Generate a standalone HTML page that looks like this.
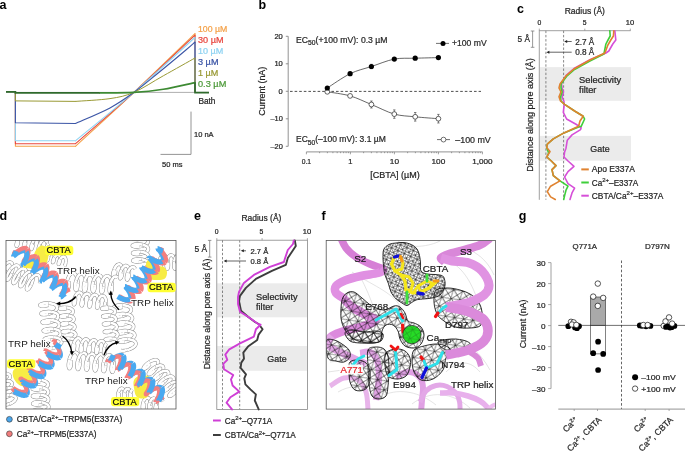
<!DOCTYPE html>
<html><head><meta charset="utf-8"><style>
html,body{margin:0;padding:0;background:#fff;overflow:hidden}
svg{display:block}
text{font-family:"Liberation Sans",sans-serif}
svg{-webkit-font-smoothing:antialiased;will-change:transform}
</style></head><body>
<svg width="685" height="451" viewBox="0 0 685 451">
<rect width="685" height="451" fill="#fff"/>
<clipPath id="cd"><rect x="6" y="240.4" width="170" height="168.6"/></clipPath>
<g clip-path="url(#cd)">
<path d="M18.2,240.5 L18.1,242.4 L17.8,244.2 L17.4,245.5 L16.9,246.1 L16.5,246.2 L16.3,245.6 L16.3,244.4 L16.6,242.8 L17.2,241.0 L18.0,239.1" fill="none" stroke="#858585" stroke-width="3.50" stroke-linecap="butt" stroke-linejoin="round"/>
<path d="M18.2,240.5 L18.1,242.4 L17.8,244.2 L17.4,245.5 L16.9,246.1 L16.5,246.2 L16.3,245.6 L16.3,244.4 L16.6,242.8 L17.2,241.0 L18.0,239.1" fill="none" stroke="#fff" stroke-width="2.60" stroke-linecap="butt" stroke-linejoin="round"/>
<path d="M18.0,239.1 L19.0,237.4 L20.2,236.1 L21.4,235.4 L22.6,235.2 L23.7,235.8 L24.6,236.9 L25.2,238.5 L25.5,240.4 L25.6,242.5" fill="none" stroke="#858585" stroke-width="3.50" stroke-linecap="butt" stroke-linejoin="round"/>
<path d="M18.0,239.1 L19.0,237.4 L20.2,236.1 L21.4,235.4 L22.6,235.2 L23.7,235.8 L24.6,236.9 L25.2,238.5 L25.5,240.4 L25.6,242.5" fill="none" stroke="#fff" stroke-width="2.60" stroke-linecap="butt" stroke-linejoin="round"/>
<path d="M25.6,242.5 L25.4,244.4 L25.0,246.1 L24.6,247.2 L24.1,247.7 L23.8,247.6 L23.6,246.9 L23.7,245.6 L24.1,243.9 L24.7,242.0 L25.6,240.2" fill="none" stroke="#858585" stroke-width="3.50" stroke-linecap="butt" stroke-linejoin="round"/>
<path d="M25.6,242.5 L25.4,244.4 L25.0,246.1 L24.6,247.2 L24.1,247.7 L23.8,247.6 L23.6,246.9 L23.7,245.6 L24.1,243.9 L24.7,242.0 L25.6,240.2" fill="none" stroke="#fff" stroke-width="2.60" stroke-linecap="butt" stroke-linejoin="round"/>
<path d="M25.6,240.2 L26.7,238.6 L27.9,237.4 L29.1,236.8 L30.3,236.8 L31.3,237.5 L32.1,238.8 L32.6,240.5 L32.9,242.5 L32.9,244.5" fill="none" stroke="#858585" stroke-width="3.50" stroke-linecap="butt" stroke-linejoin="round"/>
<path d="M25.6,240.2 L26.7,238.6 L27.9,237.4 L29.1,236.8 L30.3,236.8 L31.3,237.5 L32.1,238.8 L32.6,240.5 L32.9,242.5 L32.9,244.5" fill="none" stroke="#fff" stroke-width="2.60" stroke-linecap="butt" stroke-linejoin="round"/>
<path d="M32.9,244.5 L32.7,246.4 L32.3,247.9 L31.8,248.9 L31.4,249.3 L31.1,249.0 L31.0,248.1 L31.1,246.7 L31.5,245.0 L32.2,243.1" fill="none" stroke="#858585" stroke-width="3.50" stroke-linecap="butt" stroke-linejoin="round"/>
<path d="M32.9,244.5 L32.7,246.4 L32.3,247.9 L31.8,248.9 L31.4,249.3 L31.1,249.0 L31.0,248.1 L31.1,246.7 L31.5,245.0 L32.2,243.1" fill="none" stroke="#fff" stroke-width="2.60" stroke-linecap="butt" stroke-linejoin="round"/>
<path d="M32.2,243.1 L33.2,241.3 L34.3,239.8 L35.5,238.7 L36.8,238.3 L37.9,238.4 L38.9,239.3 L39.6,240.7 L40.1,242.5 L40.3,244.5 L40.2,246.5" fill="none" stroke="#858585" stroke-width="3.50" stroke-linecap="butt" stroke-linejoin="round"/>
<path d="M32.2,243.1 L33.2,241.3 L34.3,239.8 L35.5,238.7 L36.8,238.3 L37.9,238.4 L38.9,239.3 L39.6,240.7 L40.1,242.5 L40.3,244.5 L40.2,246.5" fill="none" stroke="#fff" stroke-width="2.60" stroke-linecap="butt" stroke-linejoin="round"/>
<path d="M40.2,246.5 L39.9,248.3 L39.5,249.7 L39.0,250.6 L38.6,250.8 L38.4,250.3 L38.3,249.3 L38.5,247.8 L39.0,246.0 L39.8,244.1" fill="none" stroke="#858585" stroke-width="3.50" stroke-linecap="butt" stroke-linejoin="round"/>
<path d="M40.2,246.5 L39.9,248.3 L39.5,249.7 L39.0,250.6 L38.6,250.8 L38.4,250.3 L38.3,249.3 L38.5,247.8 L39.0,246.0 L39.8,244.1" fill="none" stroke="#fff" stroke-width="2.60" stroke-linecap="butt" stroke-linejoin="round"/>
<path d="M39.8,244.1 L40.8,242.4 L41.9,241.0 L43.2,240.1 L44.4,239.8 L45.5,240.1 L46.4,241.1 L47.1,242.6 L47.5,244.5 L47.6,246.5 L47.5,248.5" fill="none" stroke="#858585" stroke-width="3.50" stroke-linecap="butt" stroke-linejoin="round"/>
<path d="M39.8,244.1 L40.8,242.4 L41.9,241.0 L43.2,240.1 L44.4,239.8 L45.5,240.1 L46.4,241.1 L47.1,242.6 L47.5,244.5 L47.6,246.5 L47.5,248.5" fill="none" stroke="#fff" stroke-width="2.60" stroke-linecap="butt" stroke-linejoin="round"/>
<path d="M47.5,248.5 L47.2,250.2 L46.7,251.5 L46.3,252.2 L45.9,252.2 L45.7,251.7 L45.7,250.5 L46.0,248.9 L46.5,247.1 L47.4,245.2" fill="none" stroke="#858585" stroke-width="3.50" stroke-linecap="butt" stroke-linejoin="round"/>
<path d="M47.5,248.5 L47.2,250.2 L46.7,251.5 L46.3,252.2 L45.9,252.2 L45.7,251.7 L45.7,250.5 L46.0,248.9 L46.5,247.1 L47.4,245.2" fill="none" stroke="#fff" stroke-width="2.60" stroke-linecap="butt" stroke-linejoin="round"/>
<path d="M47.4,245.2 L48.4,243.5" fill="none" stroke="#858585" stroke-width="3.50" stroke-linecap="butt" stroke-linejoin="round"/>
<path d="M47.4,245.2 L48.4,243.5" fill="none" stroke="#fff" stroke-width="2.60" stroke-linecap="butt" stroke-linejoin="round"/>
<path d="M5.1,269.5 L4.0,272.2 L2.8,274.5 L1.5,276.2 L0.4,276.9 L-0.3,276.8 L-0.6,275.8 L-0.4,274.0 L0.4,271.7 L1.7,269.1 L3.4,266.6" fill="none" stroke="#858585" stroke-width="3.50" stroke-linecap="butt" stroke-linejoin="round"/>
<path d="M5.1,269.5 L4.0,272.2 L2.8,274.5 L1.5,276.2 L0.4,276.9 L-0.3,276.8 L-0.6,275.8 L-0.4,274.0 L0.4,271.7 L1.7,269.1 L3.4,266.6" fill="none" stroke="#fff" stroke-width="2.60" stroke-linecap="butt" stroke-linejoin="round"/>
<path d="M3.4,266.6 L5.3,264.4 L7.3,262.8 L9.2,262.1 L10.8,262.2 L12.0,263.3 L12.7,265.1 L12.9,267.6 L12.5,270.5 L11.6,273.4" fill="none" stroke="#858585" stroke-width="3.50" stroke-linecap="butt" stroke-linejoin="round"/>
<path d="M3.4,266.6 L5.3,264.4 L7.3,262.8 L9.2,262.1 L10.8,262.2 L12.0,263.3 L12.7,265.1 L12.9,267.6 L12.5,270.5 L11.6,273.4" fill="none" stroke="#fff" stroke-width="2.60" stroke-linecap="butt" stroke-linejoin="round"/>
<path d="M11.6,273.4 L10.5,276.0 L9.2,278.2 L8.0,279.6 L7.0,280.2 L6.3,279.8 L6.2,278.6 L6.6,276.6 L7.5,274.2 L8.9,271.7 L10.6,269.2" fill="none" stroke="#858585" stroke-width="3.50" stroke-linecap="butt" stroke-linejoin="round"/>
<path d="M11.6,273.4 L10.5,276.0 L9.2,278.2 L8.0,279.6 L7.0,280.2 L6.3,279.8 L6.2,278.6 L6.6,276.6 L7.5,274.2 L8.9,271.7 L10.6,269.2" fill="none" stroke="#fff" stroke-width="2.60" stroke-linecap="butt" stroke-linejoin="round"/>
<path d="M10.6,269.2 L12.6,267.1 L14.6,265.8 L16.4,265.2 L18.0,265.6 L19.0,266.8 L19.6,268.9 L19.6,271.5 L19.1,274.4 L18.2,277.3" fill="none" stroke="#858585" stroke-width="3.50" stroke-linecap="butt" stroke-linejoin="round"/>
<path d="M10.6,269.2 L12.6,267.1 L14.6,265.8 L16.4,265.2 L18.0,265.6 L19.0,266.8 L19.6,268.9 L19.6,271.5 L19.1,274.4 L18.2,277.3" fill="none" stroke="#fff" stroke-width="2.60" stroke-linecap="butt" stroke-linejoin="round"/>
<path d="M18.2,277.3 L17.0,279.8 L15.7,281.8 L14.5,283.1 L13.6,283.4 L13.0,282.8 L13.0,281.3 L13.5,279.3 L14.6,276.8 L16.1,274.2" fill="none" stroke="#858585" stroke-width="3.50" stroke-linecap="butt" stroke-linejoin="round"/>
<path d="M18.2,277.3 L17.0,279.8 L15.7,281.8 L14.5,283.1 L13.6,283.4 L13.0,282.8 L13.0,281.3 L13.5,279.3 L14.6,276.8 L16.1,274.2" fill="none" stroke="#fff" stroke-width="2.60" stroke-linecap="butt" stroke-linejoin="round"/>
<path d="M16.1,274.2 L17.9,271.8 L19.9,269.9 L21.9,268.7 L23.6,268.4 L25.1,269.0 L26.0,270.5 L26.4,272.7 L26.3,275.4 L25.7,278.3 L24.7,281.1" fill="none" stroke="#858585" stroke-width="3.50" stroke-linecap="butt" stroke-linejoin="round"/>
<path d="M16.1,274.2 L17.9,271.8 L19.9,269.9 L21.9,268.7 L23.6,268.4 L25.1,269.0 L26.0,270.5 L26.4,272.7 L26.3,275.4 L25.7,278.3 L24.7,281.1" fill="none" stroke="#fff" stroke-width="2.60" stroke-linecap="butt" stroke-linejoin="round"/>
<path d="M24.7,281.1 L23.4,283.6 L22.2,285.4 L21.0,286.4 L20.2,286.5 L19.8,285.7 L19.9,284.1 L20.5,281.9 L21.7,279.3 L23.3,276.8" fill="none" stroke="#858585" stroke-width="3.50" stroke-linecap="butt" stroke-linejoin="round"/>
<path d="M24.7,281.1 L23.4,283.6 L22.2,285.4 L21.0,286.4 L20.2,286.5 L19.8,285.7 L19.9,284.1 L20.5,281.9 L21.7,279.3 L23.3,276.8" fill="none" stroke="#fff" stroke-width="2.60" stroke-linecap="butt" stroke-linejoin="round"/>
<path d="M23.3,276.8 L25.2,274.5 L27.2,272.7 L29.1,271.8 L30.8,271.7 L32.1,272.5 L33.0,274.2 L33.2,276.5 L33.0,279.3 L32.2,282.2 L31.2,285.0" fill="none" stroke="#858585" stroke-width="3.50" stroke-linecap="butt" stroke-linejoin="round"/>
<path d="M23.3,276.8 L25.2,274.5 L27.2,272.7 L29.1,271.8 L30.8,271.7 L32.1,272.5 L33.0,274.2 L33.2,276.5 L33.0,279.3 L32.2,282.2 L31.2,285.0" fill="none" stroke="#fff" stroke-width="2.60" stroke-linecap="butt" stroke-linejoin="round"/>
<path d="M31.2,285.0 L29.9,287.3 L28.7,288.9 L27.6,289.7 L26.8,289.6 L26.5,288.5 L26.8,286.8 L27.6,284.5 L28.9,281.9 L30.5,279.4" fill="none" stroke="#858585" stroke-width="3.50" stroke-linecap="butt" stroke-linejoin="round"/>
<path d="M31.2,285.0 L29.9,287.3 L28.7,288.9 L27.6,289.7 L26.8,289.6 L26.5,288.5 L26.8,286.8 L27.6,284.5 L28.9,281.9 L30.5,279.4" fill="none" stroke="#fff" stroke-width="2.60" stroke-linecap="butt" stroke-linejoin="round"/>
<path d="M30.5,279.4 L32.5,277.2 L34.5,275.6 L36.4,274.8 L38.0,275.0 L39.2,276.0 L39.9,277.9 L40.0,280.4 L39.6,283.2" fill="none" stroke="#858585" stroke-width="3.50" stroke-linecap="butt" stroke-linejoin="round"/>
<path d="M30.5,279.4 L32.5,277.2 L34.5,275.6 L36.4,274.8 L38.0,275.0 L39.2,276.0 L39.9,277.9 L40.0,280.4 L39.6,283.2" fill="none" stroke="#fff" stroke-width="2.60" stroke-linecap="butt" stroke-linejoin="round"/>
<path d="M48.6,256.5 L48.3,258.3 L47.8,259.8 L47.4,260.6 L47.0,260.7 L46.9,260.1 L47.2,258.8 L47.8,257.2 L48.7,255.6" fill="none" stroke="#858585" stroke-width="3.50" stroke-linecap="butt" stroke-linejoin="round"/>
<path d="M48.6,256.5 L48.3,258.3 L47.8,259.8 L47.4,260.6 L47.0,260.7 L46.9,260.1 L47.2,258.8 L47.8,257.2 L48.7,255.6" fill="none" stroke="#fff" stroke-width="2.60" stroke-linecap="butt" stroke-linejoin="round"/>
<path d="M48.7,255.6 L49.9,254.1 L51.2,253.2 L52.4,253.0 L53.4,253.5 L54.1,254.7 L54.4,256.4 L54.4,258.3" fill="none" stroke="#858585" stroke-width="3.50" stroke-linecap="butt" stroke-linejoin="round"/>
<path d="M48.7,255.6 L49.9,254.1 L51.2,253.2 L52.4,253.0 L53.4,253.5 L54.1,254.7 L54.4,256.4 L54.4,258.3" fill="none" stroke="#fff" stroke-width="2.60" stroke-linecap="butt" stroke-linejoin="round"/>
<path d="M54.4,258.3 L54.0,260.1 L53.6,261.6 L53.1,262.4 L52.7,262.5 L52.6,261.9 L52.9,260.6 L53.5,259.0 L54.5,257.4" fill="none" stroke="#858585" stroke-width="3.50" stroke-linecap="butt" stroke-linejoin="round"/>
<path d="M54.4,258.3 L54.0,260.1 L53.6,261.6 L53.1,262.4 L52.7,262.5 L52.6,261.9 L52.9,260.6 L53.5,259.0 L54.5,257.4" fill="none" stroke="#fff" stroke-width="2.60" stroke-linecap="butt" stroke-linejoin="round"/>
<path d="M54.5,257.4 L55.6,256.0 L56.9,255.0 L58.1,254.8 L59.1,255.3 L59.8,256.5 L60.1,258.2 L60.1,260.1" fill="none" stroke="#858585" stroke-width="3.50" stroke-linecap="butt" stroke-linejoin="round"/>
<path d="M54.5,257.4 L55.6,256.0 L56.9,255.0 L58.1,254.8 L59.1,255.3 L59.8,256.5 L60.1,258.2 L60.1,260.1" fill="none" stroke="#fff" stroke-width="2.60" stroke-linecap="butt" stroke-linejoin="round"/>
<path d="M60.1,260.1 L59.8,261.9 L59.3,263.4 L58.8,264.2 L58.5,264.3 L58.4,263.7 L58.6,262.4 L59.2,260.8 L60.2,259.2" fill="none" stroke="#858585" stroke-width="3.50" stroke-linecap="butt" stroke-linejoin="round"/>
<path d="M60.1,260.1 L59.8,261.9 L59.3,263.4 L58.8,264.2 L58.5,264.3 L58.4,263.7 L58.6,262.4 L59.2,260.8 L60.2,259.2" fill="none" stroke="#fff" stroke-width="2.60" stroke-linecap="butt" stroke-linejoin="round"/>
<path d="M60.2,259.2 L61.4,257.8 L62.6,256.8 L63.8,256.6 L64.8,257.1 L65.5,258.3 L65.8,260.0 L65.8,261.9" fill="none" stroke="#858585" stroke-width="3.50" stroke-linecap="butt" stroke-linejoin="round"/>
<path d="M60.2,259.2 L61.4,257.8 L62.6,256.8 L63.8,256.6 L64.8,257.1 L65.5,258.3 L65.8,260.0 L65.8,261.9" fill="none" stroke="#fff" stroke-width="2.60" stroke-linecap="butt" stroke-linejoin="round"/>
<path d="M65.8,261.9 L65.5,263.8 L65.0,265.2 L64.5,266.0 L64.2,266.1" fill="none" stroke="#858585" stroke-width="3.50" stroke-linecap="butt" stroke-linejoin="round"/>
<path d="M65.8,261.9 L65.5,263.8 L65.0,265.2 L64.5,266.0 L64.2,266.1" fill="none" stroke="#fff" stroke-width="2.60" stroke-linecap="butt" stroke-linejoin="round"/>
<path d="M140.1,239.0 L137.5,239.4 L135.1,239.3 L133.3,239.1 L132.3,238.6 L132.1,237.9 L132.8,237.3 L134.3,236.9 L136.5,236.6 L139.0,236.6 L141.7,237.0" fill="none" stroke="#858585" stroke-width="3.50" stroke-linecap="butt" stroke-linejoin="round"/>
<path d="M140.1,239.0 L137.5,239.4 L135.1,239.3 L133.3,239.1 L132.3,238.6 L132.1,237.9 L132.8,237.3 L134.3,236.9 L136.5,236.6 L139.0,236.6 L141.7,237.0" fill="none" stroke="#fff" stroke-width="2.60" stroke-linecap="butt" stroke-linejoin="round"/>
<path d="M141.7,237.0 L144.2,237.7 L146.3,238.7 L147.6,239.9 L148.2,241.3 L147.8,242.7 L146.6,244.0 L144.7,245.2 L142.3,246.1 L139.7,246.6" fill="none" stroke="#858585" stroke-width="3.50" stroke-linecap="butt" stroke-linejoin="round"/>
<path d="M141.7,237.0 L144.2,237.7 L146.3,238.7 L147.6,239.9 L148.2,241.3 L147.8,242.7 L146.6,244.0 L144.7,245.2 L142.3,246.1 L139.7,246.6" fill="none" stroke="#fff" stroke-width="2.60" stroke-linecap="butt" stroke-linejoin="round"/>
<path d="M139.7,246.6 L137.1,246.9 L134.9,246.8 L133.3,246.4 L132.4,245.9 L132.4,245.3 L133.4,244.7 L135.0,244.3 L137.3,244.1 L139.9,244.2 L142.6,244.6" fill="none" stroke="#858585" stroke-width="3.50" stroke-linecap="butt" stroke-linejoin="round"/>
<path d="M139.7,246.6 L137.1,246.9 L134.9,246.8 L133.3,246.4 L132.4,245.9 L132.4,245.3 L133.4,244.7 L135.0,244.3 L137.3,244.1 L139.9,244.2 L142.6,244.6" fill="none" stroke="#fff" stroke-width="2.60" stroke-linecap="butt" stroke-linejoin="round"/>
<path d="M142.6,244.6 L145.0,245.4 L146.9,246.4 L148.1,247.7 L148.4,249.1 L147.9,250.5 L146.5,251.8 L144.4,252.9 L141.9,253.7 L139.3,254.2" fill="none" stroke="#858585" stroke-width="3.50" stroke-linecap="butt" stroke-linejoin="round"/>
<path d="M142.6,244.6 L145.0,245.4 L146.9,246.4 L148.1,247.7 L148.4,249.1 L147.9,250.5 L146.5,251.8 L144.4,252.9 L141.9,253.7 L139.3,254.2" fill="none" stroke="#fff" stroke-width="2.60" stroke-linecap="butt" stroke-linejoin="round"/>
<path d="M139.3,254.2 L136.8,254.4 L134.7,254.2 L133.2,253.8 L132.6,253.2 L132.8,252.6 L134.0,252.1 L135.8,251.7 L138.2,251.6 L140.9,251.7" fill="none" stroke="#858585" stroke-width="3.50" stroke-linecap="butt" stroke-linejoin="round"/>
<path d="M139.3,254.2 L136.8,254.4 L134.7,254.2 L133.2,253.8 L132.6,253.2 L132.8,252.6 L134.0,252.1 L135.8,251.7 L138.2,251.6 L140.9,251.7" fill="none" stroke="#fff" stroke-width="2.60" stroke-linecap="butt" stroke-linejoin="round"/>
<path d="M140.9,251.7 L143.5,252.3 L145.8,253.1 L147.5,254.2 L148.5,255.6 L148.6,257.0 L147.8,258.4 L146.3,259.6 L144.1,260.7 L141.5,261.4 L138.9,261.8" fill="none" stroke="#858585" stroke-width="3.50" stroke-linecap="butt" stroke-linejoin="round"/>
<path d="M140.9,251.7 L143.5,252.3 L145.8,253.1 L147.5,254.2 L148.5,255.6 L148.6,257.0 L147.8,258.4 L146.3,259.6 L144.1,260.7 L141.5,261.4 L138.9,261.8" fill="none" stroke="#fff" stroke-width="2.60" stroke-linecap="butt" stroke-linejoin="round"/>
<path d="M138.9,261.8 L136.4,261.9 L134.5,261.6 L133.2,261.2 L132.8,260.6 L133.3,260.0 L134.6,259.5 L136.6,259.1 L139.1,259.1 L141.8,259.3" fill="none" stroke="#858585" stroke-width="3.50" stroke-linecap="butt" stroke-linejoin="round"/>
<path d="M138.9,261.8 L136.4,261.9 L134.5,261.6 L133.2,261.2 L132.8,260.6 L133.3,260.0 L134.6,259.5 L136.6,259.1 L139.1,259.1 L141.8,259.3" fill="none" stroke="#fff" stroke-width="2.60" stroke-linecap="butt" stroke-linejoin="round"/>
<path d="M141.8,259.3 L144.4,259.9 L146.5,260.9 L148.1,262.0 L148.9,263.4 L148.8,264.8 L147.8,266.2 L146.0,267.4 L143.7,268.4 L141.1,269.0" fill="none" stroke="#858585" stroke-width="3.50" stroke-linecap="butt" stroke-linejoin="round"/>
<path d="M141.8,259.3 L144.4,259.9 L146.5,260.9 L148.1,262.0 L148.9,263.4 L148.8,264.8 L147.8,266.2 L146.0,267.4 L143.7,268.4 L141.1,269.0" fill="none" stroke="#fff" stroke-width="2.60" stroke-linecap="butt" stroke-linejoin="round"/>
<path d="M160.7,262.0 L160.9,264.3 L160.9,266.3 L160.6,267.9 L160.2,268.8 L159.7,269.0 L159.3,268.3 L158.9,267.0 L158.8,265.1 L159.0,262.9 L159.4,260.5" fill="none" stroke="#858585" stroke-width="3.50" stroke-linecap="butt" stroke-linejoin="round"/>
<path d="M160.7,262.0 L160.9,264.3 L160.9,266.3 L160.6,267.9 L160.2,268.8 L159.7,269.0 L159.3,268.3 L158.9,267.0 L158.8,265.1 L159.0,262.9 L159.4,260.5" fill="none" stroke="#fff" stroke-width="2.60" stroke-linecap="butt" stroke-linejoin="round"/>
<path d="M159.4,260.5 L160.1,258.4 L161.1,256.6 L162.3,255.4 L163.5,255.0 L164.8,255.3 L166.0,256.4 L167.0,258.1 L167.8,260.3 L168.3,262.6" fill="none" stroke="#858585" stroke-width="3.50" stroke-linecap="butt" stroke-linejoin="round"/>
<path d="M159.4,260.5 L160.1,258.4 L161.1,256.6 L162.3,255.4 L163.5,255.0 L164.8,255.3 L166.0,256.4 L167.0,258.1 L167.8,260.3 L168.3,262.6" fill="none" stroke="#fff" stroke-width="2.60" stroke-linecap="butt" stroke-linejoin="round"/>
<path d="M168.3,262.6 L168.4,264.8 L168.3,266.8 L168.0,268.2 L167.6,268.9 L167.1,268.9 L166.7,268.1 L166.4,266.6 L166.3,264.6 L166.5,262.3 L167.1,260.0" fill="none" stroke="#858585" stroke-width="3.50" stroke-linecap="butt" stroke-linejoin="round"/>
<path d="M168.3,262.6 L168.4,264.8 L168.3,266.8 L168.0,268.2 L167.6,268.9 L167.1,268.9 L166.7,268.1 L166.4,266.6 L166.3,264.6 L166.5,262.3 L167.1,260.0" fill="none" stroke="#fff" stroke-width="2.60" stroke-linecap="butt" stroke-linejoin="round"/>
<path d="M167.1,260.0 L167.8,257.9 L168.9,256.3 L170.1,255.3 L171.4,255.0 L172.6,255.5 L173.8,256.8 L174.7,258.6 L175.4,260.8 L175.8,263.2" fill="none" stroke="#858585" stroke-width="3.50" stroke-linecap="butt" stroke-linejoin="round"/>
<path d="M167.1,260.0 L167.8,257.9 L168.9,256.3 L170.1,255.3 L171.4,255.0 L172.6,255.5 L173.8,256.8 L174.7,258.6 L175.4,260.8 L175.8,263.2" fill="none" stroke="#fff" stroke-width="2.60" stroke-linecap="butt" stroke-linejoin="round"/>
<path d="M175.8,263.2 L175.9,265.4 L175.8,267.2 L175.4,268.5 L175.0,269.0 L174.5,268.7 L174.1,267.7 L173.8,266.1 L173.9,264.0 L174.1,261.7" fill="none" stroke="#858585" stroke-width="3.50" stroke-linecap="butt" stroke-linejoin="round"/>
<path d="M175.8,263.2 L175.9,265.4 L175.8,267.2 L175.4,268.5 L175.0,269.0 L174.5,268.7 L174.1,267.7 L173.8,266.1 L173.9,264.0 L174.1,261.7" fill="none" stroke="#fff" stroke-width="2.60" stroke-linecap="butt" stroke-linejoin="round"/>
<path d="M174.1,261.7 L174.7,259.4 L175.6,257.4 L176.7,255.9 L177.9,255.1 L179.2,255.1 L180.4,255.8 L181.5,257.2 L182.4,259.2" fill="none" stroke="#858585" stroke-width="3.50" stroke-linecap="butt" stroke-linejoin="round"/>
<path d="M174.1,261.7 L174.7,259.4 L175.6,257.4 L176.7,255.9 L177.9,255.1 L179.2,255.1 L180.4,255.8 L181.5,257.2 L182.4,259.2" fill="none" stroke="#fff" stroke-width="2.60" stroke-linecap="butt" stroke-linejoin="round"/>
<path d="M115.6,270.5 L115.4,273.0 L114.8,275.1 L114.2,276.5 L113.6,277.2 L113.0,277.0 L112.8,275.9 L112.8,274.2 L113.3,272.0 L114.1,269.6" fill="none" stroke="#858585" stroke-width="3.50" stroke-linecap="butt" stroke-linejoin="round"/>
<path d="M115.6,270.5 L115.4,273.0 L114.8,275.1 L114.2,276.5 L113.6,277.2 L113.0,277.0 L112.8,275.9 L112.8,274.2 L113.3,272.0 L114.1,269.6" fill="none" stroke="#fff" stroke-width="2.60" stroke-linecap="butt" stroke-linejoin="round"/>
<path d="M114.1,269.6 L115.2,267.3 L116.5,265.5 L117.9,264.4 L119.4,264.1 L120.6,264.7 L121.6,266.1 L122.2,268.2 L122.5,270.6 L122.4,273.2" fill="none" stroke="#858585" stroke-width="3.50" stroke-linecap="butt" stroke-linejoin="round"/>
<path d="M114.1,269.6 L115.2,267.3 L116.5,265.5 L117.9,264.4 L119.4,264.1 L120.6,264.7 L121.6,266.1 L122.2,268.2 L122.5,270.6 L122.4,273.2" fill="none" stroke="#fff" stroke-width="2.60" stroke-linecap="butt" stroke-linejoin="round"/>
<path d="M122.4,273.2 L122.0,275.5 L121.4,277.3 L120.7,278.3 L120.1,278.6 L119.7,277.9 L119.6,276.5 L119.9,274.5 L120.5,272.1 L121.4,269.8" fill="none" stroke="#858585" stroke-width="3.50" stroke-linecap="butt" stroke-linejoin="round"/>
<path d="M122.4,273.2 L122.0,275.5 L121.4,277.3 L120.7,278.3 L120.1,278.6 L119.7,277.9 L119.6,276.5 L119.9,274.5 L120.5,272.1 L121.4,269.8" fill="none" stroke="#fff" stroke-width="2.60" stroke-linecap="butt" stroke-linejoin="round"/>
<path d="M121.4,269.8 L122.7,267.7 L124.1,266.3 L125.5,265.5 L126.9,265.7 L128.0,266.7 L128.8,268.5 L129.3,270.7 L129.3,273.3" fill="none" stroke="#858585" stroke-width="3.50" stroke-linecap="butt" stroke-linejoin="round"/>
<path d="M121.4,269.8 L122.7,267.7 L124.1,266.3 L125.5,265.5 L126.9,265.7 L128.0,266.7 L128.8,268.5 L129.3,270.7 L129.3,273.3" fill="none" stroke="#fff" stroke-width="2.60" stroke-linecap="butt" stroke-linejoin="round"/>
<path d="M129.3,273.3 L129.1,275.7 L128.6,277.8 L127.9,279.3 L127.3,279.9 L126.8,279.7 L126.5,278.7 L126.6,276.9 L127.0,274.7 L127.8,272.3" fill="none" stroke="#858585" stroke-width="3.50" stroke-linecap="butt" stroke-linejoin="round"/>
<path d="M129.3,273.3 L129.1,275.7 L128.6,277.8 L127.9,279.3 L127.3,279.9 L126.8,279.7 L126.5,278.7 L126.6,276.9 L127.0,274.7 L127.8,272.3" fill="none" stroke="#fff" stroke-width="2.60" stroke-linecap="butt" stroke-linejoin="round"/>
<path d="M127.8,272.3 L128.9,270.1 L130.2,268.3 L131.7,267.2 L133.1,266.9 L134.3,267.5 L135.3,268.9" fill="none" stroke="#858585" stroke-width="3.50" stroke-linecap="butt" stroke-linejoin="round"/>
<path d="M127.8,272.3 L128.9,270.1 L130.2,268.3 L131.7,267.2 L133.1,266.9 L134.3,267.5 L135.3,268.9" fill="none" stroke="#fff" stroke-width="2.60" stroke-linecap="butt" stroke-linejoin="round"/>
<path d="M3.6,374.2 L1.7,375.0 L0.0,375.4 L-1.3,375.6 L-2.1,375.5 L-2.3,375.2 L-1.9,374.7 L-0.8,374.2 L0.7,373.8 L2.6,373.5 L4.7,373.4" fill="none" stroke="#858585" stroke-width="3.50" stroke-linecap="butt" stroke-linejoin="round"/>
<path d="M3.6,374.2 L1.7,375.0 L0.0,375.4 L-1.3,375.6 L-2.1,375.5 L-2.3,375.2 L-1.9,374.7 L-0.8,374.2 L0.7,373.8 L2.6,373.5 L4.7,373.4" fill="none" stroke="#fff" stroke-width="2.60" stroke-linecap="butt" stroke-linejoin="round"/>
<path d="M4.7,373.4 L6.6,373.6 L8.3,374.1 L9.5,374.9 L10.2,375.9 L10.2,377.1 L9.6,378.3 L8.4,379.6 L6.8,380.7 L5.0,381.7" fill="none" stroke="#858585" stroke-width="3.50" stroke-linecap="butt" stroke-linejoin="round"/>
<path d="M4.7,373.4 L6.6,373.6 L8.3,374.1 L9.5,374.9 L10.2,375.9 L10.2,377.1 L9.6,378.3 L8.4,379.6 L6.8,380.7 L5.0,381.7" fill="none" stroke="#fff" stroke-width="2.60" stroke-linecap="butt" stroke-linejoin="round"/>
<path d="M5.0,381.7 L3.2,382.4 L1.5,382.8 L0.3,382.9 L-0.4,382.7 L-0.4,382.4 L0.2,381.9 L1.4,381.4 L3.0,381.0 L5.0,380.7 L7.0,380.7" fill="none" stroke="#858585" stroke-width="3.50" stroke-linecap="butt" stroke-linejoin="round"/>
<path d="M5.0,381.7 L3.2,382.4 L1.5,382.8 L0.3,382.9 L-0.4,382.7 L-0.4,382.4 L0.2,381.9 L1.4,381.4 L3.0,381.0 L5.0,380.7 L7.0,380.7" fill="none" stroke="#fff" stroke-width="2.60" stroke-linecap="butt" stroke-linejoin="round"/>
<path d="M7.0,380.7 L9.0,381.0 L10.5,381.5 L11.6,382.4 L12.1,383.4 L12.0,384.6 L11.2,385.9 L9.9,387.2 L8.2,388.3 L6.4,389.1" fill="none" stroke="#858585" stroke-width="3.50" stroke-linecap="butt" stroke-linejoin="round"/>
<path d="M7.0,380.7 L9.0,381.0 L10.5,381.5 L11.6,382.4 L12.1,383.4 L12.0,384.6 L11.2,385.9 L9.9,387.2 L8.2,388.3 L6.4,389.1" fill="none" stroke="#fff" stroke-width="2.60" stroke-linecap="butt" stroke-linejoin="round"/>
<path d="M6.4,389.1 L4.6,389.8 L3.1,390.1 L2.0,390.1 L1.4,389.9 L1.5,389.5 L2.3,389.0 L3.6,388.5 L5.4,388.1 L7.4,387.9" fill="none" stroke="#858585" stroke-width="3.50" stroke-linecap="butt" stroke-linejoin="round"/>
<path d="M6.4,389.1 L4.6,389.8 L3.1,390.1 L2.0,390.1 L1.4,389.9 L1.5,389.5 L2.3,389.0 L3.6,388.5 L5.4,388.1 L7.4,387.9" fill="none" stroke="#fff" stroke-width="2.60" stroke-linecap="butt" stroke-linejoin="round"/>
<path d="M7.4,387.9 L9.4,388.0 L11.3,388.3 L12.7,389.0 L13.7,389.9 L14.0,391.0 L13.7,392.2 L12.8,393.5 L11.4,394.7 L9.7,395.8 L7.8,396.6" fill="none" stroke="#858585" stroke-width="3.50" stroke-linecap="butt" stroke-linejoin="round"/>
<path d="M7.4,387.9 L9.4,388.0 L11.3,388.3 L12.7,389.0 L13.7,389.9 L14.0,391.0 L13.7,392.2 L12.8,393.5 L11.4,394.7 L9.7,395.8 L7.8,396.6" fill="none" stroke="#fff" stroke-width="2.60" stroke-linecap="butt" stroke-linejoin="round"/>
<path d="M7.8,396.6 L6.1,397.1 L4.6,397.4 L3.6,397.3 L3.3,397.1 L3.6,396.6 L4.5,396.1 L5.9,395.7 L7.7,395.3 L9.8,395.2" fill="none" stroke="#858585" stroke-width="3.50" stroke-linecap="butt" stroke-linejoin="round"/>
<path d="M7.8,396.6 L6.1,397.1 L4.6,397.4 L3.6,397.3 L3.3,397.1 L3.6,396.6 L4.5,396.1 L5.9,395.7 L7.7,395.3 L9.8,395.2" fill="none" stroke="#fff" stroke-width="2.60" stroke-linecap="butt" stroke-linejoin="round"/>
<path d="M9.8,395.2 L11.8,395.3 L13.5,395.7 L14.9,396.4 L15.7,397.4 L15.9,398.5 L15.4,399.8 L14.4,401.1 L12.8,402.3 L11.1,403.3 L9.2,404.0" fill="none" stroke="#858585" stroke-width="3.50" stroke-linecap="butt" stroke-linejoin="round"/>
<path d="M9.8,395.2 L11.8,395.3 L13.5,395.7 L14.9,396.4 L15.7,397.4 L15.9,398.5 L15.4,399.8 L14.4,401.1 L12.8,402.3 L11.1,403.3 L9.2,404.0" fill="none" stroke="#fff" stroke-width="2.60" stroke-linecap="butt" stroke-linejoin="round"/>
<path d="M9.2,404.0 L7.5,404.5 L6.2,404.7 L5.4,404.6 L5.2,404.2" fill="none" stroke="#858585" stroke-width="3.50" stroke-linecap="butt" stroke-linejoin="round"/>
<path d="M9.2,404.0 L7.5,404.5 L6.2,404.7 L5.4,404.6 L5.2,404.2" fill="none" stroke="#fff" stroke-width="2.60" stroke-linecap="butt" stroke-linejoin="round"/>
<path d="M40.1,382.0 L37.5,382.3 L35.1,382.3 L33.3,382.0 L32.3,381.5 L32.1,380.9 L32.8,380.3 L34.3,379.8 L36.5,379.6 L39.0,379.6 L41.7,380.0" fill="none" stroke="#858585" stroke-width="3.50" stroke-linecap="butt" stroke-linejoin="round"/>
<path d="M40.1,382.0 L37.5,382.3 L35.1,382.3 L33.3,382.0 L32.3,381.5 L32.1,380.9 L32.8,380.3 L34.3,379.8 L36.5,379.6 L39.0,379.6 L41.7,380.0" fill="none" stroke="#fff" stroke-width="2.60" stroke-linecap="butt" stroke-linejoin="round"/>
<path d="M41.7,380.0 L44.2,380.7 L46.2,381.7 L47.6,382.9 L48.2,384.3 L47.8,385.7 L46.6,387.0 L44.7,388.2 L42.3,389.1 L39.6,389.6" fill="none" stroke="#858585" stroke-width="3.50" stroke-linecap="butt" stroke-linejoin="round"/>
<path d="M41.7,380.0 L44.2,380.7 L46.2,381.7 L47.6,382.9 L48.2,384.3 L47.8,385.7 L46.6,387.0 L44.7,388.2 L42.3,389.1 L39.6,389.6" fill="none" stroke="#fff" stroke-width="2.60" stroke-linecap="butt" stroke-linejoin="round"/>
<path d="M39.6,389.6 L37.1,389.9 L34.8,389.8 L33.2,389.4 L32.4,388.9 L32.4,388.3 L33.3,387.7 L35.0,387.2 L37.3,387.1 L39.9,387.2 L42.6,387.6" fill="none" stroke="#858585" stroke-width="3.50" stroke-linecap="butt" stroke-linejoin="round"/>
<path d="M39.6,389.6 L37.1,389.9 L34.8,389.8 L33.2,389.4 L32.4,388.9 L32.4,388.3 L33.3,387.7 L35.0,387.2 L37.3,387.1 L39.9,387.2 L42.6,387.6" fill="none" stroke="#fff" stroke-width="2.60" stroke-linecap="butt" stroke-linejoin="round"/>
<path d="M42.6,387.6 L45.0,388.4 L46.9,389.5 L48.1,390.8 L48.4,392.2 L47.8,393.6 L46.4,394.9 L44.4,395.9 L41.9,396.8 L39.2,397.2" fill="none" stroke="#858585" stroke-width="3.50" stroke-linecap="butt" stroke-linejoin="round"/>
<path d="M42.6,387.6 L45.0,388.4 L46.9,389.5 L48.1,390.8 L48.4,392.2 L47.8,393.6 L46.4,394.9 L44.4,395.9 L41.9,396.8 L39.2,397.2" fill="none" stroke="#fff" stroke-width="2.60" stroke-linecap="butt" stroke-linejoin="round"/>
<path d="M39.2,397.2 L36.7,397.4 L34.6,397.2 L33.1,396.8 L32.5,396.2 L32.8,395.6 L33.9,395.1 L35.8,394.7 L38.1,394.6 L40.8,394.7" fill="none" stroke="#858585" stroke-width="3.50" stroke-linecap="butt" stroke-linejoin="round"/>
<path d="M39.2,397.2 L36.7,397.4 L34.6,397.2 L33.1,396.8 L32.5,396.2 L32.8,395.6 L33.9,395.1 L35.8,394.7 L38.1,394.6 L40.8,394.7" fill="none" stroke="#fff" stroke-width="2.60" stroke-linecap="butt" stroke-linejoin="round"/>
<path d="M40.8,394.7 L43.4,395.3 L45.7,396.1 L47.5,397.3 L48.4,398.6 L48.5,400.0 L47.8,401.4 L46.2,402.6 L44.0,403.7 L41.4,404.4 L38.8,404.8" fill="none" stroke="#858585" stroke-width="3.50" stroke-linecap="butt" stroke-linejoin="round"/>
<path d="M40.8,394.7 L43.4,395.3 L45.7,396.1 L47.5,397.3 L48.4,398.6 L48.5,400.0 L47.8,401.4 L46.2,402.6 L44.0,403.7 L41.4,404.4 L38.8,404.8" fill="none" stroke="#fff" stroke-width="2.60" stroke-linecap="butt" stroke-linejoin="round"/>
<path d="M38.8,404.8 L36.3,404.9 L34.4,404.6 L33.1,404.2 L32.7,403.6 L33.2,403.0 L34.5,402.4 L36.5,402.1 L39.0,402.1 L41.7,402.3" fill="none" stroke="#858585" stroke-width="3.50" stroke-linecap="butt" stroke-linejoin="round"/>
<path d="M38.8,404.8 L36.3,404.9 L34.4,404.6 L33.1,404.2 L32.7,403.6 L33.2,403.0 L34.5,402.4 L36.5,402.1 L39.0,402.1 L41.7,402.3" fill="none" stroke="#fff" stroke-width="2.60" stroke-linecap="butt" stroke-linejoin="round"/>
<path d="M41.7,402.3 L44.3,403.0 L46.5,403.9 L48.0,405.1 L48.8,406.4 L48.6,407.9 L47.6,409.2 L45.9,410.4 L43.6,411.4 L41.0,412.0 L38.3,412.3" fill="none" stroke="#858585" stroke-width="3.50" stroke-linecap="butt" stroke-linejoin="round"/>
<path d="M41.7,402.3 L44.3,403.0 L46.5,403.9 L48.0,405.1 L48.8,406.4 L48.6,407.9 L47.6,409.2 L45.9,410.4 L43.6,411.4 L41.0,412.0 L38.3,412.3" fill="none" stroke="#fff" stroke-width="2.60" stroke-linecap="butt" stroke-linejoin="round"/>
<path d="M38.3,412.3 L36.0,412.3 L34.2,412.0 L33.2,411.5 L33.0,410.9 L33.7,410.3 L35.2,409.8 L37.3,409.6 L39.9,409.6 L42.6,410.0" fill="none" stroke="#858585" stroke-width="3.50" stroke-linecap="butt" stroke-linejoin="round"/>
<path d="M38.3,412.3 L36.0,412.3 L34.2,412.0 L33.2,411.5 L33.0,410.9 L33.7,410.3 L35.2,409.8 L37.3,409.6 L39.9,409.6 L42.6,410.0" fill="none" stroke="#fff" stroke-width="2.60" stroke-linecap="butt" stroke-linejoin="round"/>
<path d="M150.1,364.2 L148.3,366.2 L146.6,367.7 L145.0,368.7 L143.9,369.0 L143.3,368.7 L143.5,367.8 L144.3,366.4 L145.7,364.8 L147.7,363.1 L149.9,361.6" fill="none" stroke="#858585" stroke-width="3.50" stroke-linecap="butt" stroke-linejoin="round"/>
<path d="M150.1,364.2 L148.3,366.2 L146.6,367.7 L145.0,368.7 L143.9,369.0 L143.3,368.7 L143.5,367.8 L144.3,366.4 L145.7,364.8 L147.7,363.1 L149.9,361.6" fill="none" stroke="#fff" stroke-width="2.60" stroke-linecap="butt" stroke-linejoin="round"/>
<path d="M149.9,361.6 L152.3,360.5 L154.5,359.9 L156.3,359.9 L157.6,360.6 L158.3,361.9 L158.3,363.7 L157.6,365.8 L156.4,368.0 L154.8,370.2" fill="none" stroke="#858585" stroke-width="3.50" stroke-linecap="butt" stroke-linejoin="round"/>
<path d="M149.9,361.6 L152.3,360.5 L154.5,359.9 L156.3,359.9 L157.6,360.6 L158.3,361.9 L158.3,363.7 L157.6,365.8 L156.4,368.0 L154.8,370.2" fill="none" stroke="#fff" stroke-width="2.60" stroke-linecap="butt" stroke-linejoin="round"/>
<path d="M154.8,370.2 L153.0,372.1 L151.3,373.5 L149.8,374.3 L148.8,374.4 L148.4,374.0 L148.7,372.9 L149.7,371.5 L151.3,369.8 L153.3,368.2 L155.6,366.8" fill="none" stroke="#858585" stroke-width="3.50" stroke-linecap="butt" stroke-linejoin="round"/>
<path d="M154.8,370.2 L153.0,372.1 L151.3,373.5 L149.8,374.3 L148.8,374.4 L148.4,374.0 L148.7,372.9 L149.7,371.5 L151.3,369.8 L153.3,368.2 L155.6,366.8" fill="none" stroke="#fff" stroke-width="2.60" stroke-linecap="butt" stroke-linejoin="round"/>
<path d="M155.6,366.8 L158.0,365.7 L160.1,365.3 L161.8,365.5 L163.0,366.3 L163.5,367.7 L163.3,369.6 L162.5,371.8 L161.1,374.1 L159.5,376.2" fill="none" stroke="#858585" stroke-width="3.50" stroke-linecap="butt" stroke-linejoin="round"/>
<path d="M155.6,366.8 L158.0,365.7 L160.1,365.3 L161.8,365.5 L163.0,366.3 L163.5,367.7 L163.3,369.6 L162.5,371.8 L161.1,374.1 L159.5,376.2" fill="none" stroke="#fff" stroke-width="2.60" stroke-linecap="butt" stroke-linejoin="round"/>
<path d="M159.5,376.2 L157.7,378.0 L156.0,379.2 L154.6,379.9 L153.8,379.9 L153.6,379.2 L154.1,378.1 L155.2,376.6 L156.9,374.9 L159.0,373.3" fill="none" stroke="#858585" stroke-width="3.50" stroke-linecap="butt" stroke-linejoin="round"/>
<path d="M159.5,376.2 L157.7,378.0 L156.0,379.2 L154.6,379.9 L153.8,379.9 L153.6,379.2 L154.1,378.1 L155.2,376.6 L156.9,374.9 L159.0,373.3" fill="none" stroke="#fff" stroke-width="2.60" stroke-linecap="butt" stroke-linejoin="round"/>
<path d="M159.0,373.3 L161.3,371.9 L163.6,371.0 L165.7,370.7 L167.3,371.1 L168.3,372.1 L168.6,373.6 L168.3,375.6 L167.3,377.9 L165.9,380.1 L164.2,382.1" fill="none" stroke="#858585" stroke-width="3.50" stroke-linecap="butt" stroke-linejoin="round"/>
<path d="M159.0,373.3 L161.3,371.9 L163.6,371.0 L165.7,370.7 L167.3,371.1 L168.3,372.1 L168.6,373.6 L168.3,375.6 L167.3,377.9 L165.9,380.1 L164.2,382.1" fill="none" stroke="#fff" stroke-width="2.60" stroke-linecap="butt" stroke-linejoin="round"/>
<path d="M164.2,382.1 L162.4,383.8 L160.7,384.9 L159.5,385.4 L158.8,385.2 L158.8,384.4 L159.4,383.2 L160.7,381.6 L162.5,379.9 L164.7,378.4" fill="none" stroke="#858585" stroke-width="3.50" stroke-linecap="butt" stroke-linejoin="round"/>
<path d="M164.2,382.1 L162.4,383.8 L160.7,384.9 L159.5,385.4 L158.8,385.2 L158.8,384.4 L159.4,383.2 L160.7,381.6 L162.5,379.9 L164.7,378.4" fill="none" stroke="#fff" stroke-width="2.60" stroke-linecap="butt" stroke-linejoin="round"/>
<path d="M164.7,378.4 L167.1,377.1 L169.3,376.4 L171.3,376.2 L172.7,376.8 L173.6,377.9 L173.7,379.6 L173.2,381.6 L172.1,383.9 L170.6,386.1 L168.8,388.1" fill="none" stroke="#858585" stroke-width="3.50" stroke-linecap="butt" stroke-linejoin="round"/>
<path d="M164.7,378.4 L167.1,377.1 L169.3,376.4 L171.3,376.2 L172.7,376.8 L173.6,377.9 L173.7,379.6 L173.2,381.6 L172.1,383.9 L170.6,386.1 L168.8,388.1" fill="none" stroke="#fff" stroke-width="2.60" stroke-linecap="butt" stroke-linejoin="round"/>
<path d="M168.8,388.1 L167.1,389.6 L165.5,390.6 L164.4,390.9 L163.9,390.6 L164.0,389.6 L164.8,388.3 L166.2,386.7 L168.2,385.0 L170.4,383.5" fill="none" stroke="#858585" stroke-width="3.50" stroke-linecap="butt" stroke-linejoin="round"/>
<path d="M168.8,388.1 L167.1,389.6 L165.5,390.6 L164.4,390.9 L163.9,390.6 L164.0,389.6 L164.8,388.3 L166.2,386.7 L168.2,385.0 L170.4,383.5" fill="none" stroke="#fff" stroke-width="2.60" stroke-linecap="butt" stroke-linejoin="round"/>
<path d="M170.4,383.5 L172.8,382.4 L175.0,381.8 L176.8,381.8 L178.1,382.5 L178.8,383.7 L178.8,385.5 L178.1,387.7 L176.9,389.9 L175.3,392.1" fill="none" stroke="#858585" stroke-width="3.50" stroke-linecap="butt" stroke-linejoin="round"/>
<path d="M170.4,383.5 L172.8,382.4 L175.0,381.8 L176.8,381.8 L178.1,382.5 L178.8,383.7 L178.8,385.5 L178.1,387.7 L176.9,389.9 L175.3,392.1" fill="none" stroke="#fff" stroke-width="2.60" stroke-linecap="butt" stroke-linejoin="round"/>
<path d="M175.3,392.1 L173.5,394.0 L171.8,395.4 L170.3,396.2 L169.3,396.3 L169.0,395.8 L169.3,394.8 L170.2,393.4 L171.8,391.7 L173.9,390.1 L176.1,388.6" fill="none" stroke="#858585" stroke-width="3.50" stroke-linecap="butt" stroke-linejoin="round"/>
<path d="M175.3,392.1 L173.5,394.0 L171.8,395.4 L170.3,396.2 L169.3,396.3 L169.0,395.8 L169.3,394.8 L170.2,393.4 L171.8,391.7 L173.9,390.1 L176.1,388.6" fill="none" stroke="#fff" stroke-width="2.60" stroke-linecap="butt" stroke-linejoin="round"/>
<path d="M176.1,388.6 L178.5,387.6 L180.6,387.2 L182.3,387.4 L183.5,388.2 L184.0,389.6" fill="none" stroke="#858585" stroke-width="3.50" stroke-linecap="butt" stroke-linejoin="round"/>
<path d="M176.1,388.6 L178.5,387.6 L180.6,387.2 L182.3,387.4 L183.5,388.2 L184.0,389.6" fill="none" stroke="#fff" stroke-width="2.60" stroke-linecap="butt" stroke-linejoin="round"/>
<path d="M118.9,393.1 L119.0,395.2 L118.8,396.8 L118.5,397.9 L118.1,398.1 L117.8,397.4 L117.7,396.0 L117.9,394.1 L118.4,392.0" fill="none" stroke="#858585" stroke-width="3.50" stroke-linecap="butt" stroke-linejoin="round"/>
<path d="M118.9,393.1 L119.0,395.2 L118.8,396.8 L118.5,397.9 L118.1,398.1 L117.8,397.4 L117.7,396.0 L117.9,394.1 L118.4,392.0" fill="none" stroke="#fff" stroke-width="2.60" stroke-linecap="butt" stroke-linejoin="round"/>
<path d="M118.4,392.0 L119.2,390.2 L120.3,388.9 L121.5,388.3 L122.7,388.6 L123.7,389.7 L124.4,391.4 L124.9,393.5" fill="none" stroke="#858585" stroke-width="3.50" stroke-linecap="butt" stroke-linejoin="round"/>
<path d="M118.4,392.0 L119.2,390.2 L120.3,388.9 L121.5,388.3 L122.7,388.6 L123.7,389.7 L124.4,391.4 L124.9,393.5" fill="none" stroke="#fff" stroke-width="2.60" stroke-linecap="butt" stroke-linejoin="round"/>
<path d="M124.9,393.5 L125.0,395.5 L124.8,397.2 L124.5,398.2 L124.1,398.4 L123.8,397.8 L123.7,396.4 L123.9,394.5 L124.4,392.4" fill="none" stroke="#858585" stroke-width="3.50" stroke-linecap="butt" stroke-linejoin="round"/>
<path d="M124.9,393.5 L125.0,395.5 L124.8,397.2 L124.5,398.2 L124.1,398.4 L123.8,397.8 L123.7,396.4 L123.9,394.5 L124.4,392.4" fill="none" stroke="#fff" stroke-width="2.60" stroke-linecap="butt" stroke-linejoin="round"/>
<path d="M124.4,392.4 L125.2,390.6 L126.3,389.2 L127.5,388.7 L128.7,389.0 L129.7,390.1 L130.4,391.8 L130.9,393.9" fill="none" stroke="#858585" stroke-width="3.50" stroke-linecap="butt" stroke-linejoin="round"/>
<path d="M124.4,392.4 L125.2,390.6 L126.3,389.2 L127.5,388.7 L128.7,389.0 L129.7,390.1 L130.4,391.8 L130.9,393.9" fill="none" stroke="#fff" stroke-width="2.60" stroke-linecap="butt" stroke-linejoin="round"/>
<path d="M130.9,393.9 L131.0,395.9 L130.8,397.6 L130.5,398.6 L130.1,398.8 L129.8,398.1 L129.7,396.7 L129.9,394.8 L130.4,392.8" fill="none" stroke="#858585" stroke-width="3.50" stroke-linecap="butt" stroke-linejoin="round"/>
<path d="M130.9,393.9 L131.0,395.9 L130.8,397.6 L130.5,398.6 L130.1,398.8 L129.8,398.1 L129.7,396.7 L129.9,394.8 L130.4,392.8" fill="none" stroke="#fff" stroke-width="2.60" stroke-linecap="butt" stroke-linejoin="round"/>
<path d="M130.4,392.8 L131.2,390.9 L132.3,389.6" fill="none" stroke="#858585" stroke-width="3.50" stroke-linecap="butt" stroke-linejoin="round"/>
<path d="M130.4,392.8 L131.2,390.9 L132.3,389.6" fill="none" stroke="#fff" stroke-width="2.60" stroke-linecap="butt" stroke-linejoin="round"/>
<path d="M144.3,403.2 L144.3,405.5 L144.0,407.4 L143.5,408.7 L143.0,409.1 L142.6,408.7 L142.4,407.5 L142.5,405.6 L142.9,403.4 L143.6,401.2" fill="none" stroke="#858585" stroke-width="3.50" stroke-linecap="butt" stroke-linejoin="round"/>
<path d="M144.3,403.2 L144.3,405.5 L144.0,407.4 L143.5,408.7 L143.0,409.1 L142.6,408.7 L142.4,407.5 L142.5,405.6 L142.9,403.4 L143.6,401.2" fill="none" stroke="#fff" stroke-width="2.60" stroke-linecap="butt" stroke-linejoin="round"/>
<path d="M143.6,401.2 L144.7,399.3 L145.9,398.0 L147.2,397.5 L148.5,397.9 L149.5,399.2 L150.3,401.1 L150.7,403.3 L150.8,405.6" fill="none" stroke="#858585" stroke-width="3.50" stroke-linecap="butt" stroke-linejoin="round"/>
<path d="M143.6,401.2 L144.7,399.3 L145.9,398.0 L147.2,397.5 L148.5,397.9 L149.5,399.2 L150.3,401.1 L150.7,403.3 L150.8,405.6" fill="none" stroke="#fff" stroke-width="2.60" stroke-linecap="butt" stroke-linejoin="round"/>
<path d="M150.8,405.6 L150.5,407.7 L150.1,409.1 L149.6,409.8 L149.2,409.6 L148.9,408.5 L148.9,406.8 L149.2,404.6 L149.9,402.4" fill="none" stroke="#858585" stroke-width="3.50" stroke-linecap="butt" stroke-linejoin="round"/>
<path d="M150.8,405.6 L150.5,407.7 L150.1,409.1 L149.6,409.8 L149.2,409.6 L148.9,408.5 L148.9,406.8 L149.2,404.6 L149.9,402.4" fill="none" stroke="#fff" stroke-width="2.60" stroke-linecap="butt" stroke-linejoin="round"/>
<path d="M149.9,402.4 L150.9,400.4 L152.1,398.9 L153.4,398.3 L154.6,398.4 L155.7,399.5 L156.6,401.2 L157.1,403.4 L157.2,405.8" fill="none" stroke="#858585" stroke-width="3.50" stroke-linecap="butt" stroke-linejoin="round"/>
<path d="M149.9,402.4 L150.9,400.4 L152.1,398.9 L153.4,398.3 L154.6,398.4 L155.7,399.5 L156.6,401.2 L157.1,403.4 L157.2,405.8" fill="none" stroke="#fff" stroke-width="2.60" stroke-linecap="butt" stroke-linejoin="round"/>
<path d="M157.2,405.8 L157.1,407.9 L156.7,409.5 L156.2,410.4 L155.7,410.4 L155.4,409.5 L155.3,407.9 L155.6,405.9 L156.2,403.6" fill="none" stroke="#858585" stroke-width="3.50" stroke-linecap="butt" stroke-linejoin="round"/>
<path d="M157.2,405.8 L157.1,407.9 L156.7,409.5 L156.2,410.4 L155.7,410.4 L155.4,409.5 L155.3,407.9 L155.6,405.9 L156.2,403.6" fill="none" stroke="#fff" stroke-width="2.60" stroke-linecap="butt" stroke-linejoin="round"/>
<path d="M156.2,403.6 L157.1,401.5 L158.2,399.9 L159.5,399.0 L160.8,399.0 L161.9,399.8 L162.9,401.4" fill="none" stroke="#858585" stroke-width="3.50" stroke-linecap="butt" stroke-linejoin="round"/>
<path d="M156.2,403.6 L157.1,401.5 L158.2,399.9 L159.5,399.0 L160.8,399.0 L161.9,399.8 L162.9,401.4" fill="none" stroke="#fff" stroke-width="2.60" stroke-linecap="butt" stroke-linejoin="round"/>
<path d="M69.2,281.3 L69.3,283.7 L69.1,286.0 L68.7,287.8 L68.2,289.0 L67.7,289.6 L67.1,289.5 L66.7,288.6 L66.5,287.2 L66.4,285.2 L66.7,282.9 L67.2,280.5" fill="none" stroke="#858585" stroke-width="3.50" stroke-linecap="butt" stroke-linejoin="round"/>
<path d="M69.2,281.3 L69.3,283.7 L69.1,286.0 L68.7,287.8 L68.2,289.0 L67.7,289.6 L67.1,289.5 L66.7,288.6 L66.5,287.2 L66.4,285.2 L66.7,282.9 L67.2,280.5" fill="none" stroke="#fff" stroke-width="2.60" stroke-linecap="butt" stroke-linejoin="round"/>
<path d="M67.2,280.5 L68.0,278.1 L69.0,276.0 L70.3,274.4 L71.6,273.4 L72.9,273.0 L74.2,273.4 L75.4,274.5 L76.4,276.1 L77.2,278.3 L77.7,280.7 L77.9,283.2" fill="none" stroke="#858585" stroke-width="3.50" stroke-linecap="butt" stroke-linejoin="round"/>
<path d="M67.2,280.5 L68.0,278.1 L69.0,276.0 L70.3,274.4 L71.6,273.4 L72.9,273.0 L74.2,273.4 L75.4,274.5 L76.4,276.1 L77.2,278.3 L77.7,280.7 L77.9,283.2" fill="none" stroke="#fff" stroke-width="2.60" stroke-linecap="butt" stroke-linejoin="round"/>
<path d="M77.9,283.2 L77.8,285.6 L77.5,287.6 L77.1,289.2 L76.5,290.1 L76.0,290.3 L75.5,289.8 L75.1,288.7 L75.0,286.9 L75.1,284.8 L75.5,282.4 L76.2,280.0" fill="none" stroke="#858585" stroke-width="3.50" stroke-linecap="butt" stroke-linejoin="round"/>
<path d="M77.9,283.2 L77.8,285.6 L77.5,287.6 L77.1,289.2 L76.5,290.1 L76.0,290.3 L75.5,289.8 L75.1,288.7 L75.0,286.9 L75.1,284.8 L75.5,282.4 L76.2,280.0" fill="none" stroke="#fff" stroke-width="2.60" stroke-linecap="butt" stroke-linejoin="round"/>
<path d="M76.2,280.0 L77.1,277.7 L78.2,275.8 L79.5,274.5 L80.8,273.8 L82.2,273.8 L83.4,274.5 L84.5,275.9 L85.4,277.8 L86.0,280.1 L86.4,282.6" fill="none" stroke="#858585" stroke-width="3.50" stroke-linecap="butt" stroke-linejoin="round"/>
<path d="M76.2,280.0 L77.1,277.7 L78.2,275.8 L79.5,274.5 L80.8,273.8 L82.2,273.8 L83.4,274.5 L84.5,275.9 L85.4,277.8 L86.0,280.1 L86.4,282.6" fill="none" stroke="#fff" stroke-width="2.60" stroke-linecap="butt" stroke-linejoin="round"/>
<path d="M86.4,282.6 L86.4,285.1 L86.3,287.3 L85.9,289.1 L85.4,290.4 L84.8,291.0 L84.3,290.8 L83.9,290.0 L83.6,288.5 L83.6,286.6 L83.8,284.3 L84.4,281.8" fill="none" stroke="#858585" stroke-width="3.50" stroke-linecap="butt" stroke-linejoin="round"/>
<path d="M86.4,282.6 L86.4,285.1 L86.3,287.3 L85.9,289.1 L85.4,290.4 L84.8,291.0 L84.3,290.8 L83.9,290.0 L83.6,288.5 L83.6,286.6 L83.8,284.3 L84.4,281.8" fill="none" stroke="#fff" stroke-width="2.60" stroke-linecap="butt" stroke-linejoin="round"/>
<path d="M84.4,281.8 L85.2,279.5 L86.2,277.4 L87.4,275.8 L88.7,274.7 L90.1,274.4 L91.4,274.8 L92.6,275.8 L93.6,277.5 L94.3,279.6 L94.8,282.1 L95.0,284.6" fill="none" stroke="#858585" stroke-width="3.50" stroke-linecap="butt" stroke-linejoin="round"/>
<path d="M84.4,281.8 L85.2,279.5 L86.2,277.4 L87.4,275.8 L88.7,274.7 L90.1,274.4 L91.4,274.8 L92.6,275.8 L93.6,277.5 L94.3,279.6 L94.8,282.1 L95.0,284.6" fill="none" stroke="#fff" stroke-width="2.60" stroke-linecap="butt" stroke-linejoin="round"/>
<path d="M95.0,284.6 L94.9,286.9 L94.7,289.0 L94.2,290.5 L93.7,291.5 L93.1,291.7 L92.6,291.2 L92.3,290.0 L92.1,288.3 L92.3,286.1 L92.6,283.8 L93.3,281.3" fill="none" stroke="#858585" stroke-width="3.50" stroke-linecap="butt" stroke-linejoin="round"/>
<path d="M95.0,284.6 L94.9,286.9 L94.7,289.0 L94.2,290.5 L93.7,291.5 L93.1,291.7 L92.6,291.2 L92.3,290.0 L92.1,288.3 L92.3,286.1 L92.6,283.8 L93.3,281.3" fill="none" stroke="#fff" stroke-width="2.60" stroke-linecap="butt" stroke-linejoin="round"/>
<path d="M93.3,281.3 L94.2,279.1 L95.4,277.2 L96.6,275.9 L98.0,275.2 L99.3,275.2 L100.6,275.9 L101.7,277.3 L102.6,279.2 L103.2,281.5 L103.5,284.0 L103.6,286.5" fill="none" stroke="#858585" stroke-width="3.50" stroke-linecap="butt" stroke-linejoin="round"/>
<path d="M93.3,281.3 L94.2,279.1 L95.4,277.2 L96.6,275.9 L98.0,275.2 L99.3,275.2 L100.6,275.9 L101.7,277.3 L102.6,279.2 L103.2,281.5 L103.5,284.0 L103.6,286.5" fill="none" stroke="#fff" stroke-width="2.60" stroke-linecap="butt" stroke-linejoin="round"/>
<path d="M103.6,286.5 L103.4,288.7 L103.0,290.5 L102.5,291.8 L102.0,292.4 L101.4,292.2 L101.0,291.4 L100.8,289.9 L100.7,288.0 L101.0,285.7 L101.5,283.2" fill="none" stroke="#858585" stroke-width="3.50" stroke-linecap="butt" stroke-linejoin="round"/>
<path d="M103.6,286.5 L103.4,288.7 L103.0,290.5 L102.5,291.8 L102.0,292.4 L101.4,292.2 L101.0,291.4 L100.8,289.9 L100.7,288.0 L101.0,285.7 L101.5,283.2" fill="none" stroke="#fff" stroke-width="2.60" stroke-linecap="butt" stroke-linejoin="round"/>
<path d="M101.5,283.2 L102.3,280.9 L103.3,278.8 L104.6,277.1 L105.9,276.1 L107.2,275.8 L108.5,276.2 L109.7,277.2 L110.7,278.9 L111.5,281.0 L111.9,283.4 L112.1,285.9" fill="none" stroke="#858585" stroke-width="3.50" stroke-linecap="butt" stroke-linejoin="round"/>
<path d="M101.5,283.2 L102.3,280.9 L103.3,278.8 L104.6,277.1 L105.9,276.1 L107.2,275.8 L108.5,276.2 L109.7,277.2 L110.7,278.9 L111.5,281.0 L111.9,283.4 L112.1,285.9" fill="none" stroke="#fff" stroke-width="2.60" stroke-linecap="butt" stroke-linejoin="round"/>
<path d="M112.1,285.9 L112.1,288.3 L111.8,290.4 L111.4,291.9 L110.8,292.8 L110.3,293.1 L109.8,292.6 L109.4,291.4 L109.3,289.7 L109.4,287.5 L109.8,285.1 L110.5,282.7" fill="none" stroke="#858585" stroke-width="3.50" stroke-linecap="butt" stroke-linejoin="round"/>
<path d="M112.1,285.9 L112.1,288.3 L111.8,290.4 L111.4,291.9 L110.8,292.8 L110.3,293.1 L109.8,292.6 L109.4,291.4 L109.3,289.7 L109.4,287.5 L109.8,285.1 L110.5,282.7" fill="none" stroke="#fff" stroke-width="2.60" stroke-linecap="butt" stroke-linejoin="round"/>
<path d="M110.5,282.7 L111.4,280.5 L112.5,278.6 L113.8,277.2 L115.1,276.5 L116.5,276.6 L117.7,277.3" fill="none" stroke="#858585" stroke-width="3.50" stroke-linecap="butt" stroke-linejoin="round"/>
<path d="M110.5,282.7 L111.4,280.5 L112.5,278.6 L113.8,277.2 L115.1,276.5 L116.5,276.6 L117.7,277.3" fill="none" stroke="#fff" stroke-width="2.60" stroke-linecap="butt" stroke-linejoin="round"/>
<path d="M48.4,305.2 L46.0,305.8 L43.8,306.1 L41.9,306.1 L40.6,305.9 L39.9,305.4 L39.9,304.9 L40.7,304.3 L42.1,303.7 L44.0,303.3 L46.3,303.1 L48.8,303.1" fill="none" stroke="#858585" stroke-width="3.50" stroke-linecap="butt" stroke-linejoin="round"/>
<path d="M48.4,305.2 L46.0,305.8 L43.8,306.1 L41.9,306.1 L40.6,305.9 L39.9,305.4 L39.9,304.9 L40.7,304.3 L42.1,303.7 L44.0,303.3 L46.3,303.1 L48.8,303.1" fill="none" stroke="#fff" stroke-width="2.60" stroke-linecap="butt" stroke-linejoin="round"/>
<path d="M48.8,303.1 L51.2,303.4 L53.5,303.9 L55.3,304.8 L56.6,305.9 L57.2,307.1 L57.1,308.5 L56.3,309.9 L54.9,311.2 L53.0,312.4 L50.7,313.3 L48.3,314.1" fill="none" stroke="#858585" stroke-width="3.50" stroke-linecap="butt" stroke-linejoin="round"/>
<path d="M48.8,303.1 L51.2,303.4 L53.5,303.9 L55.3,304.8 L56.6,305.9 L57.2,307.1 L57.1,308.5 L56.3,309.9 L54.9,311.2 L53.0,312.4 L50.7,313.3 L48.3,314.1" fill="none" stroke="#fff" stroke-width="2.60" stroke-linecap="butt" stroke-linejoin="round"/>
<path d="M48.3,314.1 L46.0,314.5 L43.9,314.6 L42.3,314.5 L41.3,314.2 L41.0,313.7 L41.3,313.1 L42.4,312.5 L44.1,312.0 L46.2,311.7 L48.6,311.6 L51.1,311.7" fill="none" stroke="#858585" stroke-width="3.50" stroke-linecap="butt" stroke-linejoin="round"/>
<path d="M48.3,314.1 L46.0,314.5 L43.9,314.6 L42.3,314.5 L41.3,314.2 L41.0,313.7 L41.3,313.1 L42.4,312.5 L44.1,312.0 L46.2,311.7 L48.6,311.6 L51.1,311.7" fill="none" stroke="#fff" stroke-width="2.60" stroke-linecap="butt" stroke-linejoin="round"/>
<path d="M51.1,311.7 L53.5,312.2 L55.6,312.9 L57.2,313.8 L58.1,315.0 L58.4,316.3 L57.9,317.7 L56.8,319.1 L55.1,320.3 L53.0,321.4 L50.6,322.3" fill="none" stroke="#858585" stroke-width="3.50" stroke-linecap="butt" stroke-linejoin="round"/>
<path d="M51.1,311.7 L53.5,312.2 L55.6,312.9 L57.2,313.8 L58.1,315.0 L58.4,316.3 L57.9,317.7 L56.8,319.1 L55.1,320.3 L53.0,321.4 L50.6,322.3" fill="none" stroke="#fff" stroke-width="2.60" stroke-linecap="butt" stroke-linejoin="round"/>
<path d="M50.6,322.3 L48.2,322.8 L46.0,323.1 L44.2,323.1 L42.8,322.9 L42.2,322.5 L42.2,321.9 L42.9,321.3 L44.3,320.8 L46.2,320.4 L48.5,320.1 L51.0,320.1" fill="none" stroke="#858585" stroke-width="3.50" stroke-linecap="butt" stroke-linejoin="round"/>
<path d="M50.6,322.3 L48.2,322.8 L46.0,323.1 L44.2,323.1 L42.8,322.9 L42.2,322.5 L42.2,321.9 L42.9,321.3 L44.3,320.8 L46.2,320.4 L48.5,320.1 L51.0,320.1" fill="none" stroke="#fff" stroke-width="2.60" stroke-linecap="butt" stroke-linejoin="round"/>
<path d="M51.0,320.1 L53.5,320.4 L55.7,321.0 L57.6,321.9 L58.8,322.9 L59.5,324.2 L59.4,325.5 L58.6,326.9 L57.1,328.2 L55.2,329.4 L53.0,330.4 L50.5,331.1" fill="none" stroke="#858585" stroke-width="3.50" stroke-linecap="butt" stroke-linejoin="round"/>
<path d="M51.0,320.1 L53.5,320.4 L55.7,321.0 L57.6,321.9 L58.8,322.9 L59.5,324.2 L59.4,325.5 L58.6,326.9 L57.1,328.2 L55.2,329.4 L53.0,330.4 L50.5,331.1" fill="none" stroke="#fff" stroke-width="2.60" stroke-linecap="butt" stroke-linejoin="round"/>
<path d="M50.5,331.1 L48.2,331.5 L46.2,331.7 L44.5,331.6 L43.5,331.2 L43.2,330.7 L43.6,330.2 L44.6,329.6 L46.3,329.1 L48.4,328.8 L50.8,328.6 L53.4,328.8" fill="none" stroke="#858585" stroke-width="3.50" stroke-linecap="butt" stroke-linejoin="round"/>
<path d="M50.5,331.1 L48.2,331.5 L46.2,331.7 L44.5,331.6 L43.5,331.2 L43.2,330.7 L43.6,330.2 L44.6,329.6 L46.3,329.1 L48.4,328.8 L50.8,328.6 L53.4,328.8" fill="none" stroke="#fff" stroke-width="2.60" stroke-linecap="butt" stroke-linejoin="round"/>
<path d="M53.4,328.8 L55.7,329.2 L57.8,329.9 L59.4,330.9 L60.4,332.1 L60.6,333.4 L60.2,334.8 L59.0,336.1 L57.3,337.4 L55.2,338.5 L52.9,339.3 L50.5,339.9" fill="none" stroke="#858585" stroke-width="3.50" stroke-linecap="butt" stroke-linejoin="round"/>
<path d="M53.4,328.8 L55.7,329.2 L57.8,329.9 L59.4,330.9 L60.4,332.1 L60.6,333.4 L60.2,334.8 L59.0,336.1 L57.3,337.4 L55.2,338.5 L52.9,339.3 L50.5,339.9" fill="none" stroke="#fff" stroke-width="2.60" stroke-linecap="butt" stroke-linejoin="round"/>
<path d="M50.5,339.9 L48.3,340.2 L46.4,340.2 L45.1,340.0 L44.4,339.5 L44.4,339.0 L45.1,338.4 L46.5,337.9 L48.4,337.4 L50.7,337.2 L53.2,337.2" fill="none" stroke="#858585" stroke-width="3.50" stroke-linecap="butt" stroke-linejoin="round"/>
<path d="M50.5,339.9 L48.3,340.2 L46.4,340.2 L45.1,340.0 L44.4,339.5 L44.4,339.0 L45.1,338.4 L46.5,337.9 L48.4,337.4 L50.7,337.2 L53.2,337.2" fill="none" stroke="#fff" stroke-width="2.60" stroke-linecap="butt" stroke-linejoin="round"/>
<path d="M53.2,337.2 L55.7,337.5 L57.9,338.1 L59.8,338.9 L61.1,340.0 L61.7,341.2 L61.6,342.6 L60.8,344.0 L59.4,345.3 L57.4,346.5 L55.2,347.4 L52.8,348.2" fill="none" stroke="#858585" stroke-width="3.50" stroke-linecap="butt" stroke-linejoin="round"/>
<path d="M53.2,337.2 L55.7,337.5 L57.9,338.1 L59.8,338.9 L61.1,340.0 L61.7,341.2 L61.6,342.6 L60.8,344.0 L59.4,345.3 L57.4,346.5 L55.2,347.4 L52.8,348.2" fill="none" stroke="#fff" stroke-width="2.60" stroke-linecap="butt" stroke-linejoin="round"/>
<path d="M52.8,348.2 L50.4,348.6 L48.4,348.7 L46.8,348.6 L45.7,348.3 L45.4,347.8 L45.8,347.2 L46.9,346.6" fill="none" stroke="#858585" stroke-width="3.50" stroke-linecap="butt" stroke-linejoin="round"/>
<path d="M52.8,348.2 L50.4,348.6 L48.4,348.7 L46.8,348.6 L45.7,348.3 L45.4,347.8 L45.8,347.2 L46.9,346.6" fill="none" stroke="#fff" stroke-width="2.60" stroke-linecap="butt" stroke-linejoin="round"/>
<path d="M122.4,307.2 L120.0,307.8 L117.8,308.1 L116.0,308.1 L114.6,307.9 L113.9,307.5 L114.0,306.9 L114.7,306.3 L116.1,305.8 L118.0,305.3 L120.3,305.1 L122.8,305.1" fill="none" stroke="#858585" stroke-width="3.50" stroke-linecap="butt" stroke-linejoin="round"/>
<path d="M122.4,307.2 L120.0,307.8 L117.8,308.1 L116.0,308.1 L114.6,307.9 L113.9,307.5 L114.0,306.9 L114.7,306.3 L116.1,305.8 L118.0,305.3 L120.3,305.1 L122.8,305.1" fill="none" stroke="#fff" stroke-width="2.60" stroke-linecap="butt" stroke-linejoin="round"/>
<path d="M122.8,305.1 L125.2,305.4 L127.5,305.9 L129.4,306.8 L130.6,307.8 L131.3,309.1 L131.2,310.4 L130.4,311.8 L129.0,313.1 L127.1,314.3 L124.8,315.3 L122.4,316.1" fill="none" stroke="#858585" stroke-width="3.50" stroke-linecap="butt" stroke-linejoin="round"/>
<path d="M122.8,305.1 L125.2,305.4 L127.5,305.9 L129.4,306.8 L130.6,307.8 L131.3,309.1 L131.2,310.4 L130.4,311.8 L129.0,313.1 L127.1,314.3 L124.8,315.3 L122.4,316.1" fill="none" stroke="#fff" stroke-width="2.60" stroke-linecap="butt" stroke-linejoin="round"/>
<path d="M122.4,316.1 L120.1,316.5 L118.0,316.7 L116.4,316.6 L115.4,316.2 L115.0,315.7 L115.4,315.2 L116.5,314.6 L118.1,314.1 L120.3,313.7 L122.7,313.6 L125.2,313.7" fill="none" stroke="#858585" stroke-width="3.50" stroke-linecap="butt" stroke-linejoin="round"/>
<path d="M122.4,316.1 L120.1,316.5 L118.0,316.7 L116.4,316.6 L115.4,316.2 L115.0,315.7 L115.4,315.2 L116.5,314.6 L118.1,314.1 L120.3,313.7 L122.7,313.6 L125.2,313.7" fill="none" stroke="#fff" stroke-width="2.60" stroke-linecap="butt" stroke-linejoin="round"/>
<path d="M125.2,313.7 L127.6,314.1 L129.7,314.8 L131.2,315.8 L132.2,317.0 L132.5,318.3 L132.0,319.7 L130.9,321.0 L129.2,322.3 L127.1,323.4 L124.8,324.2" fill="none" stroke="#858585" stroke-width="3.50" stroke-linecap="butt" stroke-linejoin="round"/>
<path d="M125.2,313.7 L127.6,314.1 L129.7,314.8 L131.2,315.8 L132.2,317.0 L132.5,318.3 L132.0,319.7 L130.9,321.0 L129.2,322.3 L127.1,323.4 L124.8,324.2" fill="none" stroke="#fff" stroke-width="2.60" stroke-linecap="butt" stroke-linejoin="round"/>
<path d="M124.8,324.2 L122.4,324.8 L120.1,325.1 L118.3,325.2 L117.0,324.9 L116.3,324.5 L116.3,324.0 L117.0,323.4 L118.4,322.8 L120.3,322.4 L122.6,322.1 L125.1,322.1" fill="none" stroke="#858585" stroke-width="3.50" stroke-linecap="butt" stroke-linejoin="round"/>
<path d="M124.8,324.2 L122.4,324.8 L120.1,325.1 L118.3,325.2 L117.0,324.9 L116.3,324.5 L116.3,324.0 L117.0,323.4 L118.4,322.8 L120.3,322.4 L122.6,322.1 L125.1,322.1" fill="none" stroke="#fff" stroke-width="2.60" stroke-linecap="butt" stroke-linejoin="round"/>
<path d="M125.1,322.1 L127.6,322.4 L129.8,323.0 L131.7,323.8 L133.0,324.9 L133.6,326.1 L133.5,327.5 L132.7,328.9 L131.3,330.2 L129.4,331.4 L127.1,332.4 L124.7,333.1" fill="none" stroke="#858585" stroke-width="3.50" stroke-linecap="butt" stroke-linejoin="round"/>
<path d="M125.1,322.1 L127.6,322.4 L129.8,323.0 L131.7,323.8 L133.0,324.9 L133.6,326.1 L133.5,327.5 L132.7,328.9 L131.3,330.2 L129.4,331.4 L127.1,332.4 L124.7,333.1" fill="none" stroke="#fff" stroke-width="2.60" stroke-linecap="butt" stroke-linejoin="round"/>
<path d="M124.7,333.1 L122.4,333.5 L120.3,333.7 L118.7,333.6 L117.7,333.3 L117.4,332.8 L117.7,332.2 L118.8,331.6 L120.5,331.1 L122.6,330.7 L125.0,330.6 L127.5,330.7" fill="none" stroke="#858585" stroke-width="3.50" stroke-linecap="butt" stroke-linejoin="round"/>
<path d="M124.7,333.1 L122.4,333.5 L120.3,333.7 L118.7,333.6 L117.7,333.3 L117.4,332.8 L117.7,332.2 L118.8,331.6 L120.5,331.1 L122.6,330.7 L125.0,330.6 L127.5,330.7" fill="none" stroke="#fff" stroke-width="2.60" stroke-linecap="butt" stroke-linejoin="round"/>
<path d="M127.5,330.7 L129.9,331.2 L132.0,331.9 L133.6,332.8 L134.5,334.0 L134.8,335.3 L134.4,336.7 L133.2,338.1 L131.6,339.3 L129.4,340.4 L127.1,341.3 L124.7,341.9" fill="none" stroke="#858585" stroke-width="3.50" stroke-linecap="butt" stroke-linejoin="round"/>
<path d="M127.5,330.7 L129.9,331.2 L132.0,331.9 L133.6,332.8 L134.5,334.0 L134.8,335.3 L134.4,336.7 L133.2,338.1 L131.6,339.3 L129.4,340.4 L127.1,341.3 L124.7,341.9" fill="none" stroke="#fff" stroke-width="2.60" stroke-linecap="butt" stroke-linejoin="round"/>
<path d="M124.7,341.9 L122.5,342.2 L120.6,342.2 L119.3,342.0 L118.6,341.6 L118.6,341.0 L119.3,340.4 L120.7,339.9 L122.6,339.4 L124.9,339.2 L127.4,339.2" fill="none" stroke="#858585" stroke-width="3.50" stroke-linecap="butt" stroke-linejoin="round"/>
<path d="M124.7,341.9 L122.5,342.2 L120.6,342.2 L119.3,342.0 L118.6,341.6 L118.6,341.0 L119.3,340.4 L120.7,339.9 L122.6,339.4 L124.9,339.2 L127.4,339.2" fill="none" stroke="#fff" stroke-width="2.60" stroke-linecap="butt" stroke-linejoin="round"/>
<path d="M127.4,339.2 L129.9,339.4 L132.2,340.0 L134.0,340.8 L135.3,341.9 L135.9,343.2 L135.8,344.5 L135.0,345.9 L133.6,347.2 L131.7,348.4 L129.4,349.4 L127.0,350.1" fill="none" stroke="#858585" stroke-width="3.50" stroke-linecap="butt" stroke-linejoin="round"/>
<path d="M127.4,339.2 L129.9,339.4 L132.2,340.0 L134.0,340.8 L135.3,341.9 L135.9,343.2 L135.8,344.5 L135.0,345.9 L133.6,347.2 L131.7,348.4 L129.4,349.4 L127.0,350.1" fill="none" stroke="#fff" stroke-width="2.60" stroke-linecap="butt" stroke-linejoin="round"/>
<path d="M127.0,350.1 L124.7,350.6 L122.6,350.7 L121.0,350.6" fill="none" stroke="#858585" stroke-width="3.50" stroke-linecap="butt" stroke-linejoin="round"/>
<path d="M127.0,350.1 L124.7,350.6 L122.6,350.7 L121.0,350.6" fill="none" stroke="#fff" stroke-width="2.60" stroke-linecap="butt" stroke-linejoin="round"/>
<path d="M71.2,360.3 L71.3,362.7 L71.1,365.0 L70.7,366.8 L70.2,368.0 L69.6,368.6 L69.1,368.5 L68.7,367.6 L68.4,366.2 L68.4,364.2 L68.7,361.9 L69.2,359.5" fill="none" stroke="#858585" stroke-width="3.50" stroke-linecap="butt" stroke-linejoin="round"/>
<path d="M71.2,360.3 L71.3,362.7 L71.1,365.0 L70.7,366.8 L70.2,368.0 L69.6,368.6 L69.1,368.5 L68.7,367.6 L68.4,366.2 L68.4,364.2 L68.7,361.9 L69.2,359.5" fill="none" stroke="#fff" stroke-width="2.60" stroke-linecap="butt" stroke-linejoin="round"/>
<path d="M69.2,359.5 L70.0,357.1 L71.1,355.0 L72.3,353.4 L73.6,352.4 L75.0,352.1 L76.3,352.4 L77.5,353.5 L78.4,355.2 L79.2,357.3 L79.7,359.7 L79.9,362.2" fill="none" stroke="#858585" stroke-width="3.50" stroke-linecap="butt" stroke-linejoin="round"/>
<path d="M69.2,359.5 L70.0,357.1 L71.1,355.0 L72.3,353.4 L73.6,352.4 L75.0,352.1 L76.3,352.4 L77.5,353.5 L78.4,355.2 L79.2,357.3 L79.7,359.7 L79.9,362.2" fill="none" stroke="#fff" stroke-width="2.60" stroke-linecap="butt" stroke-linejoin="round"/>
<path d="M79.9,362.2 L79.8,364.6 L79.5,366.6 L79.0,368.2 L78.5,369.1 L77.9,369.4 L77.5,368.9 L77.1,367.7 L77.0,366.0 L77.1,363.8 L77.5,361.4 L78.2,359.0" fill="none" stroke="#858585" stroke-width="3.50" stroke-linecap="butt" stroke-linejoin="round"/>
<path d="M79.9,362.2 L79.8,364.6 L79.5,366.6 L79.0,368.2 L78.5,369.1 L77.9,369.4 L77.5,368.9 L77.1,367.7 L77.0,366.0 L77.1,363.8 L77.5,361.4 L78.2,359.0" fill="none" stroke="#fff" stroke-width="2.60" stroke-linecap="butt" stroke-linejoin="round"/>
<path d="M78.2,359.0 L79.1,356.7 L80.2,354.9 L81.5,353.5 L82.9,352.9 L84.2,352.9 L85.5,353.6 L86.5,355.0 L87.4,356.9 L88.0,359.2 L88.4,361.7" fill="none" stroke="#858585" stroke-width="3.50" stroke-linecap="butt" stroke-linejoin="round"/>
<path d="M78.2,359.0 L79.1,356.7 L80.2,354.9 L81.5,353.5 L82.9,352.9 L84.2,352.9 L85.5,353.6 L86.5,355.0 L87.4,356.9 L88.0,359.2 L88.4,361.7" fill="none" stroke="#fff" stroke-width="2.60" stroke-linecap="butt" stroke-linejoin="round"/>
<path d="M88.4,361.7 L88.4,364.2 L88.2,366.4 L87.9,368.2 L87.3,369.5 L86.8,370.0 L86.3,369.9 L85.8,369.1 L85.6,367.6 L85.6,365.6 L85.8,363.3 L86.4,360.9" fill="none" stroke="#858585" stroke-width="3.50" stroke-linecap="butt" stroke-linejoin="round"/>
<path d="M88.4,361.7 L88.4,364.2 L88.2,366.4 L87.9,368.2 L87.3,369.5 L86.8,370.0 L86.3,369.9 L85.8,369.1 L85.6,367.6 L85.6,365.6 L85.8,363.3 L86.4,360.9" fill="none" stroke="#fff" stroke-width="2.60" stroke-linecap="butt" stroke-linejoin="round"/>
<path d="M86.4,360.9 L87.2,358.6 L88.2,356.5 L89.4,354.8 L90.7,353.8 L92.1,353.5 L93.4,353.9 L94.6,354.9 L95.6,356.6 L96.3,358.7 L96.8,361.2 L97.0,363.7" fill="none" stroke="#858585" stroke-width="3.50" stroke-linecap="butt" stroke-linejoin="round"/>
<path d="M86.4,360.9 L87.2,358.6 L88.2,356.5 L89.4,354.8 L90.7,353.8 L92.1,353.5 L93.4,353.9 L94.6,354.9 L95.6,356.6 L96.3,358.7 L96.8,361.2 L97.0,363.7" fill="none" stroke="#fff" stroke-width="2.60" stroke-linecap="butt" stroke-linejoin="round"/>
<path d="M97.0,363.7 L96.9,366.0 L96.6,368.1 L96.2,369.6 L95.6,370.6 L95.1,370.8 L94.6,370.3 L94.3,369.1 L94.1,367.4 L94.2,365.2 L94.6,362.8 L95.3,360.4" fill="none" stroke="#858585" stroke-width="3.50" stroke-linecap="butt" stroke-linejoin="round"/>
<path d="M97.0,363.7 L96.9,366.0 L96.6,368.1 L96.2,369.6 L95.6,370.6 L95.1,370.8 L94.6,370.3 L94.3,369.1 L94.1,367.4 L94.2,365.2 L94.6,362.8 L95.3,360.4" fill="none" stroke="#fff" stroke-width="2.60" stroke-linecap="butt" stroke-linejoin="round"/>
<path d="M95.3,360.4 L96.2,358.2 L97.4,356.3 L98.6,355.0 L100.0,354.3 L101.3,354.3 L102.6,355.0 L103.7,356.4 L104.6,358.3 L105.2,360.6 L105.5,363.1 L105.6,365.6" fill="none" stroke="#858585" stroke-width="3.50" stroke-linecap="butt" stroke-linejoin="round"/>
<path d="M95.3,360.4 L96.2,358.2 L97.4,356.3 L98.6,355.0 L100.0,354.3 L101.3,354.3 L102.6,355.0 L103.7,356.4 L104.6,358.3 L105.2,360.6 L105.5,363.1 L105.6,365.6" fill="none" stroke="#fff" stroke-width="2.60" stroke-linecap="butt" stroke-linejoin="round"/>
<path d="M105.6,365.6 L105.4,367.8 L105.0,369.6 L104.5,370.9 L103.9,371.5 L103.4,371.3 L103.0,370.5 L102.7,369.0 L102.7,367.1 L103.0,364.8 L103.5,362.3" fill="none" stroke="#858585" stroke-width="3.50" stroke-linecap="butt" stroke-linejoin="round"/>
<path d="M105.6,365.6 L105.4,367.8 L105.0,369.6 L104.5,370.9 L103.9,371.5 L103.4,371.3 L103.0,370.5 L102.7,369.0 L102.7,367.1 L103.0,364.8 L103.5,362.3" fill="none" stroke="#fff" stroke-width="2.60" stroke-linecap="butt" stroke-linejoin="round"/>
<path d="M103.5,362.3 L104.3,360.0 L105.3,357.9 L106.6,356.3 L107.9,355.3 L109.2,354.9 L110.6,355.3 L111.7,356.4 L112.7,358.0 L113.5,360.2 L113.9,362.6 L114.1,365.1" fill="none" stroke="#858585" stroke-width="3.50" stroke-linecap="butt" stroke-linejoin="round"/>
<path d="M103.5,362.3 L104.3,360.0 L105.3,357.9 L106.6,356.3 L107.9,355.3 L109.2,354.9 L110.6,355.3 L111.7,356.4 L112.7,358.0 L113.5,360.2 L113.9,362.6 L114.1,365.1" fill="none" stroke="#fff" stroke-width="2.60" stroke-linecap="butt" stroke-linejoin="round"/>
<path d="M114.1,365.1 L114.1,367.5 L113.8,369.5 L113.3,371.1 L112.8,372.0 L112.2,372.2 L111.7,371.7 L111.4,370.6 L111.3,368.8 L111.4,366.7 L111.8,364.3 L112.4,361.8" fill="none" stroke="#858585" stroke-width="3.50" stroke-linecap="butt" stroke-linejoin="round"/>
<path d="M114.1,365.1 L114.1,367.5 L113.8,369.5 L113.3,371.1 L112.8,372.0 L112.2,372.2 L111.7,371.7 L111.4,370.6 L111.3,368.8 L111.4,366.7 L111.8,364.3 L112.4,361.8" fill="none" stroke="#fff" stroke-width="2.60" stroke-linecap="butt" stroke-linejoin="round"/>
<path d="M112.4,361.8 L113.4,359.6" fill="none" stroke="#858585" stroke-width="3.50" stroke-linecap="butt" stroke-linejoin="round"/>
<path d="M112.4,361.8 L113.4,359.6" fill="none" stroke="#fff" stroke-width="2.60" stroke-linecap="butt" stroke-linejoin="round"/>
<path d="M75.4,298.3 L75.4,300.4 L75.2,302.3 L74.8,303.7 L74.4,304.5 L74.0,304.7 L73.6,304.2 L73.5,303.2 L73.6,301.6 L74.0,299.7 L74.6,297.7" fill="none" stroke="#858585" stroke-width="3.50" stroke-linecap="butt" stroke-linejoin="round"/>
<path d="M75.4,298.3 L75.4,300.4 L75.2,302.3 L74.8,303.7 L74.4,304.5 L74.0,304.7 L73.6,304.2 L73.5,303.2 L73.6,301.6 L74.0,299.7 L74.6,297.7" fill="none" stroke="#fff" stroke-width="2.60" stroke-linecap="butt" stroke-linejoin="round"/>
<path d="M74.6,297.7 L75.5,295.8 L76.5,294.2 L77.7,293.0 L79.0,292.4 L80.1,292.5 L81.2,293.2 L82.1,294.6 L82.7,296.3 L83.1,298.4 L83.2,300.5" fill="none" stroke="#858585" stroke-width="3.50" stroke-linecap="butt" stroke-linejoin="round"/>
<path d="M74.6,297.7 L75.5,295.8 L76.5,294.2 L77.7,293.0 L79.0,292.4 L80.1,292.5 L81.2,293.2 L82.1,294.6 L82.7,296.3 L83.1,298.4 L83.2,300.5" fill="none" stroke="#fff" stroke-width="2.60" stroke-linecap="butt" stroke-linejoin="round"/>
<path d="M83.2,300.5 L83.1,302.5 L82.7,304.1 L82.3,305.3 L81.9,305.8 L81.5,305.6 L81.3,304.9 L81.3,303.5 L81.5,301.8 L82.0,299.8 L82.7,297.8" fill="none" stroke="#858585" stroke-width="3.50" stroke-linecap="butt" stroke-linejoin="round"/>
<path d="M83.2,300.5 L83.1,302.5 L82.7,304.1 L82.3,305.3 L81.9,305.8 L81.5,305.6 L81.3,304.9 L81.3,303.5 L81.5,301.8 L82.0,299.8 L82.7,297.8" fill="none" stroke="#fff" stroke-width="2.60" stroke-linecap="butt" stroke-linejoin="round"/>
<path d="M82.7,297.8 L83.7,296.0 L84.8,294.6 L86.1,293.7 L87.3,293.5 L88.4,293.9 L89.4,294.9 L90.2,296.5 L90.7,298.4 L90.9,300.6" fill="none" stroke="#858585" stroke-width="3.50" stroke-linecap="butt" stroke-linejoin="round"/>
<path d="M82.7,297.8 L83.7,296.0 L84.8,294.6 L86.1,293.7 L87.3,293.5 L88.4,293.9 L89.4,294.9 L90.2,296.5 L90.7,298.4 L90.9,300.6" fill="none" stroke="#fff" stroke-width="2.60" stroke-linecap="butt" stroke-linejoin="round"/>
<path d="M90.9,300.6 L90.9,302.6 L90.6,304.5 L90.3,305.9 L89.8,306.7 L89.4,306.9 L89.1,306.4 L89.0,305.4 L89.1,303.8 L89.4,301.9 L90.0,299.9" fill="none" stroke="#858585" stroke-width="3.50" stroke-linecap="butt" stroke-linejoin="round"/>
<path d="M90.9,300.6 L90.9,302.6 L90.6,304.5 L90.3,305.9 L89.8,306.7 L89.4,306.9 L89.1,306.4 L89.0,305.4 L89.1,303.8 L89.4,301.9 L90.0,299.9" fill="none" stroke="#fff" stroke-width="2.60" stroke-linecap="butt" stroke-linejoin="round"/>
<path d="M90.0,299.9 L90.9,298.0 L92.0,296.4 L93.2,295.2 L94.4,294.6 L95.6,294.7 L96.7,295.4 L97.5,296.8 L98.2,298.5 L98.5,300.6 L98.6,302.7" fill="none" stroke="#858585" stroke-width="3.50" stroke-linecap="butt" stroke-linejoin="round"/>
<path d="M90.0,299.9 L90.9,298.0 L92.0,296.4 L93.2,295.2 L94.4,294.6 L95.6,294.7 L96.7,295.4 L97.5,296.8 L98.2,298.5 L98.5,300.6 L98.6,302.7" fill="none" stroke="#fff" stroke-width="2.60" stroke-linecap="butt" stroke-linejoin="round"/>
<path d="M98.6,302.7 L98.5,304.7 L98.2,306.3 L97.8,307.5 L97.3,308.0 L97.0,307.9 L96.7,307.1 L96.7,305.7 L96.9,304.0 L97.4,302.0 L98.2,300.0" fill="none" stroke="#858585" stroke-width="3.50" stroke-linecap="butt" stroke-linejoin="round"/>
<path d="M98.6,302.7 L98.5,304.7 L98.2,306.3 L97.8,307.5 L97.3,308.0 L97.0,307.9 L96.7,307.1 L96.7,305.7 L96.9,304.0 L97.4,302.0 L98.2,300.0" fill="none" stroke="#fff" stroke-width="2.60" stroke-linecap="butt" stroke-linejoin="round"/>
<path d="M98.2,300.0 L99.1,298.2 L100.3,296.8 L101.5,295.9 L102.7,295.7 L103.9,296.1 L104.8,297.1 L105.6,298.7 L106.1,300.6 L106.3,302.8 L106.3,304.8" fill="none" stroke="#858585" stroke-width="3.50" stroke-linecap="butt" stroke-linejoin="round"/>
<path d="M98.2,300.0 L99.1,298.2 L100.3,296.8 L101.5,295.9 L102.7,295.7 L103.9,296.1 L104.8,297.1 L105.6,298.7 L106.1,300.6 L106.3,302.8 L106.3,304.8" fill="none" stroke="#fff" stroke-width="2.60" stroke-linecap="butt" stroke-linejoin="round"/>
<path d="M106.3,304.8 L106.1,306.7 L105.7,308.1 L105.3,308.9 L104.8,309.1 L104.5,308.6 L104.4,307.6 L104.5,306.0 L104.9,304.1 L105.5,302.1" fill="none" stroke="#858585" stroke-width="3.50" stroke-linecap="butt" stroke-linejoin="round"/>
<path d="M106.3,304.8 L106.1,306.7 L105.7,308.1 L105.3,308.9 L104.8,309.1 L104.5,308.6 L104.4,307.6 L104.5,306.0 L104.9,304.1 L105.5,302.1" fill="none" stroke="#fff" stroke-width="2.60" stroke-linecap="butt" stroke-linejoin="round"/>
<path d="M66.3,308.5 L64.3,309.0 L62.4,309.2 L61.0,309.2 L60.0,309.0 L59.8,308.6 L60.1,308.2 L61.1,307.8 L62.7,307.5 L64.6,307.4 L66.7,307.5" fill="none" stroke="#858585" stroke-width="3.50" stroke-linecap="butt" stroke-linejoin="round"/>
<path d="M66.3,308.5 L64.3,309.0 L62.4,309.2 L61.0,309.2 L60.0,309.0 L59.8,308.6 L60.1,308.2 L61.1,307.8 L62.7,307.5 L64.6,307.4 L66.7,307.5" fill="none" stroke="#fff" stroke-width="2.60" stroke-linecap="butt" stroke-linejoin="round"/>
<path d="M66.7,307.5 L68.8,307.8 L70.6,308.5 L72.0,309.3 L72.9,310.4 L73.1,311.5 L72.7,312.8 L71.6,313.9 L70.0,315.0 L68.1,315.9 L66.1,316.5" fill="none" stroke="#858585" stroke-width="3.50" stroke-linecap="butt" stroke-linejoin="round"/>
<path d="M66.7,307.5 L68.8,307.8 L70.6,308.5 L72.0,309.3 L72.9,310.4 L73.1,311.5 L72.7,312.8 L71.6,313.9 L70.0,315.0 L68.1,315.9 L66.1,316.5" fill="none" stroke="#fff" stroke-width="2.60" stroke-linecap="butt" stroke-linejoin="round"/>
<path d="M66.1,316.5 L64.2,316.9 L62.5,317.0 L61.3,316.8 L60.7,316.5 L60.7,316.2 L61.4,315.7 L62.7,315.4 L64.5,315.2 L66.5,315.1 L68.6,315.4" fill="none" stroke="#858585" stroke-width="3.50" stroke-linecap="butt" stroke-linejoin="round"/>
<path d="M66.1,316.5 L64.2,316.9 L62.5,317.0 L61.3,316.8 L60.7,316.5 L60.7,316.2 L61.4,315.7 L62.7,315.4 L64.5,315.2 L66.5,315.1 L68.6,315.4" fill="none" stroke="#fff" stroke-width="2.60" stroke-linecap="butt" stroke-linejoin="round"/>
<path d="M68.6,315.4 L70.6,315.9 L72.2,316.6 L73.4,317.6 L73.9,318.7 L73.8,319.9 L73.1,321.1 L71.7,322.2 L70.0,323.2 L68.0,324.0" fill="none" stroke="#858585" stroke-width="3.50" stroke-linecap="butt" stroke-linejoin="round"/>
<path d="M68.6,315.4 L70.6,315.9 L72.2,316.6 L73.4,317.6 L73.9,318.7 L73.8,319.9 L73.1,321.1 L71.7,322.2 L70.0,323.2 L68.0,324.0" fill="none" stroke="#fff" stroke-width="2.60" stroke-linecap="butt" stroke-linejoin="round"/>
<path d="M68.0,324.0 L66.0,324.5 L64.1,324.7 L62.7,324.7 L61.8,324.5 L61.5,324.1 L61.9,323.7 L62.9,323.3 L64.4,323.0 L66.3,322.9 L68.4,323.0" fill="none" stroke="#858585" stroke-width="3.50" stroke-linecap="butt" stroke-linejoin="round"/>
<path d="M68.0,324.0 L66.0,324.5 L64.1,324.7 L62.7,324.7 L61.8,324.5 L61.5,324.1 L61.9,323.7 L62.9,323.3 L64.4,323.0 L66.3,322.9 L68.4,323.0" fill="none" stroke="#fff" stroke-width="2.60" stroke-linecap="butt" stroke-linejoin="round"/>
<path d="M68.4,323.0 L70.5,323.3 L72.3,324.0 L73.8,324.8 L74.6,325.9 L74.8,327.1 L74.4,328.3 L73.3,329.4 L71.8,330.5 L69.9,331.4 L67.8,332.0" fill="none" stroke="#858585" stroke-width="3.50" stroke-linecap="butt" stroke-linejoin="round"/>
<path d="M68.4,323.0 L70.5,323.3 L72.3,324.0 L73.8,324.8 L74.6,325.9 L74.8,327.1 L74.4,328.3 L73.3,329.4 L71.8,330.5 L69.9,331.4 L67.8,332.0" fill="none" stroke="#fff" stroke-width="2.60" stroke-linecap="butt" stroke-linejoin="round"/>
<path d="M67.8,332.0 L65.9,332.4 L64.2,332.5 L63.0,332.3 L62.4,332.1 L62.4,331.7 L63.1,331.2 L64.4,330.9 L66.2,330.7 L68.2,330.6 L70.3,330.9" fill="none" stroke="#858585" stroke-width="3.50" stroke-linecap="butt" stroke-linejoin="round"/>
<path d="M67.8,332.0 L65.9,332.4 L64.2,332.5 L63.0,332.3 L62.4,332.1 L62.4,331.7 L63.1,331.2 L64.4,330.9 L66.2,330.7 L68.2,330.6 L70.3,330.9" fill="none" stroke="#fff" stroke-width="2.60" stroke-linecap="butt" stroke-linejoin="round"/>
<path d="M70.3,330.9 L72.3,331.4 L74.0,332.1 L75.1,333.1 L75.7,334.2 L75.5,335.4 L74.8,336.6 L73.5,337.7 L71.7,338.7 L69.7,339.5 L67.7,340.0" fill="none" stroke="#858585" stroke-width="3.50" stroke-linecap="butt" stroke-linejoin="round"/>
<path d="M70.3,330.9 L72.3,331.4 L74.0,332.1 L75.1,333.1 L75.7,334.2 L75.5,335.4 L74.8,336.6 L73.5,337.7 L71.7,338.7 L69.7,339.5 L67.7,340.0" fill="none" stroke="#fff" stroke-width="2.60" stroke-linecap="butt" stroke-linejoin="round"/>
<path d="M67.7,340.0 L65.9,340.2 L64.4,340.2 L63.5,340.0 L63.2,339.6 L63.6,339.2 L64.6,338.8 L66.1,338.5 L68.0,338.4 L70.1,338.5" fill="none" stroke="#858585" stroke-width="3.50" stroke-linecap="butt" stroke-linejoin="round"/>
<path d="M67.7,340.0 L65.9,340.2 L64.4,340.2 L63.5,340.0 L63.2,339.6 L63.6,339.2 L64.6,338.8 L66.1,338.5 L68.0,338.4 L70.1,338.5" fill="none" stroke="#fff" stroke-width="2.60" stroke-linecap="butt" stroke-linejoin="round"/>
<path d="M70.1,338.5 L72.2,338.8 L74.1,339.5" fill="none" stroke="#858585" stroke-width="3.50" stroke-linecap="butt" stroke-linejoin="round"/>
<path d="M70.1,338.5 L72.2,338.8 L74.1,339.5" fill="none" stroke="#fff" stroke-width="2.60" stroke-linecap="butt" stroke-linejoin="round"/>
<path d="M108.3,308.5 L106.3,309.0 L104.4,309.2 L103.0,309.2 L102.0,309.0 L101.8,308.6 L102.1,308.2 L103.1,307.8 L104.7,307.5 L106.6,307.4 L108.7,307.5" fill="none" stroke="#858585" stroke-width="3.50" stroke-linecap="butt" stroke-linejoin="round"/>
<path d="M108.3,308.5 L106.3,309.0 L104.4,309.2 L103.0,309.2 L102.0,309.0 L101.8,308.6 L102.1,308.2 L103.1,307.8 L104.7,307.5 L106.6,307.4 L108.7,307.5" fill="none" stroke="#fff" stroke-width="2.60" stroke-linecap="butt" stroke-linejoin="round"/>
<path d="M108.7,307.5 L110.8,307.8 L112.6,308.5 L114.0,309.3 L114.9,310.4 L115.1,311.5 L114.7,312.8 L113.6,313.9 L112.0,315.0 L110.1,315.9 L108.1,316.5" fill="none" stroke="#858585" stroke-width="3.50" stroke-linecap="butt" stroke-linejoin="round"/>
<path d="M108.7,307.5 L110.8,307.8 L112.6,308.5 L114.0,309.3 L114.9,310.4 L115.1,311.5 L114.7,312.8 L113.6,313.9 L112.0,315.0 L110.1,315.9 L108.1,316.5" fill="none" stroke="#fff" stroke-width="2.60" stroke-linecap="butt" stroke-linejoin="round"/>
<path d="M108.1,316.5 L106.2,316.9 L104.5,317.0 L103.3,316.8 L102.7,316.5 L102.7,316.2 L103.4,315.7 L104.7,315.4 L106.5,315.2 L108.5,315.1 L110.6,315.4" fill="none" stroke="#858585" stroke-width="3.50" stroke-linecap="butt" stroke-linejoin="round"/>
<path d="M108.1,316.5 L106.2,316.9 L104.5,317.0 L103.3,316.8 L102.7,316.5 L102.7,316.2 L103.4,315.7 L104.7,315.4 L106.5,315.2 L108.5,315.1 L110.6,315.4" fill="none" stroke="#fff" stroke-width="2.60" stroke-linecap="butt" stroke-linejoin="round"/>
<path d="M110.6,315.4 L112.6,315.9 L114.2,316.6 L115.4,317.6 L115.9,318.7 L115.8,319.9 L115.1,321.1 L113.7,322.2 L112.0,323.2 L110.0,324.0" fill="none" stroke="#858585" stroke-width="3.50" stroke-linecap="butt" stroke-linejoin="round"/>
<path d="M110.6,315.4 L112.6,315.9 L114.2,316.6 L115.4,317.6 L115.9,318.7 L115.8,319.9 L115.1,321.1 L113.7,322.2 L112.0,323.2 L110.0,324.0" fill="none" stroke="#fff" stroke-width="2.60" stroke-linecap="butt" stroke-linejoin="round"/>
<path d="M110.0,324.0 L108.0,324.5 L106.1,324.7 L104.7,324.7 L103.8,324.5 L103.5,324.1 L103.9,323.7 L104.9,323.3 L106.4,323.0 L108.3,322.9 L110.4,323.0" fill="none" stroke="#858585" stroke-width="3.50" stroke-linecap="butt" stroke-linejoin="round"/>
<path d="M110.0,324.0 L108.0,324.5 L106.1,324.7 L104.7,324.7 L103.8,324.5 L103.5,324.1 L103.9,323.7 L104.9,323.3 L106.4,323.0 L108.3,322.9 L110.4,323.0" fill="none" stroke="#fff" stroke-width="2.60" stroke-linecap="butt" stroke-linejoin="round"/>
<path d="M110.4,323.0 L112.5,323.3 L114.3,324.0 L115.8,324.8 L116.6,325.9 L116.8,327.1 L116.4,328.3 L115.3,329.4 L113.8,330.5 L111.9,331.4 L109.8,332.0" fill="none" stroke="#858585" stroke-width="3.50" stroke-linecap="butt" stroke-linejoin="round"/>
<path d="M110.4,323.0 L112.5,323.3 L114.3,324.0 L115.8,324.8 L116.6,325.9 L116.8,327.1 L116.4,328.3 L115.3,329.4 L113.8,330.5 L111.9,331.4 L109.8,332.0" fill="none" stroke="#fff" stroke-width="2.60" stroke-linecap="butt" stroke-linejoin="round"/>
<path d="M109.8,332.0 L107.9,332.4 L106.2,332.5 L105.0,332.3 L104.4,332.1 L104.4,331.7 L105.1,331.2 L106.4,330.9 L108.2,330.7 L110.2,330.6 L112.3,330.9" fill="none" stroke="#858585" stroke-width="3.50" stroke-linecap="butt" stroke-linejoin="round"/>
<path d="M109.8,332.0 L107.9,332.4 L106.2,332.5 L105.0,332.3 L104.4,332.1 L104.4,331.7 L105.1,331.2 L106.4,330.9 L108.2,330.7 L110.2,330.6 L112.3,330.9" fill="none" stroke="#fff" stroke-width="2.60" stroke-linecap="butt" stroke-linejoin="round"/>
<path d="M112.3,330.9 L114.3,331.4 L116.0,332.1 L117.1,333.1 L117.7,334.2 L117.5,335.4 L116.8,336.6 L115.5,337.7 L113.7,338.7 L111.7,339.5 L109.7,340.0" fill="none" stroke="#858585" stroke-width="3.50" stroke-linecap="butt" stroke-linejoin="round"/>
<path d="M112.3,330.9 L114.3,331.4 L116.0,332.1 L117.1,333.1 L117.7,334.2 L117.5,335.4 L116.8,336.6 L115.5,337.7 L113.7,338.7 L111.7,339.5 L109.7,340.0" fill="none" stroke="#fff" stroke-width="2.60" stroke-linecap="butt" stroke-linejoin="round"/>
<path d="M109.7,340.0 L107.9,340.2 L106.4,340.2 L105.5,340.0 L105.2,339.6 L105.6,339.2 L106.6,338.8 L108.1,338.5 L110.0,338.4 L112.1,338.5" fill="none" stroke="#858585" stroke-width="3.50" stroke-linecap="butt" stroke-linejoin="round"/>
<path d="M109.7,340.0 L107.9,340.2 L106.4,340.2 L105.5,340.0 L105.2,339.6 L105.6,339.2 L106.6,338.8 L108.1,338.5 L110.0,338.4 L112.1,338.5" fill="none" stroke="#fff" stroke-width="2.60" stroke-linecap="butt" stroke-linejoin="round"/>
<path d="M112.1,338.5 L114.2,338.8 L116.1,339.5" fill="none" stroke="#858585" stroke-width="3.50" stroke-linecap="butt" stroke-linejoin="round"/>
<path d="M112.1,338.5 L114.2,338.8 L116.1,339.5" fill="none" stroke="#fff" stroke-width="2.60" stroke-linecap="butt" stroke-linejoin="round"/>
<path d="M74.5,344.3 L74.5,346.3 L74.3,348.2 L74.0,349.6 L73.6,350.5 L73.2,350.7 L72.8,350.2 L72.7,349.1 L72.7,347.6 L73.0,345.7 L73.6,343.7" fill="none" stroke="#858585" stroke-width="3.50" stroke-linecap="butt" stroke-linejoin="round"/>
<path d="M74.5,344.3 L74.5,346.3 L74.3,348.2 L74.0,349.6 L73.6,350.5 L73.2,350.7 L72.8,350.2 L72.7,349.1 L72.7,347.6 L73.0,345.7 L73.6,343.7" fill="none" stroke="#fff" stroke-width="2.60" stroke-linecap="butt" stroke-linejoin="round"/>
<path d="M73.6,343.7 L74.4,341.7 L75.4,340.0 L76.6,338.8 L77.8,338.2 L79.0,338.3 L80.1,339.0 L81.0,340.3 L81.7,342.0 L82.1,344.1 L82.3,346.2" fill="none" stroke="#858585" stroke-width="3.50" stroke-linecap="butt" stroke-linejoin="round"/>
<path d="M73.6,343.7 L74.4,341.7 L75.4,340.0 L76.6,338.8 L77.8,338.2 L79.0,338.3 L80.1,339.0 L81.0,340.3 L81.7,342.0 L82.1,344.1 L82.3,346.2" fill="none" stroke="#fff" stroke-width="2.60" stroke-linecap="butt" stroke-linejoin="round"/>
<path d="M82.3,346.2 L82.2,348.2 L81.9,349.8 L81.5,351.0 L81.1,351.5 L80.7,351.4 L80.5,350.6 L80.4,349.3 L80.6,347.5 L81.0,345.5 L81.7,343.5" fill="none" stroke="#858585" stroke-width="3.50" stroke-linecap="butt" stroke-linejoin="round"/>
<path d="M82.3,346.2 L82.2,348.2 L81.9,349.8 L81.5,351.0 L81.1,351.5 L80.7,351.4 L80.5,350.6 L80.4,349.3 L80.6,347.5 L81.0,345.5 L81.7,343.5" fill="none" stroke="#fff" stroke-width="2.60" stroke-linecap="butt" stroke-linejoin="round"/>
<path d="M81.7,343.5 L82.6,341.7 L83.7,340.2 L84.9,339.3 L86.1,339.0 L87.3,339.4 L88.3,340.4 L89.1,342.0 L89.7,343.9 L90.0,346.0" fill="none" stroke="#858585" stroke-width="3.50" stroke-linecap="butt" stroke-linejoin="round"/>
<path d="M81.7,343.5 L82.6,341.7 L83.7,340.2 L84.9,339.3 L86.1,339.0 L87.3,339.4 L88.3,340.4 L89.1,342.0 L89.7,343.9 L90.0,346.0" fill="none" stroke="#fff" stroke-width="2.60" stroke-linecap="butt" stroke-linejoin="round"/>
<path d="M90.0,346.0 L90.0,348.1 L89.8,349.9 L89.5,351.3 L89.1,352.2 L88.7,352.4 L88.3,351.9 L88.2,350.9 L88.2,349.3 L88.5,347.4 L89.1,345.4" fill="none" stroke="#858585" stroke-width="3.50" stroke-linecap="butt" stroke-linejoin="round"/>
<path d="M90.0,346.0 L90.0,348.1 L89.8,349.9 L89.5,351.3 L89.1,352.2 L88.7,352.4 L88.3,351.9 L88.2,350.9 L88.2,349.3 L88.5,347.4 L89.1,345.4" fill="none" stroke="#fff" stroke-width="2.60" stroke-linecap="butt" stroke-linejoin="round"/>
<path d="M89.1,345.4 L89.9,343.4 L90.9,341.8 L92.1,340.6 L93.3,340.0 L94.5,340.0 L95.6,340.7 L96.5,342.0 L97.2,343.8 L97.6,345.8 L97.8,347.9" fill="none" stroke="#858585" stroke-width="3.50" stroke-linecap="butt" stroke-linejoin="round"/>
<path d="M89.1,345.4 L89.9,343.4 L90.9,341.8 L92.1,340.6 L93.3,340.0 L94.5,340.0 L95.6,340.7 L96.5,342.0 L97.2,343.8 L97.6,345.8 L97.8,347.9" fill="none" stroke="#fff" stroke-width="2.60" stroke-linecap="butt" stroke-linejoin="round"/>
<path d="M97.8,347.9 L97.7,349.9 L97.4,351.5 L97.1,352.7 L96.6,353.2 L96.2,353.1 L96.0,352.3 L95.9,351.0 L96.1,349.2 L96.5,347.3 L97.2,345.2" fill="none" stroke="#858585" stroke-width="3.50" stroke-linecap="butt" stroke-linejoin="round"/>
<path d="M97.8,347.9 L97.7,349.9 L97.4,351.5 L97.1,352.7 L96.6,353.2 L96.2,353.1 L96.0,352.3 L95.9,351.0 L96.1,349.2 L96.5,347.3 L97.2,345.2" fill="none" stroke="#fff" stroke-width="2.60" stroke-linecap="butt" stroke-linejoin="round"/>
<path d="M97.2,345.2 L98.1,343.4 L99.2,342.0 L100.4,341.0 L101.6,340.8 L102.8,341.1 L103.8,342.2 L104.6,343.7 L105.2,345.6 L105.5,347.7 L105.5,349.8" fill="none" stroke="#858585" stroke-width="3.50" stroke-linecap="butt" stroke-linejoin="round"/>
<path d="M97.2,345.2 L98.1,343.4 L99.2,342.0 L100.4,341.0 L101.6,340.8 L102.8,341.1 L103.8,342.2 L104.6,343.7 L105.2,345.6 L105.5,347.7 L105.5,349.8" fill="none" stroke="#fff" stroke-width="2.60" stroke-linecap="butt" stroke-linejoin="round"/>
<path d="M105.5,349.8 L105.3,351.6 L105.0,353.0 L104.6,353.9 L104.2,354.1 L103.9,353.7 L103.7,352.6 L103.7,351.0 L104.0,349.1 L104.6,347.1" fill="none" stroke="#858585" stroke-width="3.50" stroke-linecap="butt" stroke-linejoin="round"/>
<path d="M105.5,349.8 L105.3,351.6 L105.0,353.0 L104.6,353.9 L104.2,354.1 L103.9,353.7 L103.7,352.6 L103.7,351.0 L104.0,349.1 L104.6,347.1" fill="none" stroke="#fff" stroke-width="2.60" stroke-linecap="butt" stroke-linejoin="round"/>
<path d="M104.6,347.1 L105.4,345.1 L106.4,343.5" fill="none" stroke="#858585" stroke-width="3.50" stroke-linecap="butt" stroke-linejoin="round"/>
<path d="M104.6,347.1 L105.4,345.1 L106.4,343.5" fill="none" stroke="#fff" stroke-width="2.60" stroke-linecap="butt" stroke-linejoin="round"/>
<path d="M36.0,250.0 C37.6,247.9 39.7,245.8 41.5,245.5 C43.3,245.2 45.8,246.4 47.0,248.0 C48.2,249.6 48.5,252.7 48.5,255.0 C48.5,257.3 47.8,260.2 47.0,262.0 C46.2,263.8 45.5,264.8 44.0,266.0 C42.5,267.2 40.3,268.6 38.0,269.0 C35.7,269.4 32.5,268.8 30.0,268.5 C27.5,268.2 24.0,268.2 23.0,267.0 C22.0,265.8 22.5,262.5 24.0,261.0 C25.5,259.5 30.0,259.8 32.0,258.0 C34.0,256.2 34.4,252.1 36.0,250.0Z" fill="#f7ec45"/>
<path d="M146.5,262.0 C147.3,259.9 149.6,259.3 151.0,259.5 C152.4,259.7 153.7,261.9 155.0,263.0 C156.3,264.1 157.5,265.3 159.0,266.0 C160.5,266.7 162.7,266.0 164.0,267.0 C165.3,268.0 166.8,270.1 167.0,272.0 C167.2,273.9 166.5,277.2 165.0,278.5 C163.5,279.8 160.5,279.9 158.0,280.0 C155.5,280.1 152.0,280.3 150.0,279.0 C148.0,277.7 146.6,274.8 146.0,272.0 C145.4,269.2 145.7,264.1 146.5,262.0Z" fill="#f7ec45"/>
<path d="M13.0,371.0 C13.8,369.0 16.5,367.6 19.0,367.0 C21.5,366.4 25.5,366.7 28.0,367.5 C30.5,368.3 33.2,370.1 34.0,372.0 C34.8,373.9 34.0,376.7 33.0,379.0 C32.0,381.3 30.2,384.9 28.0,386.0 C25.8,387.1 22.3,386.7 20.0,385.5 C17.7,384.3 15.2,381.4 14.0,379.0 C12.8,376.6 12.2,373.0 13.0,371.0Z" fill="#f7ec45"/>
<path d="M134.0,380.0 C135.0,377.9 137.5,376.1 140.0,375.5 C142.5,374.9 146.8,375.1 149.0,376.5 C151.2,377.9 152.7,381.6 153.0,384.0 C153.3,386.4 152.2,388.7 151.0,391.0 C149.8,393.3 148.3,397.0 146.0,398.0 C143.7,399.0 139.0,398.7 137.0,397.0 C135.0,395.3 134.5,390.8 134.0,388.0 C133.5,385.2 133.0,382.1 134.0,380.0Z" fill="#f7ec45"/>
<path d="M13.6,256.4 L13.7,256.3 L13.9,256.2 L14.2,255.9 L14.6,255.6 L15.1,255.2 L15.7,254.8 L16.3,254.3 L17.0,253.8 L17.8,253.3 L18.5,252.9 L19.4,252.4 L20.2,252.0 L21.0,251.7 L21.8,251.4 L22.6,251.2 L23.4,251.1 L24.1,251.1 L24.7,251.2 L25.3,251.4 L25.8,251.7 L26.2,252.1" fill="none" stroke="#4aa9f0" stroke-width="4.3" stroke-linecap="butt" stroke-linejoin="round"/>
<path d="M23.1,264.6 L23.2,264.5 L23.5,264.3 L23.8,264.0 L24.2,263.7 L24.8,263.3 L25.3,262.8 L26.0,262.3 L26.7,261.8 L27.5,261.4 L28.3,260.9 L29.1,260.5 L29.9,260.1 L30.7,259.8 L31.6,259.5 L32.3,259.3 L33.1,259.3 L33.8,259.3 L34.4,259.4 L34.9,259.6 L35.4,260.0" fill="none" stroke="#4aa9f0" stroke-width="4.3" stroke-linecap="butt" stroke-linejoin="round"/>
<path d="M32.5,272.8 L32.6,272.7 L32.8,272.6 L33.0,272.4 L33.4,272.1 L33.9,271.7 L34.4,271.3 L35.0,270.8 L35.7,270.4 L36.4,269.9 L37.2,269.4 L38.0,268.9 L38.8,268.5 L39.6,268.2 L40.5,267.9 L41.3,267.6 L42.0,267.5 L42.8,267.4 L43.4,267.5 L44.0,267.7 L44.5,267.9 L45.0,268.3" fill="none" stroke="#4aa9f0" stroke-width="4.3" stroke-linecap="butt" stroke-linejoin="round"/>
<path d="M42.0,281.0 L42.1,280.9 L42.3,280.7 L42.6,280.5 L43.0,280.1 L43.5,279.8 L44.0,279.3 L44.7,278.9 L45.4,278.4 L46.1,277.9 L46.9,277.4 L47.7,277.0 L48.5,276.6 L49.4,276.2 L50.2,275.9 L51.0,275.8 L51.7,275.6 L52.4,275.6 L53.1,275.7 L53.6,275.9 L54.1,276.2 L54.5,276.6" fill="none" stroke="#4aa9f0" stroke-width="4.3" stroke-linecap="butt" stroke-linejoin="round"/>
<path d="M51.4,289.1 L51.6,289.0 L51.8,288.8 L52.2,288.5 L52.6,288.2 L53.1,287.8 L53.7,287.3 L54.3,286.9 L55.1,286.4 L55.8,285.9 L56.6,285.4 L57.4,285.0 L58.3,284.6 L59.1,284.3 L59.9,284.1 L60.7,283.9 L61.4,283.8 L62.1,283.8 L62.7,283.9 L63.3,284.2 L63.7,284.5" fill="none" stroke="#4aa9f0" stroke-width="4.3" stroke-linecap="butt" stroke-linejoin="round"/>
<path d="M60.8,297.3 L60.9,297.3 L61.1,297.1 L61.4,296.9 L61.8,296.6 L62.2,296.2 L62.7,295.8 L63.4,295.4 L64.0,294.9 L64.8,294.4 L65.5,293.9" fill="none" stroke="#4aa9f0" stroke-width="4.3" stroke-linecap="butt" stroke-linejoin="round"/>
<path d="M14.7,253.4 L14.8,253.3 L15.0,253.1 L15.3,252.9 L15.7,252.6 L16.2,252.2 L16.7,251.7 L17.4,251.3 L18.1,250.8 L18.8,250.3 L19.6,249.8 L20.4,249.4 L21.2,249.0 L22.1,248.6 L22.9,248.4 L23.7,248.2 L24.4,248.1 L25.1,248.0 L25.8,248.1 L26.3,248.3 L26.8,248.6 L27.2,249.0" fill="none" stroke="#f37f7f" stroke-width="4.3" stroke-linecap="butt" stroke-linejoin="round"/>
<path d="M24.1,261.5 L24.3,261.4 L24.5,261.2 L24.9,261.0 L25.3,260.6 L25.8,260.2 L26.4,259.8 L27.0,259.3 L27.7,258.8 L28.5,258.3 L29.3,257.9 L30.1,257.4 L31.0,257.0 L31.8,256.7 L32.6,256.5 L33.4,256.3 L34.1,256.2 L34.8,256.2 L35.4,256.4 L36.0,256.6 L36.4,256.9" fill="none" stroke="#f37f7f" stroke-width="4.3" stroke-linecap="butt" stroke-linejoin="round"/>
<path d="M33.5,269.7 L33.6,269.7 L33.8,269.6 L34.1,269.3 L34.5,269.0 L34.9,268.7 L35.4,268.2 L36.0,267.8 L36.7,267.3 L37.5,266.8 L38.2,266.3 L39.0,265.9 L39.9,265.5 L40.7,265.1 L41.5,264.8 L42.3,264.6 L43.1,264.4 L43.8,264.4 L44.5,264.4 L45.1,264.6 L45.6,264.9 L46.0,265.2" fill="none" stroke="#f37f7f" stroke-width="4.3" stroke-linecap="butt" stroke-linejoin="round"/>
<path d="M43.0,277.9 L43.1,277.8 L43.3,277.7 L43.7,277.4 L44.0,277.1 L44.5,276.7 L45.1,276.3 L45.7,275.8 L46.4,275.3 L47.2,274.8 L47.9,274.4 L48.8,273.9 L49.6,273.5 L50.4,273.2 L51.2,272.9 L52.0,272.7 L52.8,272.6 L53.5,272.6 L54.1,272.7 L54.7,272.9 L55.2,273.1 L55.6,273.5" fill="none" stroke="#f37f7f" stroke-width="4.3" stroke-linecap="butt" stroke-linejoin="round"/>
<path d="M52.5,286.1 L52.6,286.0 L52.9,285.8 L53.2,285.5 L53.6,285.2 L54.2,284.8 L54.7,284.3 L55.4,283.8 L56.1,283.3 L56.9,282.9 L57.7,282.4 L58.5,282.0 L59.3,281.6 L60.1,281.3 L61.0,281.0 L61.7,280.8 L62.5,280.8 L63.2,280.8 L63.8,280.9 L64.3,281.1 L64.8,281.4" fill="none" stroke="#f37f7f" stroke-width="4.3" stroke-linecap="butt" stroke-linejoin="round"/>
<path d="M61.9,294.3 L62.0,294.2 L62.2,294.1 L62.4,293.9 L62.8,293.6 L63.3,293.2 L63.8,292.8 L64.4,292.3 L65.1,291.9 L65.8,291.4 L66.6,290.9 L67.4,290.4 L68.2,290.0 L69.0,289.6 L69.9,289.3" fill="none" stroke="#f37f7f" stroke-width="4.3" stroke-linecap="butt" stroke-linejoin="round"/>
<path d="M15.9,251.1 L15.6,251.8 L15.3,252.3 L15.0,252.7 L14.8,253.0 L14.7,253.2 L14.6,253.4 L14.7,253.4" fill="none" stroke="#f37f7f" stroke-width="5.2" stroke-linecap="butt" stroke-linejoin="round"/>
<path d="M27.2,249.0 L27.5,249.5 L27.8,250.1 L27.9,250.7 L28.0,251.4 L27.9,252.2 L27.8,253.1 L27.6,253.9 L27.4,254.8 L27.1,255.7 L26.7,256.5 L26.4,257.4 L26.0,258.2 L25.6,258.9 L25.2,259.5 L24.9,260.1 L24.6,260.6 L24.4,261.0 L24.2,261.3 L24.1,261.5 L24.1,261.6 L24.1,261.5" fill="none" stroke="#f37f7f" stroke-width="5.2" stroke-linecap="butt" stroke-linejoin="round"/>
<path d="M36.4,256.9 L36.8,257.3 L37.1,257.8 L37.3,258.4 L37.4,259.1 L37.4,259.9 L37.3,260.7 L37.2,261.5 L37.0,262.4 L36.7,263.3 L36.4,264.1 L36.1,265.0 L35.7,265.8 L35.3,266.6 L34.9,267.3 L34.6,267.9 L34.3,268.5 L34.0,268.9 L33.8,269.3 L33.6,269.5 L33.5,269.7 L33.5,269.7" fill="none" stroke="#f37f7f" stroke-width="5.2" stroke-linecap="butt" stroke-linejoin="round"/>
<path d="M46.0,265.2 L46.4,265.7 L46.6,266.2 L46.8,266.8 L46.9,267.6 L46.8,268.3 L46.7,269.1 L46.6,270.0 L46.4,270.9 L46.1,271.7 L45.7,272.6 L45.4,273.5 L45.0,274.3 L44.6,275.0 L44.3,275.7 L43.9,276.3 L43.6,276.8 L43.4,277.2 L43.2,277.6 L43.0,277.8 L43.0,277.9 L43.0,277.9" fill="none" stroke="#f37f7f" stroke-width="5.2" stroke-linecap="butt" stroke-linejoin="round"/>
<path d="M55.6,273.5 L55.9,274.0 L56.1,274.6 L56.3,275.3 L56.3,276.0 L56.3,276.8 L56.2,277.6 L56.0,278.5 L55.7,279.3 L55.4,280.2 L55.1,281.1 L54.7,281.9 L54.3,282.7 L54.0,283.4 L53.6,284.1 L53.3,284.7 L53.0,285.1 L52.7,285.5 L52.6,285.8 L52.5,286.0 L52.4,286.1 L52.5,286.1" fill="none" stroke="#f37f7f" stroke-width="5.2" stroke-linecap="butt" stroke-linejoin="round"/>
<path d="M64.8,281.4 L65.2,281.9 L65.4,282.4 L65.6,283.0 L65.7,283.7 L65.8,284.4 L65.7,285.2 L65.6,286.1 L65.3,286.9 L65.1,287.8 L64.8,288.7 L64.4,289.5 L64.0,290.4 L63.7,291.1 L63.3,291.8 L62.9,292.5 L62.6,293.0 L62.3,293.5 L62.1,293.8 L62.0,294.1 L61.9,294.2 L61.9,294.3" fill="none" stroke="#f37f7f" stroke-width="5.2" stroke-linecap="butt" stroke-linejoin="round"/>
<path d="M16.3,251.1 L16.0,252.0 L15.6,252.8 L15.2,253.5 L14.8,254.2 L14.5,254.8 L14.2,255.3 L13.9,255.8 L13.7,256.1 L13.6,256.3 L13.6,256.4 L13.6,256.4" fill="none" stroke="#4aa9f0" stroke-width="5.2" stroke-linecap="butt" stroke-linejoin="round"/>
<path d="M26.2,252.1 L26.5,252.5 L26.7,253.1 L26.8,253.8 L26.9,254.5 L26.9,255.3 L26.7,256.1 L26.5,257.0 L26.3,257.9 L26.0,258.7 L25.7,259.6 L25.3,260.4 L24.9,261.2 L24.5,261.9 L24.2,262.6 L23.8,263.2 L23.6,263.7 L23.3,264.1 L23.1,264.3 L23.0,264.5 L23.0,264.6 L23.1,264.6" fill="none" stroke="#4aa9f0" stroke-width="5.2" stroke-linecap="butt" stroke-linejoin="round"/>
<path d="M35.4,260.0 L35.7,260.4 L36.0,260.9 L36.2,261.5 L36.3,262.2 L36.3,262.9 L36.3,263.7 L36.1,264.6 L35.9,265.5 L35.6,266.3 L35.3,267.2 L35.0,268.1 L34.6,268.9 L34.2,269.6 L33.9,270.4 L33.5,271.0 L33.2,271.5 L32.9,272.0 L32.7,272.3 L32.5,272.6 L32.5,272.7 L32.5,272.8" fill="none" stroke="#4aa9f0" stroke-width="5.2" stroke-linecap="butt" stroke-linejoin="round"/>
<path d="M45.0,268.3 L45.3,268.7 L45.6,269.3 L45.7,269.9 L45.8,270.6 L45.8,271.4 L45.7,272.2 L45.5,273.1 L45.3,273.9 L45.0,274.8 L44.7,275.7 L44.3,276.5 L43.9,277.3 L43.6,278.1 L43.2,278.7 L42.9,279.4 L42.5,279.9 L42.3,280.3 L42.1,280.6 L42.0,280.8 L41.9,281.0 L42.0,281.0" fill="none" stroke="#4aa9f0" stroke-width="5.2" stroke-linecap="butt" stroke-linejoin="round"/>
<path d="M54.5,276.6 L54.8,277.1 L55.1,277.7 L55.2,278.3 L55.2,279.0 L55.2,279.8 L55.1,280.7 L54.9,281.5 L54.6,282.4 L54.3,283.3 L54.0,284.1 L53.6,285.0 L53.3,285.8 L52.9,286.5 L52.5,287.1 L52.2,287.7 L51.9,288.2 L51.7,288.6 L51.5,288.9 L51.4,289.1 L51.4,289.1 L51.4,289.1" fill="none" stroke="#4aa9f0" stroke-width="5.2" stroke-linecap="butt" stroke-linejoin="round"/>
<path d="M63.7,284.5 L64.1,284.9 L64.4,285.4 L64.6,286.0 L64.7,286.7 L64.7,287.5 L64.6,288.3 L64.5,289.1 L64.3,290.0 L64.0,290.9 L63.7,291.7 L63.3,292.6 L63.0,293.4 L62.6,294.2 L62.2,294.9 L61.9,295.5 L61.5,296.1 L61.3,296.5 L61.1,296.9 L60.9,297.1 L60.8,297.3 L60.8,297.3" fill="none" stroke="#4aa9f0" stroke-width="5.2" stroke-linecap="butt" stroke-linejoin="round"/>
<path d="M157.6,248.6 L157.6,248.8 L157.8,249.0 L158.1,249.3 L158.4,249.7 L158.8,250.1 L159.2,250.7 L159.7,251.3 L160.2,252.0 L160.7,252.8 L161.1,253.6 L161.6,254.4 L162.0,255.2 L162.3,256.0 L162.6,256.8 L162.8,257.6 L162.9,258.4 L163.0,259.1 L162.9,259.7 L162.7,260.3 L162.4,260.8 L162.0,261.2" fill="none" stroke="#4aa9f0" stroke-width="4.3" stroke-linecap="butt" stroke-linejoin="round"/>
<path d="M149.4,258.2 L149.6,258.3 L149.8,258.5 L150.0,258.9 L150.4,259.3 L150.8,259.8 L151.2,260.4 L151.7,261.0 L152.2,261.8 L152.7,262.5 L153.2,263.3 L153.6,264.1 L154.0,265.0 L154.3,265.8 L154.6,266.6 L154.7,267.4 L154.8,268.1 L154.8,268.8 L154.7,269.4 L154.5,270.0 L154.1,270.4" fill="none" stroke="#4aa9f0" stroke-width="4.3" stroke-linecap="butt" stroke-linejoin="round"/>
<path d="M141.3,267.6 L141.3,267.7 L141.5,267.9 L141.7,268.1 L142.0,268.5 L142.4,269.0 L142.8,269.5 L143.3,270.1 L143.7,270.8 L144.2,271.5 L144.7,272.3 L145.2,273.1 L145.6,273.9 L146.0,274.7 L146.3,275.6 L146.5,276.4 L146.6,277.1 L146.7,277.8 L146.6,278.5 L146.5,279.1 L146.2,279.6 L145.9,280.0" fill="none" stroke="#4aa9f0" stroke-width="4.3" stroke-linecap="butt" stroke-linejoin="round"/>
<path d="M133.2,277.1 L133.2,277.2 L133.4,277.4 L133.7,277.7 L134.0,278.1 L134.4,278.6 L134.8,279.2 L135.3,279.8 L135.8,280.5 L136.3,281.2 L136.7,282.0 L137.2,282.8 L137.6,283.7 L137.9,284.5 L138.2,285.3 L138.4,286.1 L138.5,286.9 L138.5,287.6 L138.5,288.2 L138.3,288.8 L138.0,289.3 L137.6,289.7" fill="none" stroke="#4aa9f0" stroke-width="4.3" stroke-linecap="butt" stroke-linejoin="round"/>
<path d="M125.0,286.6 L125.2,286.8 L125.4,287.0 L125.6,287.4 L126.0,287.8 L126.4,288.3 L126.8,288.9 L127.3,289.5 L127.8,290.2 L128.3,291.0 L128.8,291.8 L129.2,292.6 L129.6,293.4 L129.9,294.3 L130.2,295.1 L130.3,295.9 L130.4,296.6 L130.4,297.3 L130.3,297.9 L130.1,298.4 L129.7,298.9" fill="none" stroke="#4aa9f0" stroke-width="4.3" stroke-linecap="butt" stroke-linejoin="round"/>
<path d="M160.6,249.7 L160.7,249.8 L160.9,250.0 L161.1,250.3 L161.4,250.7 L161.8,251.2 L162.3,251.7 L162.7,252.4 L163.2,253.1 L163.7,253.8 L164.2,254.6 L164.6,255.4 L165.0,256.2 L165.4,257.1 L165.7,257.9 L165.9,258.7 L166.0,259.4 L166.0,260.1 L165.9,260.8 L165.7,261.3 L165.5,261.8 L165.1,262.2" fill="none" stroke="#f37f7f" stroke-width="4.3" stroke-linecap="butt" stroke-linejoin="round"/>
<path d="M152.5,259.2 L152.6,259.3 L152.8,259.6 L153.1,259.9 L153.4,260.3 L153.8,260.8 L154.3,261.4 L154.8,262.1 L155.3,262.8 L155.7,263.6 L156.2,264.3 L156.6,265.2 L157.0,266.0 L157.4,266.8 L157.6,267.6 L157.8,268.4 L157.9,269.1 L157.9,269.8 L157.7,270.4 L157.5,271.0 L157.2,271.5" fill="none" stroke="#f37f7f" stroke-width="4.3" stroke-linecap="butt" stroke-linejoin="round"/>
<path d="M144.3,268.6 L144.4,268.7 L144.5,268.9 L144.8,269.2 L145.1,269.5 L145.4,270.0 L145.8,270.5 L146.3,271.1 L146.8,271.8 L147.3,272.5 L147.8,273.3 L148.2,274.1 L148.6,274.9 L149.0,275.8 L149.3,276.6 L149.5,277.4 L149.7,278.2 L149.7,278.9 L149.7,279.5 L149.5,280.1 L149.3,280.6 L148.9,281.1" fill="none" stroke="#f37f7f" stroke-width="4.3" stroke-linecap="butt" stroke-linejoin="round"/>
<path d="M136.2,278.1 L136.3,278.3 L136.5,278.5 L136.7,278.8 L137.0,279.2 L137.4,279.7 L137.9,280.2 L138.3,280.8 L138.8,281.5 L139.3,282.3 L139.8,283.1 L140.2,283.9 L140.6,284.7 L141.0,285.5 L141.3,286.3 L141.5,287.1 L141.6,287.9 L141.6,288.6 L141.5,289.2 L141.3,289.8 L141.0,290.3 L140.7,290.7" fill="none" stroke="#f37f7f" stroke-width="4.3" stroke-linecap="butt" stroke-linejoin="round"/>
<path d="M128.1,287.7 L128.2,287.8 L128.4,288.1 L128.7,288.4 L129.0,288.8 L129.4,289.3 L129.9,289.9 L130.4,290.6 L130.8,291.3 L131.3,292.0 L131.8,292.8 L132.2,293.6 L132.6,294.5 L133.0,295.3 L133.2,296.1 L133.4,296.9 L133.5,297.6 L133.5,298.3 L133.3,298.9 L133.1,299.5 L132.8,299.9" fill="none" stroke="#f37f7f" stroke-width="4.3" stroke-linecap="butt" stroke-linejoin="round"/>
<path d="M162.9,250.9 L162.3,250.6 L161.7,250.3 L161.3,250.0 L161.0,249.8 L160.8,249.7 L160.6,249.6 L160.6,249.7" fill="none" stroke="#f37f7f" stroke-width="5.2" stroke-linecap="butt" stroke-linejoin="round"/>
<path d="M165.1,262.2 L164.6,262.5 L164.0,262.8 L163.3,262.9 L162.6,263.0 L161.8,262.9 L161.0,262.8 L160.1,262.6 L159.3,262.4 L158.4,262.1 L157.5,261.7 L156.7,261.4 L155.9,261.0 L155.2,260.6 L154.5,260.3 L153.9,260.0 L153.4,259.7 L153.1,259.4 L152.8,259.3 L152.6,259.2 L152.5,259.1 L152.5,259.2" fill="none" stroke="#f37f7f" stroke-width="5.2" stroke-linecap="butt" stroke-linejoin="round"/>
<path d="M157.2,271.5 L156.8,271.8 L156.3,272.1 L155.7,272.3 L155.0,272.4 L154.2,272.4 L153.4,272.4 L152.6,272.2 L151.7,272.0 L150.8,271.8 L150.0,271.5 L149.1,271.1 L148.3,270.8 L147.5,270.4 L146.8,270.0 L146.2,269.7 L145.6,269.3 L145.2,269.1 L144.8,268.9 L144.6,268.7 L144.4,268.6 L144.3,268.6" fill="none" stroke="#f37f7f" stroke-width="5.2" stroke-linecap="butt" stroke-linejoin="round"/>
<path d="M148.9,281.1 L148.5,281.4 L147.9,281.7 L147.3,281.9 L146.6,281.9 L145.8,281.9 L145.0,281.8 L144.2,281.7 L143.3,281.5 L142.4,281.2 L141.5,280.8 L140.7,280.5 L139.9,280.1 L139.1,279.7 L138.5,279.4 L137.8,279.0 L137.3,278.7 L136.9,278.5 L136.6,278.3 L136.4,278.2 L136.2,278.1 L136.2,278.1" fill="none" stroke="#f37f7f" stroke-width="5.2" stroke-linecap="butt" stroke-linejoin="round"/>
<path d="M140.7,290.7 L140.2,291.0 L139.6,291.2 L138.9,291.4 L138.2,291.4 L137.4,291.4 L136.6,291.3 L135.7,291.1 L134.9,290.9 L134.0,290.6 L133.1,290.2 L132.3,289.9 L131.5,289.5 L130.8,289.1 L130.1,288.8 L129.5,288.4 L129.0,288.1 L128.6,287.9 L128.4,287.7 L128.2,287.6 L128.1,287.6 L128.1,287.7" fill="none" stroke="#f37f7f" stroke-width="5.2" stroke-linecap="butt" stroke-linejoin="round"/>
<path d="M132.8,299.9 L132.4,300.3 L131.9,300.6 L131.3,300.8 L130.6,300.9 L129.8,300.9 L129.0,300.9 L128.2,300.7 L127.3,300.5 L126.4,300.3 L125.6,299.9 L124.7,299.6 L123.9,299.2 L123.1,298.9 L122.4,298.5 L121.8,298.1 L121.2,297.8 L120.8,297.5 L120.4,297.3 L120.1,297.2 L120.0,297.1 L119.9,297.1" fill="none" stroke="#f37f7f" stroke-width="5.2" stroke-linecap="butt" stroke-linejoin="round"/>
<path d="M162.9,251.3 L162.0,251.0 L161.2,250.6 L160.5,250.2 L159.8,249.9 L159.2,249.5 L158.7,249.2 L158.2,249.0 L157.9,248.8 L157.7,248.6 L157.6,248.6 L157.6,248.6" fill="none" stroke="#4aa9f0" stroke-width="5.2" stroke-linecap="butt" stroke-linejoin="round"/>
<path d="M162.0,261.2 L161.5,261.5 L160.9,261.7 L160.3,261.9 L159.5,261.9 L158.8,261.9 L157.9,261.8 L157.1,261.6 L156.2,261.3 L155.3,261.0 L154.4,260.7 L153.6,260.3 L152.8,260.0 L152.1,259.6 L151.4,259.2 L150.9,258.9 L150.4,258.6 L150.0,258.4 L149.7,258.2 L149.5,258.1 L149.4,258.1 L149.4,258.2" fill="none" stroke="#4aa9f0" stroke-width="5.2" stroke-linecap="butt" stroke-linejoin="round"/>
<path d="M154.1,270.4 L153.7,270.8 L153.2,271.1 L152.6,271.3 L151.9,271.4 L151.2,271.4 L150.4,271.3 L149.5,271.2 L148.6,271.0 L147.8,270.7 L146.9,270.4 L146.0,270.1 L145.2,269.7 L144.4,269.3 L143.7,269.0 L143.1,268.6 L142.6,268.3 L142.1,268.0 L141.7,267.8 L141.5,267.7 L141.3,267.6 L141.3,267.6" fill="none" stroke="#4aa9f0" stroke-width="5.2" stroke-linecap="butt" stroke-linejoin="round"/>
<path d="M145.9,280.0 L145.4,280.4 L144.9,280.6 L144.2,280.8 L143.5,280.9 L142.8,280.9 L141.9,280.8 L141.1,280.6 L140.2,280.4 L139.3,280.1 L138.5,279.8 L137.6,279.4 L136.8,279.1 L136.1,278.7 L135.4,278.3 L134.8,278.0 L134.3,277.7 L133.8,277.4 L133.5,277.2 L133.3,277.1 L133.2,277.1 L133.2,277.1" fill="none" stroke="#4aa9f0" stroke-width="5.2" stroke-linecap="butt" stroke-linejoin="round"/>
<path d="M137.6,289.7 L137.1,290.0 L136.5,290.2 L135.9,290.3 L135.1,290.4 L134.4,290.3 L133.5,290.2 L132.7,290.0 L131.8,289.8 L130.9,289.5 L130.0,289.2 L129.2,288.8 L128.4,288.4 L127.7,288.1 L127.0,287.7 L126.5,287.4 L126.0,287.1 L125.6,286.9 L125.3,286.7 L125.1,286.6 L125.0,286.6 L125.0,286.6" fill="none" stroke="#4aa9f0" stroke-width="5.2" stroke-linecap="butt" stroke-linejoin="round"/>
<path d="M129.7,298.9 L129.3,299.3 L128.8,299.6 L128.2,299.7 L127.5,299.9 L126.8,299.9 L125.9,299.8 L125.1,299.7 L124.2,299.5 L123.4,299.2 L122.5,298.9 L121.6,298.5 L120.8,298.2 L120.0,297.8 L119.3,297.4 L118.7,297.1 L118.2,296.8 L117.7,296.5" fill="none" stroke="#4aa9f0" stroke-width="5.2" stroke-linecap="butt" stroke-linejoin="round"/>
<path d="M55.6,344.5 L55.7,344.7 L55.8,344.9 L56.1,345.2 L56.4,345.6 L56.8,346.1 L57.2,346.6 L57.7,347.3 L58.1,348.0 L58.6,348.7 L59.1,349.5 L59.5,350.3 L59.9,351.2 L60.3,352.0 L60.5,352.8 L60.7,353.6 L60.8,354.4 L60.8,355.1 L60.7,355.7 L60.5,356.3 L60.2,356.8 L59.8,357.2" fill="none" stroke="#4aa9f0" stroke-width="4.3" stroke-linecap="butt" stroke-linejoin="round"/>
<path d="M47.3,353.9 L47.4,354.1 L47.6,354.3 L47.9,354.7 L48.3,355.1 L48.7,355.6 L49.1,356.2 L49.6,356.9 L50.0,357.6 L50.5,358.4 L51.0,359.2 L51.4,360.0 L51.8,360.8 L52.1,361.7 L52.3,362.5 L52.5,363.2 L52.6,364.0 L52.5,364.7 L52.4,365.3 L52.2,365.8 L51.8,366.3" fill="none" stroke="#4aa9f0" stroke-width="4.3" stroke-linecap="butt" stroke-linejoin="round"/>
<path d="M39.0,363.3 L39.1,363.4 L39.2,363.5 L39.5,363.8 L39.8,364.2 L40.1,364.6 L40.5,365.2 L41.0,365.8 L41.4,366.5 L41.9,367.2 L42.4,368.0 L42.8,368.8 L43.3,369.6 L43.6,370.5 L43.9,371.3 L44.1,372.1 L44.3,372.9 L44.3,373.6 L44.2,374.2 L44.1,374.8 L43.8,375.4 L43.4,375.8" fill="none" stroke="#4aa9f0" stroke-width="4.3" stroke-linecap="butt" stroke-linejoin="round"/>
<path d="M30.8,372.7 L30.9,372.8 L31.0,373.0 L31.3,373.3 L31.6,373.7 L32.0,374.2 L32.4,374.8 L32.9,375.4 L33.3,376.1 L33.8,376.8 L34.3,377.6 L34.7,378.5 L35.1,379.3 L35.4,380.1 L35.7,380.9 L35.9,381.7 L36.0,382.5 L36.0,383.2 L35.9,383.8 L35.7,384.4 L35.4,384.9 L35.0,385.3" fill="none" stroke="#4aa9f0" stroke-width="4.3" stroke-linecap="butt" stroke-linejoin="round"/>
<path d="M22.5,382.1 L22.6,382.2 L22.8,382.5 L23.1,382.8 L23.4,383.2 L23.8,383.7 L24.3,384.3 L24.7,385.0 L25.2,385.7 L25.7,386.5 L26.2,387.3 L26.6,388.1 L27.0,388.9 L27.3,389.8 L27.5,390.6 L27.7,391.4 L27.7,392.1 L27.7,392.8 L27.6,393.4 L27.4,393.9 L27.0,394.4" fill="none" stroke="#4aa9f0" stroke-width="4.3" stroke-linecap="butt" stroke-linejoin="round"/>
<path d="M14.2,391.4 L14.3,391.5 L14.4,391.7 L14.6,391.9 L14.9,392.3 L15.3,392.8 L15.7,393.3 L16.2,393.9" fill="none" stroke="#4aa9f0" stroke-width="4.3" stroke-linecap="butt" stroke-linejoin="round"/>
<path d="M54.1,341.7 L54.2,341.8 L54.4,342.0 L54.6,342.3 L54.9,342.7 L55.3,343.2 L55.7,343.7 L56.2,344.4 L56.7,345.1 L57.2,345.8 L57.6,346.6 L58.1,347.4 L58.5,348.3 L58.8,349.1 L59.1,349.9 L59.3,350.7 L59.4,351.5 L59.4,352.2 L59.3,352.8 L59.1,353.4 L58.8,353.9 L58.4,354.3" fill="none" stroke="#f37f7f" stroke-width="4.3" stroke-linecap="butt" stroke-linejoin="round"/>
<path d="M45.9,351.1 L46.0,351.2 L46.2,351.5 L46.4,351.8 L46.8,352.2 L47.2,352.7 L47.6,353.3 L48.1,354.0 L48.6,354.7 L49.0,355.5 L49.5,356.3 L49.9,357.1 L50.3,357.9 L50.6,358.8 L50.9,359.6 L51.0,360.3 L51.1,361.1 L51.1,361.8 L50.9,362.4 L50.7,362.9 L50.4,363.4" fill="none" stroke="#f37f7f" stroke-width="4.3" stroke-linecap="butt" stroke-linejoin="round"/>
<path d="M37.6,360.4 L37.6,360.5 L37.8,360.7 L38.0,360.9 L38.3,361.3 L38.6,361.8 L39.1,362.3 L39.5,362.9 L40.0,363.6 L40.5,364.3 L40.9,365.1 L41.4,365.9 L41.8,366.7 L42.1,367.6 L42.4,368.4 L42.7,369.2 L42.8,370.0 L42.8,370.7 L42.8,371.4 L42.6,371.9 L42.4,372.5 L42.0,372.9" fill="none" stroke="#f37f7f" stroke-width="4.3" stroke-linecap="butt" stroke-linejoin="round"/>
<path d="M29.3,369.8 L29.4,369.9 L29.6,370.1 L29.8,370.4 L30.1,370.8 L30.5,371.3 L30.9,371.9 L31.4,372.5 L31.9,373.2 L32.3,373.9 L32.8,374.7 L33.2,375.6 L33.6,376.4 L34.0,377.2 L34.3,378.0 L34.4,378.8 L34.5,379.6 L34.6,380.3 L34.5,380.9 L34.3,381.5 L34.0,382.0 L33.6,382.4" fill="none" stroke="#f37f7f" stroke-width="4.3" stroke-linecap="butt" stroke-linejoin="round"/>
<path d="M21.1,379.2 L21.2,379.3 L21.4,379.6 L21.6,379.9 L22.0,380.3 L22.4,380.9 L22.8,381.4 L23.3,382.1 L23.8,382.8 L24.2,383.6 L24.7,384.4 L25.1,385.2 L25.5,386.0 L25.8,386.9 L26.1,387.7 L26.2,388.5 L26.3,389.2 L26.3,389.9 L26.1,390.5 L25.9,391.0 L25.6,391.5" fill="none" stroke="#f37f7f" stroke-width="4.3" stroke-linecap="butt" stroke-linejoin="round"/>
<path d="M12.8,388.5 L12.8,388.6 L13.0,388.8 L13.2,389.1 L13.5,389.4 L13.8,389.9 L14.2,390.4 L14.7,391.0 L15.2,391.7 L15.6,392.4 L16.1,393.2 L16.6,394.0" fill="none" stroke="#f37f7f" stroke-width="4.3" stroke-linecap="butt" stroke-linejoin="round"/>
<path d="M56.3,342.9 L55.7,342.6 L55.2,342.3 L54.8,342.0 L54.5,341.8 L54.3,341.7 L54.1,341.6 L54.1,341.7" fill="none" stroke="#f37f7f" stroke-width="5.2" stroke-linecap="butt" stroke-linejoin="round"/>
<path d="M58.4,354.3 L57.9,354.6 L57.3,354.8 L56.7,354.9 L55.9,355.0 L55.1,354.9 L54.3,354.8 L53.5,354.6 L52.6,354.3 L51.7,354.0 L50.9,353.7 L50.0,353.3 L49.2,352.9 L48.5,352.5 L47.9,352.2 L47.3,351.8 L46.8,351.5 L46.4,351.3 L46.1,351.1 L45.9,351.0 L45.9,351.0 L45.9,351.1" fill="none" stroke="#f37f7f" stroke-width="5.2" stroke-linecap="butt" stroke-linejoin="round"/>
<path d="M50.4,363.4 L50.0,363.8 L49.4,364.0 L48.8,364.2 L48.2,364.3 L47.4,364.3 L46.6,364.3 L45.8,364.1 L44.9,363.9 L44.0,363.6 L43.2,363.3 L42.3,362.9 L41.5,362.6 L40.7,362.2 L40.0,361.8 L39.4,361.4 L38.8,361.1 L38.4,360.8 L38.0,360.6 L37.8,360.5 L37.6,360.4 L37.6,360.4" fill="none" stroke="#f37f7f" stroke-width="5.2" stroke-linecap="butt" stroke-linejoin="round"/>
<path d="M42.0,372.9 L41.5,373.2 L41.0,373.5 L40.4,373.6 L39.6,373.7 L38.9,373.7 L38.1,373.6 L37.2,373.4 L36.3,373.2 L35.5,372.9 L34.6,372.6 L33.8,372.2 L33.0,371.8 L32.2,371.4 L31.5,371.0 L30.9,370.7 L30.4,370.4 L30.0,370.1 L29.7,369.9 L29.5,369.8 L29.3,369.7 L29.3,369.8" fill="none" stroke="#f37f7f" stroke-width="5.2" stroke-linecap="butt" stroke-linejoin="round"/>
<path d="M33.6,382.4 L33.1,382.7 L32.5,382.9 L31.9,383.0 L31.1,383.1 L30.3,383.0 L29.5,382.9 L28.6,382.7 L27.8,382.5 L26.9,382.2 L26.0,381.8 L25.2,381.4 L24.4,381.0 L23.7,380.7 L23.1,380.3 L22.5,380.0 L22.0,379.7 L21.6,379.4 L21.3,379.2 L21.1,379.1 L21.0,379.1 L21.1,379.2" fill="none" stroke="#f37f7f" stroke-width="5.2" stroke-linecap="butt" stroke-linejoin="round"/>
<path d="M25.6,391.5 L25.2,391.9 L24.6,392.2 L24.0,392.3 L23.3,392.4 L22.6,392.5 L21.8,392.4 L21.0,392.2 L20.1,392.0 L19.2,391.7 L18.3,391.4 L17.5,391.1 L16.7,390.7 L15.9,390.3 L15.2,389.9 L14.6,389.6 L14.0,389.2 L13.6,388.9 L13.2,388.7 L13.0,388.6 L12.8,388.5 L12.8,388.5" fill="none" stroke="#f37f7f" stroke-width="5.2" stroke-linecap="butt" stroke-linejoin="round"/>
<path d="M60.8,347.3 L60.0,346.9 L59.2,346.6 L58.5,346.2 L57.8,345.8 L57.2,345.4 L56.7,345.1 L56.3,344.9 L55.9,344.7 L55.7,344.6 L55.6,344.5 L55.6,344.5" fill="none" stroke="#4aa9f0" stroke-width="5.2" stroke-linecap="butt" stroke-linejoin="round"/>
<path d="M59.8,357.2 L59.3,357.5 L58.8,357.7 L58.1,357.8 L57.4,357.8 L56.6,357.8 L55.8,357.7 L54.9,357.5 L54.0,357.2 L53.2,356.9 L52.3,356.6 L51.5,356.2 L50.7,355.8 L50.0,355.4 L49.3,355.1 L48.7,354.7 L48.3,354.4 L47.9,354.2 L47.6,354.0 L47.4,353.9 L47.3,353.9 L47.3,353.9" fill="none" stroke="#4aa9f0" stroke-width="5.2" stroke-linecap="butt" stroke-linejoin="round"/>
<path d="M51.8,366.3 L51.4,366.6 L50.9,366.9 L50.3,367.1 L49.6,367.2 L48.9,367.2 L48.0,367.1 L47.2,367.0 L46.3,366.8 L45.5,366.5 L44.6,366.2 L43.7,365.8 L42.9,365.4 L42.2,365.0 L41.5,364.7 L40.8,364.3 L40.3,364.0 L39.8,363.7 L39.5,363.5 L39.2,363.3 L39.1,363.3 L39.0,363.3" fill="none" stroke="#4aa9f0" stroke-width="5.2" stroke-linecap="butt" stroke-linejoin="round"/>
<path d="M43.4,375.8 L43.0,376.1 L42.4,376.4 L41.8,376.5 L41.1,376.6 L40.3,376.6 L39.5,376.5 L38.7,376.3 L37.8,376.1 L36.9,375.8 L36.0,375.4 L35.2,375.1 L34.4,374.7 L33.7,374.3 L33.0,373.9 L32.4,373.6 L31.9,373.3 L31.4,373.0 L31.1,372.8 L30.9,372.7 L30.8,372.6 L30.8,372.7" fill="none" stroke="#4aa9f0" stroke-width="5.2" stroke-linecap="butt" stroke-linejoin="round"/>
<path d="M35.0,385.3 L34.5,385.6 L34.0,385.8 L33.3,385.9 L32.6,386.0 L31.8,385.9 L31.0,385.8 L30.1,385.6 L29.2,385.3 L28.3,385.0 L27.5,384.7 L26.7,384.3 L25.9,383.9 L25.2,383.5 L24.5,383.2 L23.9,382.8 L23.4,382.5 L23.1,382.3 L22.8,382.1 L22.6,382.0 L22.5,382.0 L22.5,382.1" fill="none" stroke="#4aa9f0" stroke-width="5.2" stroke-linecap="butt" stroke-linejoin="round"/>
<path d="M27.0,394.4 L26.6,394.8 L26.1,395.0 L25.5,395.2 L24.8,395.3 L24.0,395.3 L23.2,395.3 L22.4,395.1 L21.5,394.9 L20.7,394.6 L19.8,394.3 L18.9,393.9 L18.1,393.5 L17.4,393.2 L16.7,392.8 L16.0,392.4 L15.5,392.1 L15.0,391.8 L14.7,391.6 L14.4,391.5 L14.3,391.4 L14.2,391.4" fill="none" stroke="#4aa9f0" stroke-width="5.2" stroke-linecap="butt" stroke-linejoin="round"/>
<path d="M110.7,360.5 L110.9,360.4 L111.1,360.2 L111.4,359.9 L111.8,359.6 L112.2,359.2 L112.8,358.8 L113.4,358.3 L114.1,357.8 L114.8,357.3 L115.6,356.8 L116.4,356.3 L117.2,355.9 L118.1,355.6 L118.9,355.3 L119.7,355.1 L120.4,354.9 L121.1,354.9 L121.7,355.0 L122.3,355.2 L122.8,355.4 L123.2,355.8" fill="none" stroke="#4aa9f0" stroke-width="4.3" stroke-linecap="butt" stroke-linejoin="round"/>
<path d="M120.4,368.4 L120.5,368.3 L120.8,368.1 L121.1,367.8 L121.5,367.5 L122.0,367.1 L122.6,366.6 L123.2,366.1 L123.9,365.6 L124.7,365.1 L125.5,364.6 L126.3,364.2 L127.1,363.8 L127.9,363.4 L128.7,363.2 L129.5,363.0 L130.3,362.9 L130.9,362.9 L131.6,363.0 L132.1,363.2 L132.6,363.5" fill="none" stroke="#4aa9f0" stroke-width="4.3" stroke-linecap="butt" stroke-linejoin="round"/>
<path d="M129.9,376.4 L130.0,376.4 L130.2,376.2 L130.5,376.0 L130.9,375.7 L131.3,375.3 L131.8,374.9 L132.4,374.4 L133.1,373.9 L133.8,373.4 L134.6,372.9 L135.4,372.5 L136.2,372.0 L137.0,371.6 L137.8,371.3 L138.6,371.1 L139.4,370.9 L140.1,370.9 L140.8,370.9 L141.4,371.1 L141.9,371.3 L142.3,371.7" fill="none" stroke="#4aa9f0" stroke-width="4.3" stroke-linecap="butt" stroke-linejoin="round"/>
<path d="M139.6,384.4 L139.7,384.3 L139.9,384.2 L140.2,383.9 L140.6,383.6 L141.1,383.2 L141.6,382.7 L142.3,382.2 L142.9,381.7 L143.7,381.2 L144.5,380.8 L145.3,380.3 L146.1,379.9 L146.9,379.5 L147.7,379.2 L148.5,379.0 L149.3,378.9 L150.0,378.9 L150.6,378.9 L151.2,379.1 L151.7,379.4 L152.1,379.8" fill="none" stroke="#4aa9f0" stroke-width="4.3" stroke-linecap="butt" stroke-linejoin="round"/>
<path d="M149.2,392.4 L149.4,392.3 L149.6,392.1 L150.0,391.8 L150.4,391.4 L150.9,391.0 L151.4,390.5 L152.1,390.1 L152.8,389.6 L153.5,389.1 L154.3,388.6 L155.2,388.1 L156.0,387.7 L156.8,387.4 L157.6,387.1 L158.4,386.9 L159.1,386.9 L159.8,386.9 L160.4,387.0 L161.0,387.2 L161.4,387.5" fill="none" stroke="#4aa9f0" stroke-width="4.3" stroke-linecap="butt" stroke-linejoin="round"/>
<path d="M158.8,400.4 L158.9,400.3 L159.1,400.2 L159.3,400.0 L159.7,399.6 L160.1,399.3 L160.7,398.8 L161.3,398.4 L161.9,397.9 L162.7,397.4 L163.4,396.9" fill="none" stroke="#4aa9f0" stroke-width="4.3" stroke-linecap="butt" stroke-linejoin="round"/>
<path d="M107.9,362.0 L108.0,361.9 L108.2,361.7 L108.5,361.5 L108.9,361.2 L109.4,360.8 L109.9,360.3 L110.6,359.8 L111.2,359.3 L112.0,358.8 L112.8,358.4 L113.6,357.9 L114.4,357.5 L115.2,357.1 L116.0,356.8 L116.8,356.6 L117.6,356.5 L118.3,356.5 L118.9,356.5 L119.5,356.7 L120.0,357.0 L120.4,357.4" fill="none" stroke="#f37f7f" stroke-width="4.3" stroke-linecap="butt" stroke-linejoin="round"/>
<path d="M117.5,370.0 L117.7,369.9 L117.9,369.7 L118.3,369.4 L118.7,369.0 L119.2,368.6 L119.7,368.1 L120.4,367.7 L121.1,367.2 L121.8,366.7 L122.6,366.2 L123.4,365.7 L124.3,365.3 L125.1,365.0 L125.9,364.7 L126.7,364.5 L127.4,364.4 L128.1,364.4 L128.7,364.6 L129.3,364.8 L129.7,365.1" fill="none" stroke="#f37f7f" stroke-width="4.3" stroke-linecap="butt" stroke-linejoin="round"/>
<path d="M127.1,378.0 L127.2,377.9 L127.4,377.8 L127.6,377.6 L128.0,377.2 L128.5,376.9 L129.0,376.4 L129.6,376.0 L130.2,375.5 L131.0,375.0 L131.7,374.5 L132.5,374.0 L133.3,373.6 L134.2,373.2 L135.0,372.9 L135.8,372.6 L136.5,372.5 L137.3,372.4 L137.9,372.5 L138.5,372.6 L139.0,372.8 L139.5,373.2" fill="none" stroke="#f37f7f" stroke-width="4.3" stroke-linecap="butt" stroke-linejoin="round"/>
<path d="M136.7,386.0 L136.9,385.9 L137.1,385.7 L137.4,385.4 L137.8,385.1 L138.2,384.7 L138.8,384.3 L139.4,383.8 L140.1,383.3 L140.8,382.8 L141.6,382.3 L142.4,381.8 L143.2,381.4 L144.1,381.1 L144.9,380.8 L145.7,380.6 L146.4,380.4 L147.1,380.4 L147.7,380.5 L148.3,380.7 L148.8,380.9 L149.2,381.3" fill="none" stroke="#f37f7f" stroke-width="4.3" stroke-linecap="butt" stroke-linejoin="round"/>
<path d="M146.4,393.9 L146.5,393.8 L146.8,393.6 L147.1,393.3 L147.5,393.0 L148.0,392.6 L148.6,392.1 L149.2,391.6 L149.9,391.1 L150.7,390.6 L151.5,390.1 L152.3,389.7 L153.1,389.3 L153.9,388.9 L154.7,388.7 L155.5,388.5 L156.3,388.4 L156.9,388.4 L157.6,388.5 L158.1,388.7 L158.6,389.0" fill="none" stroke="#f37f7f" stroke-width="4.3" stroke-linecap="butt" stroke-linejoin="round"/>
<path d="M156.0,401.9 L156.1,401.9 L156.2,401.7 L156.5,401.5 L156.9,401.2 L157.3,400.8 L157.8,400.4 L158.4,399.9 L159.1,399.4 L159.8,398.9 L160.6,398.4 L161.4,398.0 L162.2,397.5 L163.0,397.1 L163.8,396.8" fill="none" stroke="#f37f7f" stroke-width="4.3" stroke-linecap="butt" stroke-linejoin="round"/>
<path d="M109.1,359.7 L108.8,360.4 L108.5,360.9 L108.2,361.3 L108.0,361.6 L107.9,361.9 L107.9,362.0 L107.9,362.0" fill="none" stroke="#f37f7f" stroke-width="5.2" stroke-linecap="butt" stroke-linejoin="round"/>
<path d="M120.4,357.4 L120.7,357.8 L120.9,358.4 L121.1,359.1 L121.1,359.8 L121.1,360.6 L121.0,361.4 L120.9,362.3 L120.6,363.2 L120.3,364.0 L120.0,364.9 L119.7,365.7 L119.3,366.5 L118.9,367.3 L118.6,367.9 L118.3,368.5 L118.0,369.0 L117.8,369.4 L117.6,369.7 L117.5,369.9 L117.5,370.0 L117.5,370.0" fill="none" stroke="#f37f7f" stroke-width="5.2" stroke-linecap="butt" stroke-linejoin="round"/>
<path d="M129.7,365.1 L130.1,365.5 L130.4,366.0 L130.6,366.6 L130.7,367.3 L130.8,368.0 L130.7,368.8 L130.6,369.7 L130.4,370.6 L130.2,371.4 L129.9,372.3 L129.5,373.2 L129.2,374.0 L128.8,374.8 L128.4,375.5 L128.1,376.1 L127.8,376.7 L127.5,377.1 L127.3,377.5 L127.2,377.8 L127.1,377.9 L127.1,378.0" fill="none" stroke="#f37f7f" stroke-width="5.2" stroke-linecap="butt" stroke-linejoin="round"/>
<path d="M139.5,373.2 L139.8,373.6 L140.1,374.2 L140.3,374.8 L140.4,375.5 L140.4,376.3 L140.3,377.1 L140.2,378.0 L139.9,378.8 L139.7,379.7 L139.4,380.6 L139.0,381.4 L138.7,382.3 L138.3,383.0 L137.9,383.7 L137.6,384.3 L137.3,384.8 L137.1,385.3 L136.9,385.6 L136.8,385.8 L136.7,385.9 L136.7,386.0" fill="none" stroke="#f37f7f" stroke-width="5.2" stroke-linecap="butt" stroke-linejoin="round"/>
<path d="M149.2,381.3 L149.6,381.8 L149.8,382.4 L149.9,383.0 L150.0,383.7 L150.0,384.5 L149.9,385.4 L149.7,386.2 L149.5,387.1 L149.2,388.0 L148.9,388.9 L148.5,389.7 L148.2,390.5 L147.8,391.2 L147.5,391.9 L147.1,392.5 L146.9,393.0 L146.6,393.4 L146.5,393.7 L146.4,393.9 L146.3,393.9 L146.4,393.9" fill="none" stroke="#f37f7f" stroke-width="5.2" stroke-linecap="butt" stroke-linejoin="round"/>
<path d="M158.6,389.0 L159.0,389.4 L159.3,390.0 L159.5,390.6 L159.6,391.2 L159.6,392.0 L159.6,392.8 L159.4,393.6 L159.3,394.5 L159.0,395.4 L158.7,396.3 L158.4,397.1 L158.0,398.0 L157.7,398.7 L157.3,399.4 L157.0,400.1 L156.7,400.6 L156.4,401.1 L156.2,401.5 L156.0,401.7 L156.0,401.9 L156.0,401.9" fill="none" stroke="#f37f7f" stroke-width="5.2" stroke-linecap="butt" stroke-linejoin="round"/>
<path d="M113.3,355.1 L113.0,356.0 L112.6,356.8 L112.3,357.5 L111.9,358.2 L111.6,358.8 L111.3,359.3 L111.1,359.8 L110.9,360.1 L110.7,360.3 L110.7,360.4 L110.7,360.5" fill="none" stroke="#4aa9f0" stroke-width="5.2" stroke-linecap="butt" stroke-linejoin="round"/>
<path d="M123.2,355.8 L123.5,356.3 L123.8,356.9 L123.9,357.5 L124.0,358.3 L124.0,359.1 L123.9,359.9 L123.7,360.7 L123.5,361.6 L123.2,362.5 L122.8,363.4 L122.5,364.2 L122.1,365.0 L121.8,365.7 L121.4,366.4 L121.1,367.0 L120.8,367.5 L120.6,367.9 L120.4,368.2 L120.3,368.4 L120.3,368.4 L120.4,368.4" fill="none" stroke="#4aa9f0" stroke-width="5.2" stroke-linecap="butt" stroke-linejoin="round"/>
<path d="M132.6,363.5 L133.0,364.0 L133.2,364.5 L133.5,365.1 L133.6,365.8 L133.6,366.5 L133.6,367.3 L133.4,368.2 L133.2,369.0 L133.0,369.9 L132.7,370.8 L132.3,371.7 L132.0,372.5 L131.6,373.2 L131.3,374.0 L130.9,374.6 L130.6,375.2 L130.4,375.6 L130.2,376.0 L130.0,376.2 L129.9,376.4 L129.9,376.4" fill="none" stroke="#4aa9f0" stroke-width="5.2" stroke-linecap="butt" stroke-linejoin="round"/>
<path d="M142.3,371.7 L142.7,372.1 L142.9,372.6 L143.1,373.3 L143.2,374.0 L143.2,374.8 L143.1,375.6 L143.0,376.4 L142.8,377.3 L142.5,378.2 L142.2,379.1 L141.9,379.9 L141.5,380.7 L141.1,381.5 L140.8,382.2 L140.4,382.8 L140.2,383.3 L139.9,383.7 L139.7,384.1 L139.6,384.3 L139.5,384.4 L139.6,384.4" fill="none" stroke="#4aa9f0" stroke-width="5.2" stroke-linecap="butt" stroke-linejoin="round"/>
<path d="M152.1,379.8 L152.4,380.3 L152.6,380.8 L152.8,381.5 L152.8,382.2 L152.8,383.0 L152.7,383.8 L152.5,384.7 L152.3,385.6 L152.0,386.5 L151.7,387.3 L151.4,388.2 L151.0,389.0 L150.6,389.7 L150.3,390.4 L150.0,390.9 L149.7,391.4 L149.5,391.8 L149.3,392.1 L149.2,392.3 L149.2,392.4 L149.2,392.4" fill="none" stroke="#4aa9f0" stroke-width="5.2" stroke-linecap="butt" stroke-linejoin="round"/>
<path d="M161.4,387.5 L161.8,387.9 L162.1,388.4 L162.3,389.0 L162.4,389.7 L162.5,390.5 L162.4,391.3 L162.3,392.1 L162.1,393.0 L161.8,393.9 L161.5,394.7 L161.2,395.6 L160.8,396.4 L160.5,397.2 L160.1,397.9 L159.8,398.6 L159.5,399.1 L159.2,399.6 L159.0,399.9 L158.9,400.2 L158.8,400.3 L158.8,400.4" fill="none" stroke="#4aa9f0" stroke-width="5.2" stroke-linecap="butt" stroke-linejoin="round"/>
<path d="M75.7,296.5 C72,302 64,304 58.5,303.6" fill="none" stroke="#000" stroke-width="1.4"/>
<path d="M0.5,0 L-3.8,-2.1 L-3.8,2.1Z" fill="#000" transform="translate(56.5,303.6) rotate(180)"/>
<path d="M119,309.7 C114,305 111,299 110.8,293.5" fill="none" stroke="#000" stroke-width="1.4"/>
<path d="M0.5,0 L-3.8,-2.1 L-3.8,2.1Z" fill="#000" transform="translate(110.8,291) rotate(-90)"/>
<path d="M62.5,336 C68,340 71,347 71.8,352.5" fill="none" stroke="#000" stroke-width="1.4"/>
<path d="M0.5,0 L-3.8,-2.1 L-3.8,2.1Z" fill="#000" transform="translate(72,355) rotate(88)"/>
<path d="M104,355 C106,349 111,344 117,342.5" fill="none" stroke="#000" stroke-width="1.4"/>
<path d="M0.5,0 L-3.8,-2.1 L-3.8,2.1Z" fill="#000" transform="translate(119.2,341.8) rotate(-15)"/>
</g>
<rect x="6" y="240.4" width="170" height="168.6" fill="none" stroke="#555" stroke-width="0.8"/>
<rect x="45.0" y="245.86" width="28.296000000000003" height="9.3" rx="3" fill="#ffff33"/>
<text x="46.5" y="253.3" font-size="9.3" fill="#111" stroke="#111" stroke-width="0.22">CBTA</text>
<rect x="147.5" y="282.86" width="28.296000000000003" height="9.3" rx="3" fill="#ffff33"/>
<text x="149" y="290.3" font-size="9.3" fill="#111" stroke="#111" stroke-width="0.22">CBTA</text>
<rect x="7.0" y="359.16" width="28.296000000000003" height="9.3" rx="3" fill="#ffff33"/>
<text x="8.5" y="366.6" font-size="9.3" fill="#111" stroke="#111" stroke-width="0.22">CBTA</text>
<rect x="111.0" y="397.06" width="28.296000000000003" height="9.3" rx="3" fill="#ffff33"/>
<text x="112.5" y="404.5" font-size="9.3" fill="#111" stroke="#111" stroke-width="0.22">CBTA</text>
<text x="57" y="274" font-size="9.9" fill="#1a1a1a" stroke="#fff" stroke-width="2.2" paint-order="stroke" stroke-linejoin="round">TRP helix</text>
<text x="131" y="305.5" font-size="9.9" fill="#1a1a1a" stroke="#fff" stroke-width="2.2" paint-order="stroke" stroke-linejoin="round">TRP helix</text>
<text x="8" y="346.6" font-size="9.9" fill="#1a1a1a" stroke="#fff" stroke-width="2.2" paint-order="stroke" stroke-linejoin="round">TRP helix</text>
<text x="85" y="383.5" font-size="9.9" fill="#1a1a1a" stroke="#fff" stroke-width="2.2" paint-order="stroke" stroke-linejoin="round">TRP helix</text>
<circle cx="9.4" cy="419.3" r="2.9" fill="#4ba7ec" stroke="#333" stroke-width="0.6"/>
<circle cx="9.4" cy="433.8" r="2.9" fill="#f07c7c" stroke="#333" stroke-width="0.6"/>
<text x="16.8" y="422.3" font-size="8.4" fill="#1e1e1e" textLength="105.4" lengthAdjust="spacingAndGlyphs" stroke="#1e1e1e" stroke-width="0.22">CBTA/Ca<tspan font-size="6" dy="-3.4">2+</tspan><tspan dy="3.4">–TRPM5(E337A)</tspan></text>
<text x="16.8" y="437" font-size="8.4" fill="#1e1e1e" textLength="79.7" lengthAdjust="spacingAndGlyphs" stroke="#1e1e1e" stroke-width="0.22">Ca<tspan font-size="6" dy="-3.4">2+</tspan><tspan dy="3.4">–TRPM5(E337A)</tspan></text>
<defs>
<pattern id="mesh" patternUnits="userSpaceOnUse" width="7" height="6.4" patternTransform="rotate(24)">
<path d="M0,0.2H7M0,3.2H7M0.2,0V6.4M3.5,0V6.4M0,0L3.5,3.2L7,6.4M3.5,3.2L7,0M0,6.4L3.5,3.2" stroke="#111" stroke-width="0.5" fill="none"/>
</pattern>
<pattern id="mesh2" patternUnits="userSpaceOnUse" width="14" height="12" patternTransform="rotate(-32)">
<path d="M0,0.3H14M0,6.3H14M0.3,0V12M7.3,0V12M0,0L7,6L14,12M7,6L14,0M0,12L7,6" stroke="#111" stroke-width="0.6" fill="none"/>
</pattern>
<clipPath id="cf"><rect x="326.2" y="240.4" width="169.2" height="168.7"/></clipPath>
</defs>
<g clip-path="url(#cf)">
<path d="M398,241 C410,250 430,246 440,241" fill="none" stroke="#c8c8c8" stroke-width="0.5"/>
<path d="M352,272 C370,284 392,292 400,306" fill="none" stroke="#c8c8c8" stroke-width="0.5"/>
<path d="M360,276 C372,300 380,320 378,342" fill="none" stroke="#c8c8c8" stroke-width="0.5"/>
<path d="M330,362 L380,356" fill="none" stroke="#c8c8c8" stroke-width="0.5"/>
<path d="M328,372 L372,366" fill="none" stroke="#c8c8c8" stroke-width="0.5"/>
<path d="M440,258 C460,262 470,280 476,296" fill="none" stroke="#c8c8c8" stroke-width="0.5"/>
<path d="M455,338 C470,345 480,352 490,370" fill="none" stroke="#c8c8c8" stroke-width="0.5"/>
<path d="M384,395 C400,388 420,392 436,405" fill="none" stroke="#c8c8c8" stroke-width="0.5"/>
<path d="M412,404 C430,390 452,392 470,408" fill="none" stroke="#c8c8c8" stroke-width="0.5"/>
<path d="M470,250 C480,255 488,262 494,275" fill="none" stroke="#c8c8c8" stroke-width="0.5"/>
<path d="M338,392 C350,385 362,385 372,392" fill="none" stroke="#c8c8c8" stroke-width="0.5"/>
<path d="M446,372 C458,360 470,360 480,372" fill="none" stroke="#c8c8c8" stroke-width="0.5"/>
<path d="M396.0,377.0 C397.5,376.2 402.0,373.2 405.0,372.5 C408.0,371.8 411.3,371.9 414.0,373.0 C416.7,374.1 419.5,376.5 421.0,379.0 C422.5,381.5 422.8,384.5 423.0,388.0 C423.2,391.5 422.3,396.0 422.0,400.0 C421.7,404.0 421.2,410.0 421.0,412.0" fill="none" stroke="#e0a0e4" stroke-width="6" stroke-linecap="butt"/>
<path d="M420.0,402.0 C421.0,400.2 423.3,393.8 426.0,391.0 C428.7,388.2 432.5,386.2 436.0,385.5 C439.5,384.8 443.7,385.2 447.0,386.5 C450.3,387.8 453.9,390.4 456.0,393.0 C458.1,395.6 458.9,398.8 459.6,402.0 C460.3,405.2 459.9,410.3 460.0,412.0" fill="none" stroke="#e3a8e7" stroke-width="5" stroke-linecap="butt"/>
<path d="M440.0,393.0 C442.3,393.0 449.3,392.5 454.0,393.0 C458.7,393.5 463.7,394.7 468.0,396.0 C472.3,397.3 476.8,399.2 480.0,401.0 C483.2,402.8 485.5,405.2 487.0,407.0 C488.5,408.8 488.7,411.2 489.0,412.0" fill="none" stroke="#e8b0ec" stroke-width="5.5" stroke-linecap="butt"/>
<path d="M488.0,410.0 C488.7,409.3 490.5,407.0 492.0,406.0 C493.5,405.0 496.2,404.3 497.0,404.0" fill="none" stroke="#eebcf0" stroke-width="4" stroke-linecap="butt"/>
<path d="M360.0,353.0 C361.7,352.8 367.2,350.8 370.0,352.0 C372.8,353.2 375.5,356.3 377.0,360.0 C378.5,363.7 378.8,369.3 379.0,374.0 C379.2,378.7 378.5,383.7 378.0,388.0 C377.5,392.3 376.3,398.0 376.0,400.0" fill="none" stroke="#e2a4e6" stroke-width="6.5" stroke-linecap="butt"/>
<path d="M470.0,352.0 C471.3,353.0 476.2,355.7 478.0,358.0 C479.8,360.3 480.5,364.7 481.0,366.0" fill="none" stroke="#d98ad8" stroke-width="6" stroke-linecap="butt"/>
<path d="M330.0,386.0 C332.3,384.7 339.3,379.0 344.0,378.0 C348.7,377.0 354.3,377.7 358.0,380.0 C361.7,382.3 364.3,387.0 366.0,392.0 C367.7,397.0 367.7,407.0 368.0,410.0" fill="none" stroke="#e8b4ea" stroke-width="5" stroke-linecap="butt"/>
<path d="M341.0,238.0 C341.8,239.7 343.5,244.8 346.0,248.0 C348.5,251.2 352.0,254.3 356.0,257.0 C360.0,259.7 365.8,262.2 370.0,264.0 C374.2,265.8 378.8,267.0 381.0,268.0 C383.2,269.0 382.7,269.7 383.0,270.0" fill="none" stroke="#d67fd6" stroke-width="7.5" stroke-linecap="butt"/>
<path d="M381.0,268.0 C381.3,268.3 383.5,269.2 383.0,270.0 C382.5,270.8 381.7,272.0 378.0,273.0 C374.3,274.0 366.5,274.8 361.0,276.0 C355.5,277.2 349.2,278.8 345.0,280.5 C340.8,282.2 337.5,283.9 336.0,286.0 C334.5,288.1 334.8,291.0 336.0,293.0 C337.2,295.0 340.3,295.7 343.0,298.0 C345.7,300.3 348.3,304.2 352.0,307.0 C355.7,309.8 362.8,313.2 365.0,314.5" fill="none" stroke="#e090e2" stroke-width="8.5" stroke-linecap="butt"/>
<path d="M352.0,307.0 C354.2,308.2 361.2,312.5 365.0,314.5 C368.8,316.5 373.8,317.6 375.0,319.0 C376.2,320.4 374.5,321.7 372.0,323.0 C369.5,324.3 364.7,325.7 360.0,327.0 C355.3,328.3 348.7,329.5 344.0,331.0 C339.3,332.5 334.8,334.2 332.0,336.0 C329.2,337.8 327.8,341.0 327.0,342.0" fill="none" stroke="#dc8add" stroke-width="8.5" stroke-linecap="butt"/>
<path d="M332.0,336.0 C331.2,337.0 327.3,340.2 327.0,342.0 C326.7,343.8 327.7,345.2 330.0,347.0 C332.3,348.8 336.8,350.5 341.0,352.5 C345.2,354.5 350.8,357.1 355.0,359.0 C359.2,360.9 364.2,363.2 366.0,364.0" fill="none" stroke="#e3a6e6" stroke-width="7" stroke-linecap="butt"/>
<path d="M383.8,249.3 C384.8,247.1 387.0,245.6 389.0,244.5 C391.0,243.4 393.5,243.3 396.0,243.0 C398.5,242.7 401.4,242.2 404.0,242.5 C406.6,242.8 409.5,243.6 411.7,244.7 C413.9,245.8 415.7,247.2 417.0,249.0 C418.3,250.8 418.9,253.2 419.5,255.5 C420.1,257.8 420.2,260.4 420.5,263.0 C420.8,265.6 419.9,269.2 421.0,271.0 C422.1,272.8 424.7,273.4 427.0,274.0 C429.3,274.6 432.4,274.2 435.0,274.5 C437.6,274.8 441.0,274.8 442.7,276.0 C444.4,277.2 444.7,280.0 445.0,282.0 C445.3,284.0 445.1,285.8 444.3,288.0 C443.5,290.2 442.1,293.3 440.0,295.0 C437.9,296.7 434.9,297.3 432.0,298.0 C429.1,298.7 425.3,298.7 422.6,299.0 C419.9,299.3 417.8,299.4 416.0,300.0 C414.2,300.6 413.2,301.6 411.7,302.5 C410.2,303.4 408.6,305.4 407.0,305.5 C405.4,305.6 403.8,304.1 402.0,303.0 C400.2,301.9 398.0,300.8 396.2,299.0 C394.4,297.2 392.3,294.6 391.0,292.0 C389.7,289.4 389.4,286.3 388.4,283.5 C387.4,280.7 385.8,277.6 385.0,275.0 C384.2,272.4 384.1,270.8 383.8,268.0 C383.5,265.2 383.0,261.1 383.0,258.0 C383.0,254.9 382.8,251.6 383.8,249.3Z" fill="url(#mesh)" stroke="#1a1a1a" stroke-width="0.9"/>
<path d="M342.0,300.0 C343.0,295.8 345.0,294.3 347.0,293.0 C349.0,291.7 351.5,291.2 354.0,292.0 C356.5,292.8 359.0,295.7 362.0,298.0 C365.0,300.3 368.3,304.0 372.0,306.0 C375.7,308.0 380.3,310.0 384.0,310.0 C387.7,310.0 391.3,306.5 394.0,306.0 C396.7,305.5 398.2,305.8 400.0,307.0 C401.8,308.2 403.7,310.7 405.0,313.0 C406.3,315.3 406.5,319.3 408.0,321.0 C409.5,322.7 411.8,322.0 414.0,323.0 C416.2,324.0 419.3,325.0 421.0,327.0 C422.7,329.0 424.0,332.2 424.0,335.0 C424.0,337.8 422.7,341.8 421.0,344.0 C419.3,346.2 416.7,347.7 414.0,348.0 C411.3,348.3 407.3,347.5 405.0,346.0 C402.7,344.5 401.2,341.5 400.0,339.0 C398.8,336.5 399.2,333.3 398.0,331.0 C396.8,328.7 395.0,326.0 393.0,325.0 C391.0,324.0 387.8,324.0 386.0,325.0 C384.2,326.0 382.8,328.5 382.0,331.0 C381.2,333.5 382.3,338.0 381.0,340.0 C379.7,342.0 377.2,342.7 374.0,343.0 C370.8,343.3 365.7,342.8 362.0,342.0 C358.3,341.2 354.8,340.0 352.0,338.0 C349.2,336.0 346.8,333.3 345.0,330.0 C343.2,326.7 341.5,323.0 341.0,318.0 C340.5,313.0 341.0,304.2 342.0,300.0Z" fill="url(#mesh2)" stroke="#1a1a1a" stroke-width="0.9"/>
<path d="M326.0,341.0 C327.0,338.0 331.3,339.5 334.0,340.0 C336.7,340.5 339.5,342.3 342.0,344.0 C344.5,345.7 347.7,347.8 349.0,350.0 C350.3,352.2 350.8,355.0 350.0,357.0 C349.2,359.0 346.3,361.3 344.0,362.0 C341.7,362.7 338.7,361.7 336.0,361.0 C333.3,360.3 329.7,361.3 328.0,358.0 C326.3,354.7 325.0,344.0 326.0,341.0Z" fill="url(#mesh2)" stroke="#1a1a1a" stroke-width="0.9"/>
<path d="M350.0,362.0 C351.5,360.3 355.3,359.8 358.0,360.0 C360.7,360.2 364.0,361.0 366.0,363.0 C368.0,365.0 369.5,368.5 370.0,372.0 C370.5,375.5 370.0,381.0 369.0,384.0 C368.0,387.0 366.3,389.0 364.0,390.0 C361.7,391.0 357.3,391.3 355.0,390.0 C352.7,388.7 351.0,385.3 350.0,382.0 C349.0,378.7 349.0,373.3 349.0,370.0 C349.0,366.7 348.5,363.7 350.0,362.0Z" fill="url(#mesh2)" stroke="#1a1a1a" stroke-width="0.9"/>
<path d="M368.0,350.0 C369.3,346.8 373.3,347.2 376.0,347.0 C378.7,346.8 382.0,347.5 384.0,349.0 C386.0,350.5 387.2,352.5 388.0,356.0 C388.8,359.5 389.0,365.0 389.0,370.0 C389.0,375.0 388.5,381.7 388.0,386.0 C387.5,390.3 387.5,393.8 386.0,396.0 C384.5,398.2 381.3,399.0 379.0,399.0 C376.7,399.0 373.7,398.5 372.0,396.0 C370.3,393.5 369.7,389.0 369.0,384.0 C368.3,379.0 368.2,371.7 368.0,366.0 C367.8,360.3 366.7,353.2 368.0,350.0Z" fill="url(#mesh2)" stroke="#1a1a1a" stroke-width="0.9"/>
<path d="M345.0,333.0 C345.3,331.2 348.8,330.2 352.0,330.0 C355.2,329.8 360.0,331.8 364.0,332.0 C368.0,332.2 372.8,330.7 376.0,331.0 C379.2,331.3 382.2,332.3 383.0,334.0 C383.8,335.7 382.8,339.5 381.0,341.0 C379.2,342.5 375.5,342.7 372.0,343.0 C368.5,343.3 363.7,343.3 360.0,343.0 C356.3,342.7 352.5,342.7 350.0,341.0 C347.5,339.3 344.7,334.8 345.0,333.0Z" fill="url(#mesh2)" stroke="#1a1a1a" stroke-width="0.9"/>
<path d="M386.0,353.0 C387.8,350.3 392.8,349.3 396.0,349.0 C399.2,348.7 402.7,349.5 405.0,351.0 C407.3,352.5 409.2,355.3 410.0,358.0 C410.8,360.7 410.7,364.0 410.0,367.0 C409.3,370.0 408.2,374.0 406.0,376.0 C403.8,378.0 400.0,379.0 397.0,379.0 C394.0,379.0 390.0,378.3 388.0,376.0 C386.0,373.7 385.3,368.8 385.0,365.0 C384.7,361.2 384.2,355.7 386.0,353.0Z" fill="url(#mesh2)" stroke="#1a1a1a" stroke-width="0.9"/>
<path d="M414.0,350.0 C416.0,347.7 420.3,347.0 424.0,346.0 C427.7,345.0 432.3,344.0 436.0,344.0 C439.7,344.0 443.5,344.8 446.0,346.0 C448.5,347.2 451.0,349.0 451.0,351.0 C451.0,353.0 447.3,354.8 446.0,358.0 C444.7,361.2 445.2,366.5 443.0,370.0 C440.8,373.5 436.7,377.3 433.0,379.0 C429.3,380.7 424.2,381.2 421.0,380.0 C417.8,378.8 415.5,375.3 414.0,372.0 C412.5,368.7 412.0,363.7 412.0,360.0 C412.0,356.3 412.0,352.3 414.0,350.0Z" fill="url(#mesh2)" stroke="#1a1a1a" stroke-width="0.9"/>
<path d="M438.0,342.0 C439.0,340.2 447.3,339.2 452.0,339.0 C456.7,338.8 462.8,339.8 466.0,341.0 C469.2,342.2 472.0,344.5 471.0,346.0 C470.0,347.5 464.2,349.3 460.0,350.0 C455.8,350.7 449.7,351.3 446.0,350.0 C442.3,348.7 437.0,343.8 438.0,342.0Z" fill="url(#mesh2)" stroke="#1a1a1a" stroke-width="0.9"/>
<path d="M436.0,290.0 C438.3,287.7 444.0,288.0 448.0,288.0 C452.0,288.0 456.3,289.0 460.0,290.0 C463.7,291.0 467.0,292.2 470.0,294.0 C473.0,295.8 476.0,298.0 478.0,301.0 C480.0,304.0 481.5,308.0 482.0,312.0 C482.5,316.0 483.0,322.3 481.0,325.0 C479.0,327.7 474.3,327.7 470.0,328.0 C465.7,328.3 459.3,328.2 455.0,327.0 C450.7,325.8 447.0,323.2 444.0,321.0 C441.0,318.8 438.7,317.2 437.0,314.0 C435.3,310.8 434.2,306.0 434.0,302.0 C433.8,298.0 433.7,292.3 436.0,290.0Z" fill="url(#mesh2)" stroke="#1a1a1a" stroke-width="0.9"/>
<path d="M490.0,238.0 C488.3,239.2 484.3,243.0 480.0,245.0 C475.7,247.0 469.2,248.5 464.0,250.0 C458.8,251.5 452.8,252.7 449.0,254.0 C445.2,255.3 441.7,256.7 441.0,258.0 C440.3,259.3 444.3,261.3 445.0,262.0" fill="none" stroke="#d987d9" stroke-width="8.5" stroke-linecap="butt"/>
<path d="M441.0,258.0 C442.8,258.5 447.3,260.2 452.0,261.0 C456.7,261.8 464.0,261.3 469.0,263.0 C474.0,264.7 478.7,267.3 482.0,271.0 C485.3,274.7 488.7,281.0 489.0,285.0 C489.3,289.0 487.2,292.2 484.0,295.0 C480.8,297.8 474.8,300.2 470.0,302.0 C465.2,303.8 459.0,304.7 455.0,305.5 C451.0,306.3 447.5,306.8 446.0,307.0" fill="none" stroke="#e093e2" stroke-width="9" stroke-linecap="butt"/>
<path d="M446.0,307.0 C448.0,307.3 453.7,308.0 458.0,309.0 C462.3,310.0 467.7,311.2 472.0,313.0 C476.3,314.8 481.3,317.0 484.0,320.0 C486.7,323.0 488.0,327.5 488.0,331.0 C488.0,334.5 486.8,338.0 484.0,341.0 C481.2,344.0 475.7,347.0 471.0,349.0 C466.3,351.0 460.2,352.0 456.0,353.0 C451.8,354.0 447.7,354.7 446.0,355.0" fill="none" stroke="#db8adb" stroke-width="9.5" stroke-linecap="butt"/>
<path d="M394.5,257 L391.5,264 L395,271 L401,275 L405,281 L406,290" fill="none" stroke="#f5e61c" stroke-width="3.2199999999999998" stroke-linecap="round" stroke-linejoin="round"/>
<path d="M400.5,257 L403,263 L402,269 L395,271" fill="none" stroke="#f5e61c" stroke-width="2.9899999999999998" stroke-linecap="round" stroke-linejoin="round"/>
<path d="M401,275 L409,277 L413,283 L411,290 L406,290" fill="none" stroke="#f5e61c" stroke-width="2.9899999999999998" stroke-linecap="round" stroke-linejoin="round"/>
<path d="M406,290 L413,293 L421,292 L429,288 L436,282" fill="none" stroke="#f5e61c" stroke-width="3.2199999999999998" stroke-linecap="round" stroke-linejoin="round"/>
<path d="M413,293 L418,286 L427,281 L432,283 L429,288" fill="none" stroke="#f5e61c" stroke-width="2.76" stroke-linecap="round" stroke-linejoin="round"/>
<path d="M418,286 L421,292" fill="none" stroke="#f5e61c" stroke-width="2.53" stroke-linecap="round" stroke-linejoin="round"/>
<path d="M407,292 L407,303" fill="none" stroke="#40e040" stroke-width="2.76" stroke-linecap="round" stroke-linejoin="round"/>
<path d="M427,281 L427,275" fill="none" stroke="#40e040" stroke-width="2.76" stroke-linecap="round" stroke-linejoin="round"/>
<path d="M394.5,257 L398,256" fill="none" stroke="#1010d8" stroke-width="3.2199999999999998" stroke-linecap="round" stroke-linejoin="round"/>
<path d="M400.5,256.5 L402,261" fill="none" stroke="#f49a1a" stroke-width="2.9899999999999998" stroke-linecap="round" stroke-linejoin="round"/>
<path d="M434,281 L438,281" fill="none" stroke="#f49a1a" stroke-width="2.9899999999999998" stroke-linecap="round" stroke-linejoin="round"/>
<path d="M418,293 L423,294" fill="none" stroke="#1010d8" stroke-width="3.4499999999999997" stroke-linecap="round" stroke-linejoin="round"/>
<path d="M376,320 L387,314 L396,309 L402.6,321" fill="none" stroke="#2fe0ea" stroke-width="2.9899999999999998" stroke-linecap="round" stroke-linejoin="round"/>
<path d="M402.6,325 L403,332" fill="none" stroke="#f01414" stroke-width="3.2199999999999998" stroke-linecap="round" stroke-linejoin="round"/>
<path d="M401,314 L403,318" fill="none" stroke="#f01414" stroke-width="2.53" stroke-linecap="round" stroke-linejoin="round"/>
<path d="M438,313 L443,308 L446,306" fill="none" stroke="#2fe0ea" stroke-width="2.9899999999999998" stroke-linecap="round" stroke-linejoin="round"/>
<path d="M435.5,316.5 L438,313" fill="none" stroke="#f01414" stroke-width="3.2199999999999998" stroke-linecap="round" stroke-linejoin="round"/>
<path d="M421,357 L424,361" fill="none" stroke="#f01414" stroke-width="3.2199999999999998" stroke-linecap="round" stroke-linejoin="round"/>
<path d="M424,361 L426.5,368 L437,363.5 L442.5,352.5" fill="none" stroke="#2fe0ea" stroke-width="2.9899999999999998" stroke-linecap="round" stroke-linejoin="round"/>
<path d="M426.5,368 L422,377.5" fill="none" stroke="#1010d8" stroke-width="3.2199999999999998" stroke-linecap="round" stroke-linejoin="round"/>
<path d="M389,375.5 L397,369.5 L395.5,351" fill="none" stroke="#2fe0ea" stroke-width="2.9899999999999998" stroke-linecap="round" stroke-linejoin="round"/>
<path d="M391,346 L395.5,350 L398,347" fill="none" stroke="#f01414" stroke-width="2.76" stroke-linecap="round" stroke-linejoin="round"/>
<path d="M352,366 L358,359 L364,356" fill="none" stroke="#2fe0ea" stroke-width="2.76" stroke-linecap="round" stroke-linejoin="round"/>
<circle cx="411.9" cy="334.6" r="9.2" fill="#26dc26" stroke="#222" stroke-width="0.7"/>
<circle cx="411.9" cy="334.6" r="9.2" fill="url(#mesh2)" opacity="0.35"/>
</g>
<rect x="326.2" y="240.4" width="169.2" height="168.7" fill="none" stroke="#555" stroke-width="0.8"/>
<text x="354.3" y="261.8" font-size="9.8" fill="#1a1a1a" stroke="#1a1a1a" stroke-width="0.22">S2</text>
<text x="460" y="254.8" font-size="9.8" fill="#1a1a1a" stroke="#1a1a1a" stroke-width="0.22">S3</text>
<text x="422.8" y="271.5" font-size="9.8" fill="#1a1a1a" stroke="#1a1a1a" stroke-width="0.22">CBTA</text>
<text x="365.3" y="309.6" font-size="9.8" fill="#1a1a1a" stroke="#1a1a1a" stroke-width="0.22">E768</text>
<text x="444.9" y="327.5" font-size="9.8" fill="#1a1a1a" stroke="#1a1a1a" stroke-width="0.22">D797</text>
<text x="426.6" y="340.8" font-size="9.8" fill="#1a1a1a" stroke="#1a1a1a" stroke-width="0.22">Ca<tspan font-size="5.6" dy="2.2">TMD</tspan></text>
<text x="441.3" y="368.2" font-size="9.8" fill="#1a1a1a" stroke="#1a1a1a" stroke-width="0.22">N794</text>
<text x="393" y="388" font-size="9.8" fill="#1a1a1a" stroke="#1a1a1a" stroke-width="0.22">E994</text>
<text x="451" y="388.2" font-size="9.8" fill="#1a1a1a" stroke="#1a1a1a" stroke-width="0.22">TRP helix</text>
<rect x="339.5" y="364.6" width="23.5" height="9.8" fill="#fff" opacity="0.9"/>
<text x="340.5" y="373.2" font-size="9.6" fill="#e8232b" stroke="#e8232b" stroke-width="0.22">A771</text>
<text x="-0.5" y="8.8" font-size="12.5" fill="#000" text-anchor="start" font-weight="bold" >a</text>
<text x="258.5" y="9" font-size="12.5" fill="#000" text-anchor="start" font-weight="bold" >b</text>
<text x="516.9" y="13.3" font-size="12.5" fill="#000" text-anchor="start" font-weight="bold" >c</text>
<text x="-0.6" y="220" font-size="12.5" fill="#000" text-anchor="start" font-weight="bold" >d</text>
<text x="193.9" y="220.1" font-size="12.5" fill="#000" text-anchor="start" font-weight="bold" >e</text>
<text x="321.5" y="219.9" font-size="12.5" fill="#000" text-anchor="start" font-weight="bold" >f</text>
<text x="518.7" y="219.6" font-size="12.5" fill="#000" text-anchor="start" font-weight="bold" >g</text>
<line x1="6" y1="92.4" x2="209" y2="92.4" stroke="#777" stroke-width="0.6"/>
<path d="M15.4,92.4 V146.3 L75.5,146.3" fill="none" stroke="#f4a24a" stroke-width="1.1" stroke-linejoin="round"/>
<path d="M75.5,146.3 C85.2,137.3 114.1,111.1 134.0,92.3 C153.9,73.5 184.8,43.4 195.0,33.6" fill="none" stroke="#f4a24a" stroke-width="1.1" stroke-linejoin="round" stroke-linecap="round" />
<line x1="195" y1="33.6" x2="195" y2="92.4" stroke="#f4a24a" stroke-width="1.1"/>
<path d="M15.4,92.4 V143.7 L75.5,143.7" fill="none" stroke="#e9473f" stroke-width="1.1" stroke-linejoin="round"/>
<path d="M75.5,143.7 C85.2,135.1 114.1,110.4 134.0,92.3 C153.9,74.2 184.8,44.7 195.0,35.2" fill="none" stroke="#e9473f" stroke-width="1.1" stroke-linejoin="round" stroke-linecap="round" />
<line x1="195" y1="35.2" x2="195" y2="92.4" stroke="#e9473f" stroke-width="1.1"/>
<path d="M15.4,92.4 V140.8 L75.5,140.8" fill="none" stroke="#8fd3f2" stroke-width="1.1" stroke-linejoin="round"/>
<path d="M75.5,140.8 C85.2,132.7 114.1,109.5 134.0,92.3 C153.9,75.1 184.8,46.6 195.0,37.5" fill="none" stroke="#8fd3f2" stroke-width="1.1" stroke-linejoin="round" stroke-linecap="round" />
<line x1="195" y1="37.5" x2="195" y2="92.4" stroke="#8fd3f2" stroke-width="1.1"/>
<path d="M15.4,92.4 V122.8 L75.5,123.5" fill="none" stroke="#3b55a6" stroke-width="1.1" stroke-linejoin="round"/>
<path d="M75.5,123.5 C81.2,120.9 100.2,113.1 110.0,107.9 C119.8,102.7 125.7,98.4 134.0,92.3 C142.3,86.2 151.3,78.5 160.0,71.5 C168.7,64.5 180.1,54.9 185.9,50.0 C191.7,45.1 193.5,43.3 195.0,42.0" fill="none" stroke="#3b55a6" stroke-width="1.1" stroke-linejoin="round" stroke-linecap="round" />
<line x1="195" y1="42" x2="195" y2="92.4" stroke="#3b55a6" stroke-width="1.1"/>
<path d="M15.4,92.4 V100.9 L75.5,101.4" fill="none" stroke="#9a9a35" stroke-width="1.0" stroke-linejoin="round"/>
<path d="M75.5,101.4 C81.2,100.9 100.2,100.1 110.0,98.6 C119.8,97.1 125.1,96.1 134.0,92.3 C142.9,88.5 153.1,81.5 163.3,75.8 C173.5,70.1 189.7,61.0 195.0,58.0" fill="none" stroke="#9a9a35" stroke-width="1.0" stroke-linejoin="round" stroke-linecap="round" />
<line x1="195" y1="58" x2="195" y2="92.4" stroke="#9a9a35" stroke-width="1.0"/>
<path d="M6,91.8 H15.4 V92.9 L100,92.9" fill="none" stroke="#2f6a2c" stroke-width="1.7"/>
<path d="M100.0,92.9 C105.7,92.8 123.5,93.0 134.0,92.4 C144.6,91.8 153.1,90.9 163.3,89.3 C173.5,87.7 189.7,83.7 195.0,82.6" fill="none" stroke="#3d8a33" stroke-width="1.6" stroke-linejoin="round" stroke-linecap="round" />
<path d="M195,82.6 V92.6 H209" fill="none" stroke="#2f6a2c" stroke-width="1.6"/>
<text x="198" y="31.5" font-size="8.2" fill="#f4a24a" text-anchor="start" font-weight="normal"  textLength="29.3" lengthAdjust="spacingAndGlyphs" stroke="#f4a24a" stroke-width="0.22">100 µM</text>
<text x="198" y="42.6" font-size="8.2" fill="#e9473f" text-anchor="start" font-weight="normal"  textLength="25.5" lengthAdjust="spacingAndGlyphs" stroke="#e9473f" stroke-width="0.22">30 µM</text>
<text x="198" y="53.7" font-size="8.2" fill="#8fd3f2" text-anchor="start" font-weight="normal"  textLength="25.3" lengthAdjust="spacingAndGlyphs" stroke="#8fd3f2" stroke-width="0.22">10 µM</text>
<text x="198" y="64.8" font-size="8.2" fill="#3b55a6" text-anchor="start" font-weight="normal"  textLength="20.5" lengthAdjust="spacingAndGlyphs" stroke="#3b55a6" stroke-width="0.22">3 µM</text>
<text x="198" y="75.9" font-size="8.2" fill="#9a9a35" text-anchor="start" font-weight="normal"  textLength="20.3" lengthAdjust="spacingAndGlyphs" stroke="#9a9a35" stroke-width="0.22">1 µM</text>
<text x="198" y="86.9" font-size="8.2" fill="#4e9a3a" text-anchor="start" font-weight="normal"  textLength="28.3" lengthAdjust="spacingAndGlyphs" stroke="#4e9a3a" stroke-width="0.22">0.3 µM</text>
<text x="198.4" y="104.2" font-size="8.2" fill="#262626" text-anchor="start" font-weight="normal"  textLength="17.1" lengthAdjust="spacingAndGlyphs" stroke="#262626" stroke-width="0.22">Bath</text>
<polyline points="160.5,154.4 191,154.4 191,111.6" fill="none" stroke="#888" stroke-width="0.9"/>
<text x="194" y="137.3" font-size="7.5" fill="#262626" text-anchor="start" font-weight="normal"  stroke="#262626" stroke-width="0.22">10 nA</text>
<text x="162" y="167.4" font-size="7.5" fill="#262626" text-anchor="start" font-weight="normal"  stroke="#262626" stroke-width="0.22">50 ms</text>
<line x1="288.2" y1="36.3" x2="288.2" y2="146.3" stroke="#777" stroke-width="0.8"/>
<line x1="285.8" y1="36.3" x2="288.2" y2="36.3" stroke="#777" stroke-width="0.8"/>
<text x="282.8" y="38.599999999999994" font-size="6.9" fill="#262626" text-anchor="end" font-weight="normal"  textLength="8.4" lengthAdjust="spacingAndGlyphs" stroke="#262626" stroke-width="0.22">20</text>
<line x1="285.8" y1="63.8" x2="288.2" y2="63.8" stroke="#777" stroke-width="0.8"/>
<text x="282.8" y="66.1" font-size="6.9" fill="#262626" text-anchor="end" font-weight="normal"  textLength="8.4" lengthAdjust="spacingAndGlyphs" stroke="#262626" stroke-width="0.22">10</text>
<line x1="285.8" y1="91.3" x2="288.2" y2="91.3" stroke="#777" stroke-width="0.8"/>
<text x="282.8" y="93.6" font-size="6.9" fill="#262626" text-anchor="end" font-weight="normal"  textLength="4.2" lengthAdjust="spacingAndGlyphs" stroke="#262626" stroke-width="0.22">0</text>
<line x1="285.8" y1="118.8" x2="288.2" y2="118.8" stroke="#777" stroke-width="0.8"/>
<text x="282.8" y="121.1" font-size="6.9" fill="#262626" text-anchor="end" font-weight="normal"  textLength="12.4" lengthAdjust="spacingAndGlyphs" stroke="#262626" stroke-width="0.22">–10</text>
<line x1="285.8" y1="146.3" x2="288.2" y2="146.3" stroke="#777" stroke-width="0.8"/>
<text x="282.8" y="148.60000000000002" font-size="6.9" fill="#262626" text-anchor="end" font-weight="normal"  textLength="12.4" lengthAdjust="spacingAndGlyphs" stroke="#262626" stroke-width="0.22">–20</text>
<line x1="306.4" y1="151.9" x2="482.5" y2="151.9" stroke="#777" stroke-width="0.8"/>
<line x1="306.4" y1="151.9" x2="306.4" y2="154.3" stroke="#777" stroke-width="0.7"/>
<line x1="319.6" y1="151.9" x2="319.6" y2="153.20000000000002" stroke="#777" stroke-width="0.7"/>
<line x1="327.4" y1="151.9" x2="327.4" y2="153.20000000000002" stroke="#777" stroke-width="0.7"/>
<line x1="332.9" y1="151.9" x2="332.9" y2="153.20000000000002" stroke="#777" stroke-width="0.7"/>
<line x1="337.2" y1="151.9" x2="337.2" y2="153.20000000000002" stroke="#777" stroke-width="0.7"/>
<line x1="340.6" y1="151.9" x2="340.6" y2="153.20000000000002" stroke="#777" stroke-width="0.7"/>
<line x1="343.6" y1="151.9" x2="343.6" y2="153.20000000000002" stroke="#777" stroke-width="0.7"/>
<line x1="346.1" y1="151.9" x2="346.1" y2="153.20000000000002" stroke="#777" stroke-width="0.7"/>
<line x1="348.4" y1="151.9" x2="348.4" y2="153.20000000000002" stroke="#777" stroke-width="0.7"/>
<line x1="350.4" y1="151.9" x2="350.4" y2="154.3" stroke="#777" stroke-width="0.7"/>
<line x1="363.6" y1="151.9" x2="363.6" y2="153.20000000000002" stroke="#777" stroke-width="0.7"/>
<line x1="371.4" y1="151.9" x2="371.4" y2="153.20000000000002" stroke="#777" stroke-width="0.7"/>
<line x1="376.9" y1="151.9" x2="376.9" y2="153.20000000000002" stroke="#777" stroke-width="0.7"/>
<line x1="381.2" y1="151.9" x2="381.2" y2="153.20000000000002" stroke="#777" stroke-width="0.7"/>
<line x1="384.6" y1="151.9" x2="384.6" y2="153.20000000000002" stroke="#777" stroke-width="0.7"/>
<line x1="387.6" y1="151.9" x2="387.6" y2="153.20000000000002" stroke="#777" stroke-width="0.7"/>
<line x1="390.1" y1="151.9" x2="390.1" y2="153.20000000000002" stroke="#777" stroke-width="0.7"/>
<line x1="392.4" y1="151.9" x2="392.4" y2="153.20000000000002" stroke="#777" stroke-width="0.7"/>
<line x1="394.4" y1="151.9" x2="394.4" y2="154.3" stroke="#777" stroke-width="0.7"/>
<line x1="407.6" y1="151.9" x2="407.6" y2="153.20000000000002" stroke="#777" stroke-width="0.7"/>
<line x1="415.4" y1="151.9" x2="415.4" y2="153.20000000000002" stroke="#777" stroke-width="0.7"/>
<line x1="420.9" y1="151.9" x2="420.9" y2="153.20000000000002" stroke="#777" stroke-width="0.7"/>
<line x1="425.2" y1="151.9" x2="425.2" y2="153.20000000000002" stroke="#777" stroke-width="0.7"/>
<line x1="428.6" y1="151.9" x2="428.6" y2="153.20000000000002" stroke="#777" stroke-width="0.7"/>
<line x1="431.6" y1="151.9" x2="431.6" y2="153.20000000000002" stroke="#777" stroke-width="0.7"/>
<line x1="434.1" y1="151.9" x2="434.1" y2="153.20000000000002" stroke="#777" stroke-width="0.7"/>
<line x1="436.4" y1="151.9" x2="436.4" y2="153.20000000000002" stroke="#777" stroke-width="0.7"/>
<line x1="438.4" y1="151.9" x2="438.4" y2="154.3" stroke="#777" stroke-width="0.7"/>
<line x1="451.6" y1="151.9" x2="451.6" y2="153.20000000000002" stroke="#777" stroke-width="0.7"/>
<line x1="459.4" y1="151.9" x2="459.4" y2="153.20000000000002" stroke="#777" stroke-width="0.7"/>
<line x1="464.9" y1="151.9" x2="464.9" y2="153.20000000000002" stroke="#777" stroke-width="0.7"/>
<line x1="469.2" y1="151.9" x2="469.2" y2="153.20000000000002" stroke="#777" stroke-width="0.7"/>
<line x1="472.6" y1="151.9" x2="472.6" y2="153.20000000000002" stroke="#777" stroke-width="0.7"/>
<line x1="475.6" y1="151.9" x2="475.6" y2="153.20000000000002" stroke="#777" stroke-width="0.7"/>
<line x1="478.1" y1="151.9" x2="478.1" y2="153.20000000000002" stroke="#777" stroke-width="0.7"/>
<line x1="480.4" y1="151.9" x2="480.4" y2="153.20000000000002" stroke="#777" stroke-width="0.7"/>
<line x1="482.4" y1="151.9" x2="482.4" y2="154.3" stroke="#777" stroke-width="0.7"/>
<text x="306.4" y="163.8" font-size="7.5" fill="#262626" text-anchor="middle" font-weight="normal"  textLength="9.4" lengthAdjust="spacingAndGlyphs" stroke="#262626" stroke-width="0.22">0.1</text>
<text x="350.4" y="163.8" font-size="7.5" fill="#262626" text-anchor="middle" font-weight="normal"  stroke="#262626" stroke-width="0.22">1</text>
<text x="394.4" y="163.8" font-size="7.5" fill="#262626" text-anchor="middle" font-weight="normal"  textLength="9.2" lengthAdjust="spacingAndGlyphs" stroke="#262626" stroke-width="0.22">10</text>
<text x="438.4" y="163.8" font-size="7.5" fill="#262626" text-anchor="middle" font-weight="normal"  textLength="13.8" lengthAdjust="spacingAndGlyphs" stroke="#262626" stroke-width="0.22">100</text>
<text x="482.4" y="163.8" font-size="7.5" fill="#262626" text-anchor="middle" font-weight="normal"  textLength="20.4" lengthAdjust="spacingAndGlyphs" stroke="#262626" stroke-width="0.22">1,000</text>
<text x="395" y="178" font-size="8.8" fill="#262626" text-anchor="middle" font-weight="normal"  textLength="49.5" lengthAdjust="spacingAndGlyphs" stroke="#262626" stroke-width="0.22">[CBTA] (µM)</text>
<text x="265.2" y="91.2" font-size="8.8" fill="#262626" text-anchor="middle" textLength="49" lengthAdjust="spacingAndGlyphs" transform="rotate(-90 265.2 91.2)" stroke="#262626" stroke-width="0.22">Current (nA)</text>
<line x1="290" y1="91.4" x2="481" y2="91.4" stroke="#222" stroke-width="0.8" stroke-dasharray="2.6,2"/>
<path d="M327.3,88.0 C331.1,85.6 342.8,77.3 350.1,73.7 C357.5,70.1 364.0,68.9 371.4,66.5 C378.8,64.1 387.0,60.5 394.3,59.1 C401.6,57.7 407.9,58.5 415.2,58.2 C422.5,58.0 434.5,57.7 438.4,57.6" fill="none" stroke="#262626" stroke-width="0.7" stroke-linejoin="round" stroke-linecap="round" />
<path d="M327.3,91.8 C331.1,92.5 342.8,93.8 350.1,95.9 C357.5,98.0 364.0,101.5 371.4,104.5 C378.8,107.5 387.0,112.0 394.3,114.1 C401.6,116.1 407.9,116.0 415.2,116.8 C422.5,117.6 434.5,118.4 438.4,118.7" fill="none" stroke="#262626" stroke-width="0.7" stroke-linejoin="round" stroke-linecap="round" />
<path d="M371.4,101.0V108.0M370.2,101.0h2.4M370.2,108.0h2.4" stroke="#333" stroke-width="0.6" fill="none"/>
<path d="M394.3,109.9V118.3M393.1,109.9h2.4M393.1,118.3h2.4" stroke="#333" stroke-width="0.6" fill="none"/>
<path d="M415.2,112.5V121.1M414.0,112.5h2.4M414.0,121.1h2.4" stroke="#333" stroke-width="0.6" fill="none"/>
<path d="M438.4,114.4V123.0M437.2,114.4h2.4M437.2,123.0h2.4" stroke="#333" stroke-width="0.6" fill="none"/>
<path d="M371.4,64.3V68.7M370.2,64.3h2.4M370.2,68.7h2.4" stroke="#333" stroke-width="0.6"/>
<circle cx="327.3" cy="91.8" r="2.4" fill="#fff" stroke="#333" stroke-width="0.75"/>
<circle cx="350.1" cy="95.9" r="2.4" fill="#fff" stroke="#333" stroke-width="0.75"/>
<circle cx="371.4" cy="104.5" r="2.4" fill="#fff" stroke="#333" stroke-width="0.75"/>
<circle cx="394.3" cy="114.1" r="2.4" fill="#fff" stroke="#333" stroke-width="0.75"/>
<circle cx="415.2" cy="116.8" r="2.4" fill="#fff" stroke="#333" stroke-width="0.75"/>
<circle cx="438.4" cy="118.7" r="2.4" fill="#fff" stroke="#333" stroke-width="0.75"/>
<circle cx="327.3" cy="88" r="2.6" fill="#000"/>
<circle cx="350.1" cy="73.7" r="2.6" fill="#000"/>
<circle cx="371.4" cy="66.5" r="2.6" fill="#000"/>
<circle cx="394.3" cy="59.1" r="2.6" fill="#000"/>
<circle cx="415.2" cy="58.2" r="2.6" fill="#000"/>
<circle cx="438.4" cy="57.6" r="2.6" fill="#000"/>
<text x="296" y="42.8" font-size="8.2" fill="#2a2a2a" textLength="91.5" lengthAdjust="spacingAndGlyphs" stroke="#2a2a2a" stroke-width="0.22">EC<tspan font-size="6.4" dy="2.6">50</tspan><tspan dy="-2.6">(+100 mV): 0.3 µM</tspan></text>
<text x="296" y="142.4" font-size="8.2" fill="#2a2a2a" textLength="89.8" lengthAdjust="spacingAndGlyphs" stroke="#2a2a2a" stroke-width="0.22">EC<tspan font-size="6.4" dy="2.6">50</tspan><tspan dy="-2.6">(–100 mV): 3.1 µM</tspan></text>
<line x1="436" y1="43.4" x2="449" y2="43.4" stroke="#333" stroke-width="0.7"/><circle cx="443" cy="43.4" r="2.5" fill="#000"/>
<text x="452" y="46.3" font-size="8.5" fill="#2a2a2a" text-anchor="start" font-weight="normal"  textLength="34.7" lengthAdjust="spacingAndGlyphs" stroke="#2a2a2a" stroke-width="0.22">+100 mV</text>
<line x1="437" y1="139.6" x2="450" y2="139.6" stroke="#333" stroke-width="0.7"/><circle cx="443.5" cy="139.6" r="2.4" fill="#fff" stroke="#333" stroke-width="0.7"/>
<text x="455.3" y="142.5" font-size="8.5" fill="#2a2a2a" text-anchor="start" font-weight="normal"  textLength="35.5" lengthAdjust="spacingAndGlyphs" stroke="#2a2a2a" stroke-width="0.22">–100 mV</text>
<rect x="539.8" y="67.1" width="91.2" height="33.7" fill="#ebebeb"/>
<rect x="539.8" y="135.9" width="91.2" height="24.8" fill="#ebebeb"/>
<line x1="545.9" y1="30.7" x2="545.9" y2="199.7" stroke="#555" stroke-width="0.7" stroke-dasharray="2.4,1.8"/>
<line x1="563.6" y1="30.7" x2="563.6" y2="199.7" stroke="#555" stroke-width="0.7" stroke-dasharray="2.4,1.8"/>
<line x1="539.3" y1="30.7" x2="630.6" y2="30.7" stroke="#888" stroke-width="0.8"/>
<line x1="539.3" y1="30.3" x2="539.3" y2="199.8" stroke="#888" stroke-width="0.8"/>
<line x1="539.3" y1="28.6" x2="539.3" y2="30.7" stroke="#888" stroke-width="0.7"/>
<line x1="584.8" y1="28.6" x2="584.8" y2="30.7" stroke="#888" stroke-width="0.7"/>
<line x1="630.3" y1="28.6" x2="630.3" y2="30.7" stroke="#888" stroke-width="0.7"/>
<text x="539.3" y="24.5" font-size="6.8" fill="#262626" text-anchor="middle" font-weight="normal"  stroke="#262626" stroke-width="0.22">0</text>
<text x="584.6" y="24.5" font-size="6.8" fill="#262626" text-anchor="middle" font-weight="normal"  stroke="#262626" stroke-width="0.22">5</text>
<text x="629.9" y="24.5" font-size="6.8" fill="#262626" text-anchor="middle" font-weight="normal"  textLength="8.4" lengthAdjust="spacingAndGlyphs" stroke="#262626" stroke-width="0.22">10</text>
<text x="584.8" y="14.3" font-size="8.6" fill="#262626" text-anchor="middle" font-weight="normal"  textLength="40.3" lengthAdjust="spacingAndGlyphs" stroke="#262626" stroke-width="0.22">Radius (Å)</text>
<path d="M530.8,31H534.4M532.6,31V47.3M530.8,47.3H534.4" fill="none" stroke="#777" stroke-width="0.75"/>
<text x="530" y="42.1" font-size="8.2" fill="#262626" text-anchor="end" font-weight="normal"  textLength="12.4" lengthAdjust="spacingAndGlyphs" stroke="#262626" stroke-width="0.22">5 Å</text>
<line x1="571.7" y1="41.5" x2="566.2" y2="41.5" stroke="#222" stroke-width="0.7"/>
<path d="M564.2,41.5 l3,-1.5 v3 z" fill="#222"/>
<line x1="571.7" y1="52.2" x2="548.4" y2="52.2" stroke="#222" stroke-width="0.7"/>
<path d="M546.4,52.2 l3,-1.5 v3 z" fill="#222"/>
<text x="575.2" y="44.5" font-size="8.2" fill="#262626" text-anchor="start" font-weight="normal"  stroke="#262626" stroke-width="0.22">2.7 Å</text>
<text x="575.2" y="55.3" font-size="8.2" fill="#262626" text-anchor="start" font-weight="normal"  stroke="#262626" stroke-width="0.22">0.8 Å</text>
<text x="579.1" y="83.2" font-size="8.2" fill="#262626" text-anchor="start" font-weight="normal"  textLength="42.1" lengthAdjust="spacingAndGlyphs" stroke="#262626" stroke-width="0.22">Selectivity</text>
<text x="579.1" y="93.2" font-size="8.2" fill="#262626" text-anchor="start" font-weight="normal"  textLength="17.3" lengthAdjust="spacingAndGlyphs" stroke="#262626" stroke-width="0.22">filter</text>
<text x="600" y="152" font-size="8.2" fill="#262626" text-anchor="middle" font-weight="normal"  textLength="19.3" lengthAdjust="spacingAndGlyphs" stroke="#262626" stroke-width="0.22">Gate</text>
<text x="533.3" y="115" font-size="8.9" fill="#262626" text-anchor="middle" textLength="113.4" lengthAdjust="spacingAndGlyphs" transform="rotate(-90 533.3 115)" stroke="#262626" stroke-width="0.22">Distance along pore axis (Å)</text>
<polyline points="614.8,30.7 615.4,36.0 615.8,40.0 612.8,44.0 608.8,51.0 605.9,53.0 590.5,59.5 574.0,68.5 566.5,75.0 561.5,83.0 562.0,88.0 563.5,92.0 562.0,97.0 564.0,101.5 564.0,106.3 563.3,112.3 566.6,119.0 576.0,124.3 581.2,127.6 580.6,129.6 572.0,134.9 567.3,140.2 566.0,148.2 564.6,152.0 564.0,157.0 568.0,161.0 574.0,166.3 568.0,171.6 564.6,177.0 568.0,183.6 574.6,188.2 572.0,192.9 570.0,199.5" fill="none" stroke="#d64fd8" stroke-width="1.6" stroke-linejoin="round" stroke-linecap="round" />
<polyline points="609.8,30.7 610.2,36.0 608.0,40.0 605.9,44.0 603.9,54.0 589.9,61.0 574.5,69.5 566.5,76.5 561.0,84.0 561.0,88.0 562.2,92.0 560.5,97.0 561.0,101.0 564.6,104.3 574.6,111.0 583.2,116.3 584.6,119.0 581.2,126.3 578.6,127.0 564.0,132.9 553.3,138.9 547.3,144.2 546.7,147.5 548.6,153.0 547.0,157.0 551.3,161.0 556.0,165.6 552.0,169.6 553.3,175.6 560.0,180.9 568.0,186.2 566.0,190.2 564.6,195.6 563.7,199.5" fill="none" stroke="#3fcf3a" stroke-width="1.6" stroke-linejoin="round" stroke-linecap="round" />
<polyline points="613.8,30.7 613.4,36.0 610.8,40.0 607.9,45.0 604.9,53.0 589.9,60.0 573.9,69.0 566.0,75.9 560.0,83.9 559.0,87.9 561.0,91.9 559.0,96.8 560.5,101.0 564.6,104.3 574.6,111.0 583.2,116.3 580.0,121.0 578.6,126.3 564.0,132.9 553.3,138.9 547.3,144.2 546.7,147.5 550.0,151.5 546.7,157.0 551.3,161.0 556.0,165.6 552.0,169.6 553.3,175.6 560.0,180.9 550.6,186.2 547.3,191.6 550.6,196.9 555.3,199.5" fill="none" stroke="#e0822f" stroke-width="1.6" stroke-linejoin="round" stroke-linecap="round" />
<line x1="581.3" y1="169.4" x2="588.8" y2="169.4" stroke="#e0822f" stroke-width="2"/>
<text x="591.8" y="172.4" font-size="8.2" fill="#262626" text-anchor="start" font-weight="normal"  textLength="43.2" lengthAdjust="spacingAndGlyphs" stroke="#262626" stroke-width="0.22">Apo E337A</text>
<line x1="581.3" y1="182.5" x2="588.8" y2="182.5" stroke="#3fcf3a" stroke-width="2"/>
<text x="591.8" y="185.5" font-size="8.2" fill="#262626" text-anchor="start" font-weight="normal"  textLength="46.4" lengthAdjust="spacingAndGlyphs" stroke="#262626" stroke-width="0.22">Ca<tspan font-size="6" dy="-3.4">2+</tspan><tspan dy="3.4">–E337A</tspan></text>
<line x1="581.3" y1="195.7" x2="588.8" y2="195.7" stroke="#d64fd8" stroke-width="2"/>
<text x="591.8" y="198.7" font-size="8.2" fill="#262626" text-anchor="start" font-weight="normal"  textLength="71.6" lengthAdjust="spacingAndGlyphs" stroke="#262626" stroke-width="0.22">CBTA/Ca<tspan font-size="6" dy="-3.4">2+</tspan><tspan dy="3.4">–E337A</tspan></text>
<rect x="217.2" y="283.3" width="89.8" height="34" fill="#ebebeb"/>
<rect x="217.2" y="346" width="89.8" height="24.8" fill="#ebebeb"/>
<line x1="222.5" y1="240.2" x2="222.5" y2="409.4" stroke="#555" stroke-width="0.7" stroke-dasharray="2.4,1.8"/>
<line x1="239.7" y1="240.2" x2="239.7" y2="409.4" stroke="#555" stroke-width="0.7" stroke-dasharray="2.4,1.8"/>
<rect x="216.8" y="240.2" width="90.6" height="169.2" fill="none" stroke="#888" stroke-width="0.8"/>
<line x1="216.8" y1="238.1" x2="216.8" y2="240.2" stroke="#888" stroke-width="0.7"/>
<line x1="262.1" y1="238.1" x2="262.1" y2="240.2" stroke="#888" stroke-width="0.7"/>
<line x1="307.4" y1="238.1" x2="307.4" y2="240.2" stroke="#888" stroke-width="0.7"/>
<text x="216.6" y="234" font-size="6.8" fill="#262626" text-anchor="middle" font-weight="normal"  stroke="#262626" stroke-width="0.22">0</text>
<text x="261.5" y="234" font-size="6.8" fill="#262626" text-anchor="middle" font-weight="normal"  stroke="#262626" stroke-width="0.22">5</text>
<text x="307" y="234" font-size="6.8" fill="#262626" text-anchor="middle" font-weight="normal"  textLength="8.4" lengthAdjust="spacingAndGlyphs" stroke="#262626" stroke-width="0.22">10</text>
<text x="261.4" y="221.1" font-size="8.6" fill="#262626" text-anchor="middle" font-weight="normal"  textLength="40" lengthAdjust="spacingAndGlyphs" stroke="#262626" stroke-width="0.22">Radius (Å)</text>
<path d="M207.9,240.4H211.4M209.7,240.4V257.1M207.9,257.1H211.4" fill="none" stroke="#777" stroke-width="0.75"/>
<text x="207.2" y="251.8" font-size="8.2" fill="#262626" text-anchor="end" font-weight="normal"  textLength="12.7" lengthAdjust="spacingAndGlyphs" stroke="#262626" stroke-width="0.22">5 Å</text>
<line x1="246" y1="250.8" x2="242.8" y2="250.8" stroke="#222" stroke-width="0.7"/>
<path d="M240.8,250.8 l3,-1.5 v3 z" fill="#222"/>
<line x1="246" y1="261" x2="225.6" y2="261" stroke="#222" stroke-width="0.7"/>
<path d="M223.6,261 l3,-1.5 v3 z" fill="#222"/>
<text x="250.5" y="253.6" font-size="7.6" fill="#262626" text-anchor="start" font-weight="normal"  stroke="#262626" stroke-width="0.22">2.7 Å</text>
<text x="250.5" y="263.8" font-size="7.6" fill="#262626" text-anchor="start" font-weight="normal"  stroke="#262626" stroke-width="0.22">0.8 Å</text>
<text x="256.1" y="299.5" font-size="8.2" fill="#262626" text-anchor="start" font-weight="normal"  textLength="41.5" lengthAdjust="spacingAndGlyphs" stroke="#262626" stroke-width="0.22">Selectivity</text>
<text x="256.1" y="309.5" font-size="8.2" fill="#262626" text-anchor="start" font-weight="normal"  textLength="17.1" lengthAdjust="spacingAndGlyphs" stroke="#262626" stroke-width="0.22">filter</text>
<text x="277" y="361.6" font-size="8.2" fill="#262626" text-anchor="middle" font-weight="normal"  textLength="19.3" lengthAdjust="spacingAndGlyphs" stroke="#262626" stroke-width="0.22">Gate</text>
<text x="209.7" y="314" font-size="8.8" fill="#262626" text-anchor="middle" textLength="110.7" lengthAdjust="spacingAndGlyphs" transform="rotate(-90 209.7 314)" stroke="#262626" stroke-width="0.22">Distance along pore axis (Å)</text>
<polyline points="294.8,240.4 295.8,246.0 291.8,252.0 287.8,258.0 285.8,264.9 271.9,270.9 255.9,278.9 245.9,287.9 240.0,295.9 239.0,300.9 240.0,305.9 241.0,310.8 248.0,316.8 255.0,322.0 258.6,324.0 262.6,329.3 258.6,334.6 257.2,340.0 248.0,346.6 243.3,352.6 244.0,358.6 241.3,362.6 240.6,367.9 246.0,374.4 244.3,378.3 245.4,384.4 250.4,389.4 255.9,394.4 254.8,400.5 258.7,409.4" fill="none" stroke="#3d3d3d" stroke-width="1.9" stroke-linejoin="round" stroke-linecap="round" />
<polyline points="293.8,240.4 293.0,244.0 287.8,250.0 284.8,259.0 283.9,262.0 269.9,266.9 253.9,274.9 243.9,282.9 239.0,291.9 238.0,296.9 238.0,303.9 240.0,311.8 248.0,316.8 257.9,323.8 260.6,324.7 255.9,329.3 253.9,336.6 240.0,343.3 229.3,349.3 225.3,354.6 227.3,359.9 223.3,363.9 224.0,369.2 233.2,375.0 231.0,379.4 232.6,385.5 239.3,391.6 230.4,397.2 226.5,402.7 232.0,409.4" fill="none" stroke="#cf3fd6" stroke-width="1.9" stroke-linejoin="round" stroke-linecap="round" />
<line x1="213" y1="420.5" x2="220.8" y2="420.5" stroke="#cf3fd6" stroke-width="2"/>
<text x="224.8" y="423.5" font-size="8.2" fill="#262626" text-anchor="start" font-weight="normal"  stroke="#262626" stroke-width="0.22">Ca<tspan font-size="6" dy="-3.4">2+</tspan><tspan dy="3.4">–Q771A</tspan></text>
<line x1="213" y1="435" x2="220.8" y2="435" stroke="#3d3d3d" stroke-width="2"/>
<text x="224.8" y="438" font-size="8.2" fill="#262626" text-anchor="start" font-weight="normal"  stroke="#262626" stroke-width="0.22">CBTA/Ca<tspan font-size="6" dy="-3.4">2+</tspan><tspan dy="3.4">–Q771A</tspan></text>
<text x="584.8" y="249" font-size="8" fill="#262626" text-anchor="middle" font-weight="normal"  textLength="24.4" lengthAdjust="spacingAndGlyphs" stroke="#262626" stroke-width="0.22">Q771A</text>
<text x="657.4" y="249" font-size="8" fill="#262626" text-anchor="middle" font-weight="normal"  textLength="25" lengthAdjust="spacingAndGlyphs" stroke="#262626" stroke-width="0.22">D797N</text>
<line x1="551" y1="262.6" x2="551" y2="388.6" stroke="#888" stroke-width="0.8"/>
<line x1="548.1" y1="262.6" x2="551" y2="262.6" stroke="#888" stroke-width="0.7"/>
<text x="545.5" y="266.0" font-size="7.6" fill="#262626" text-anchor="end" font-weight="normal"  textLength="9.1" lengthAdjust="spacingAndGlyphs" stroke="#262626" stroke-width="0.22">30</text>
<line x1="548.1" y1="283.6" x2="551" y2="283.6" stroke="#888" stroke-width="0.7"/>
<text x="545.5" y="287.0" font-size="7.6" fill="#262626" text-anchor="end" font-weight="normal"  textLength="9.1" lengthAdjust="spacingAndGlyphs" stroke="#262626" stroke-width="0.22">20</text>
<line x1="548.1" y1="304.6" x2="551" y2="304.6" stroke="#888" stroke-width="0.7"/>
<text x="545.5" y="308.0" font-size="7.6" fill="#262626" text-anchor="end" font-weight="normal"  textLength="9.1" lengthAdjust="spacingAndGlyphs" stroke="#262626" stroke-width="0.22">10</text>
<line x1="548.1" y1="325.6" x2="551" y2="325.6" stroke="#888" stroke-width="0.7"/>
<text x="545.5" y="329.0" font-size="7.6" fill="#262626" text-anchor="end" font-weight="normal"  textLength="4.55" lengthAdjust="spacingAndGlyphs" stroke="#262626" stroke-width="0.22">0</text>
<line x1="548.1" y1="346.6" x2="551" y2="346.6" stroke="#888" stroke-width="0.7"/>
<text x="545.5" y="350.0" font-size="7.6" fill="#262626" text-anchor="end" font-weight="normal"  textLength="13.399999999999999" lengthAdjust="spacingAndGlyphs" stroke="#262626" stroke-width="0.22">–10</text>
<line x1="548.1" y1="367.6" x2="551" y2="367.6" stroke="#888" stroke-width="0.7"/>
<text x="545.5" y="371.0" font-size="7.6" fill="#262626" text-anchor="end" font-weight="normal"  textLength="13.399999999999999" lengthAdjust="spacingAndGlyphs" stroke="#262626" stroke-width="0.22">–20</text>
<line x1="548.1" y1="388.6" x2="551" y2="388.6" stroke="#888" stroke-width="0.7"/>
<text x="545.5" y="392.0" font-size="7.6" fill="#262626" text-anchor="end" font-weight="normal"  textLength="13.399999999999999" lengthAdjust="spacingAndGlyphs" stroke="#262626" stroke-width="0.22">–30</text>
<text x="525.8" y="323.9" font-size="8.8" fill="#262626" text-anchor="middle" textLength="48.8" lengthAdjust="spacingAndGlyphs" transform="rotate(-90 525.8 323.9)" stroke="#262626" stroke-width="0.22">Current (nA)</text>
<rect x="590.4" y="297" width="15.2" height="28.3" fill="#a9a9a9" stroke="#333" stroke-width="0.6"/>
<rect x="590.4" y="325.3" width="15.2" height="28.6" fill="#fff" stroke="#333" stroke-width="0.6"/>
<line x1="558.3" y1="325.4" x2="685" y2="325.4" stroke="#333" stroke-width="0.7"/>
<line x1="621.5" y1="260.5" x2="621.5" y2="409" stroke="#222" stroke-width="0.7" stroke-dasharray="2.6,2"/>
<line x1="558.3" y1="409.1" x2="685" y2="409.1" stroke="#888" stroke-width="0.9"/>
<line x1="574.2" y1="409.1" x2="574.2" y2="411" stroke="#888" stroke-width="0.7"/>
<line x1="597.5" y1="409.1" x2="597.5" y2="411" stroke="#888" stroke-width="0.7"/>
<line x1="645.2" y1="409.1" x2="645.2" y2="411" stroke="#888" stroke-width="0.7"/>
<line x1="669.1" y1="409.1" x2="669.1" y2="411" stroke="#888" stroke-width="0.7"/>
<circle cx="568.3" cy="326.2" r="2.85" fill="#000"/>
<circle cx="575" cy="327.5" r="2.85" fill="#000"/>
<circle cx="579" cy="326.2" r="2.85" fill="#000"/>
<circle cx="577" cy="328.2" r="2.85" fill="#000"/>
<circle cx="571" cy="321.8" r="2.75" fill="#fff" stroke="#111" stroke-width="0.7"/>
<circle cx="573.6" cy="322.4" r="2.75" fill="#fff" stroke="#111" stroke-width="0.7"/>
<circle cx="572" cy="324.5" r="2.75" fill="#fff" stroke="#111" stroke-width="0.7"/>
<circle cx="576.3" cy="324.9" r="2.75" fill="#fff" stroke="#111" stroke-width="0.7"/>
<circle cx="597.8" cy="283.6" r="2.75" fill="#fff" stroke="#111" stroke-width="0.7"/>
<circle cx="593.2" cy="296.6" r="2.75" fill="#fff" stroke="#111" stroke-width="0.7"/>
<circle cx="603.2" cy="297.9" r="2.75" fill="#fff" stroke="#111" stroke-width="0.7"/>
<circle cx="597.8" cy="305.9" r="2.75" fill="#fff" stroke="#111" stroke-width="0.7"/>
<circle cx="598.1" cy="341.7" r="2.85" fill="#000"/>
<circle cx="593.2" cy="353.2" r="2.85" fill="#000"/>
<circle cx="603.2" cy="353.9" r="2.85" fill="#000"/>
<circle cx="598.1" cy="370" r="2.85" fill="#000"/>
<circle cx="639.8" cy="325.4" r="2.85" fill="#000"/>
<circle cx="646" cy="326.3" r="2.85" fill="#000"/>
<circle cx="650.4" cy="325.9" r="2.85" fill="#000"/>
<circle cx="642" cy="325.8" r="2.85" fill="#000"/>
<circle cx="643.3" cy="325" r="2.75" fill="#fff" stroke="#111" stroke-width="0.7"/>
<circle cx="647.7" cy="325" r="2.75" fill="#fff" stroke="#111" stroke-width="0.7"/>
<circle cx="663.7" cy="325.9" r="2.75" fill="#fff" stroke="#111" stroke-width="0.7"/>
<circle cx="665.5" cy="321.4" r="2.75" fill="#fff" stroke="#111" stroke-width="0.7"/>
<circle cx="669" cy="317.4" r="2.75" fill="#fff" stroke="#111" stroke-width="0.7"/>
<circle cx="668.2" cy="326.3" r="2.85" fill="#000"/>
<circle cx="671.7" cy="327.2" r="2.85" fill="#000"/>
<circle cx="674.4" cy="325.9" r="2.85" fill="#000"/>
<circle cx="670" cy="327.6" r="2.85" fill="#000"/>
<circle cx="666" cy="327" r="2.85" fill="#000"/>
<circle cx="672.1" cy="323.6" r="2.75" fill="#fff" stroke="#111" stroke-width="0.7"/>
<circle cx="635.1" cy="377.3" r="3" fill="#000"/><circle cx="635.1" cy="388.6" r="2.7" fill="#fff" stroke="#111" stroke-width="0.7"/>
<text x="641.2" y="380" font-size="8" fill="#262626" text-anchor="start" font-weight="normal"  textLength="34.6" lengthAdjust="spacingAndGlyphs" stroke="#262626" stroke-width="0.22">–100 mV</text>
<text x="641.2" y="391.5" font-size="8" fill="#262626" text-anchor="start" font-weight="normal"  textLength="34.6" lengthAdjust="spacingAndGlyphs" stroke="#262626" stroke-width="0.22">+100 mV</text>
<text x="578.5" y="420.5" font-size="8.6" fill="#262626" text-anchor="end" transform="rotate(-45 578.5 420.5)" stroke="#262626" stroke-width="0.22">Ca<tspan font-size="5.6" dy="-3">2+</tspan></text>
<text x="602" y="420.5" font-size="8.6" fill="#262626" text-anchor="end" transform="rotate(-45 602 420.5)" stroke="#262626" stroke-width="0.22">Ca<tspan font-size="5.6" dy="-3">2+</tspan><tspan dy="3">, CBTA</tspan></text>
<text x="649.5" y="420.5" font-size="8.6" fill="#262626" text-anchor="end" transform="rotate(-45 649.5 420.5)" stroke="#262626" stroke-width="0.22">Ca<tspan font-size="5.6" dy="-3">2+</tspan></text>
<text x="673.5" y="420.5" font-size="8.6" fill="#262626" text-anchor="end" transform="rotate(-45 673.5 420.5)" stroke="#262626" stroke-width="0.22">Ca<tspan font-size="5.6" dy="-3">2+</tspan><tspan dy="3">, CBTA</tspan></text>
</svg>
</body></html>
